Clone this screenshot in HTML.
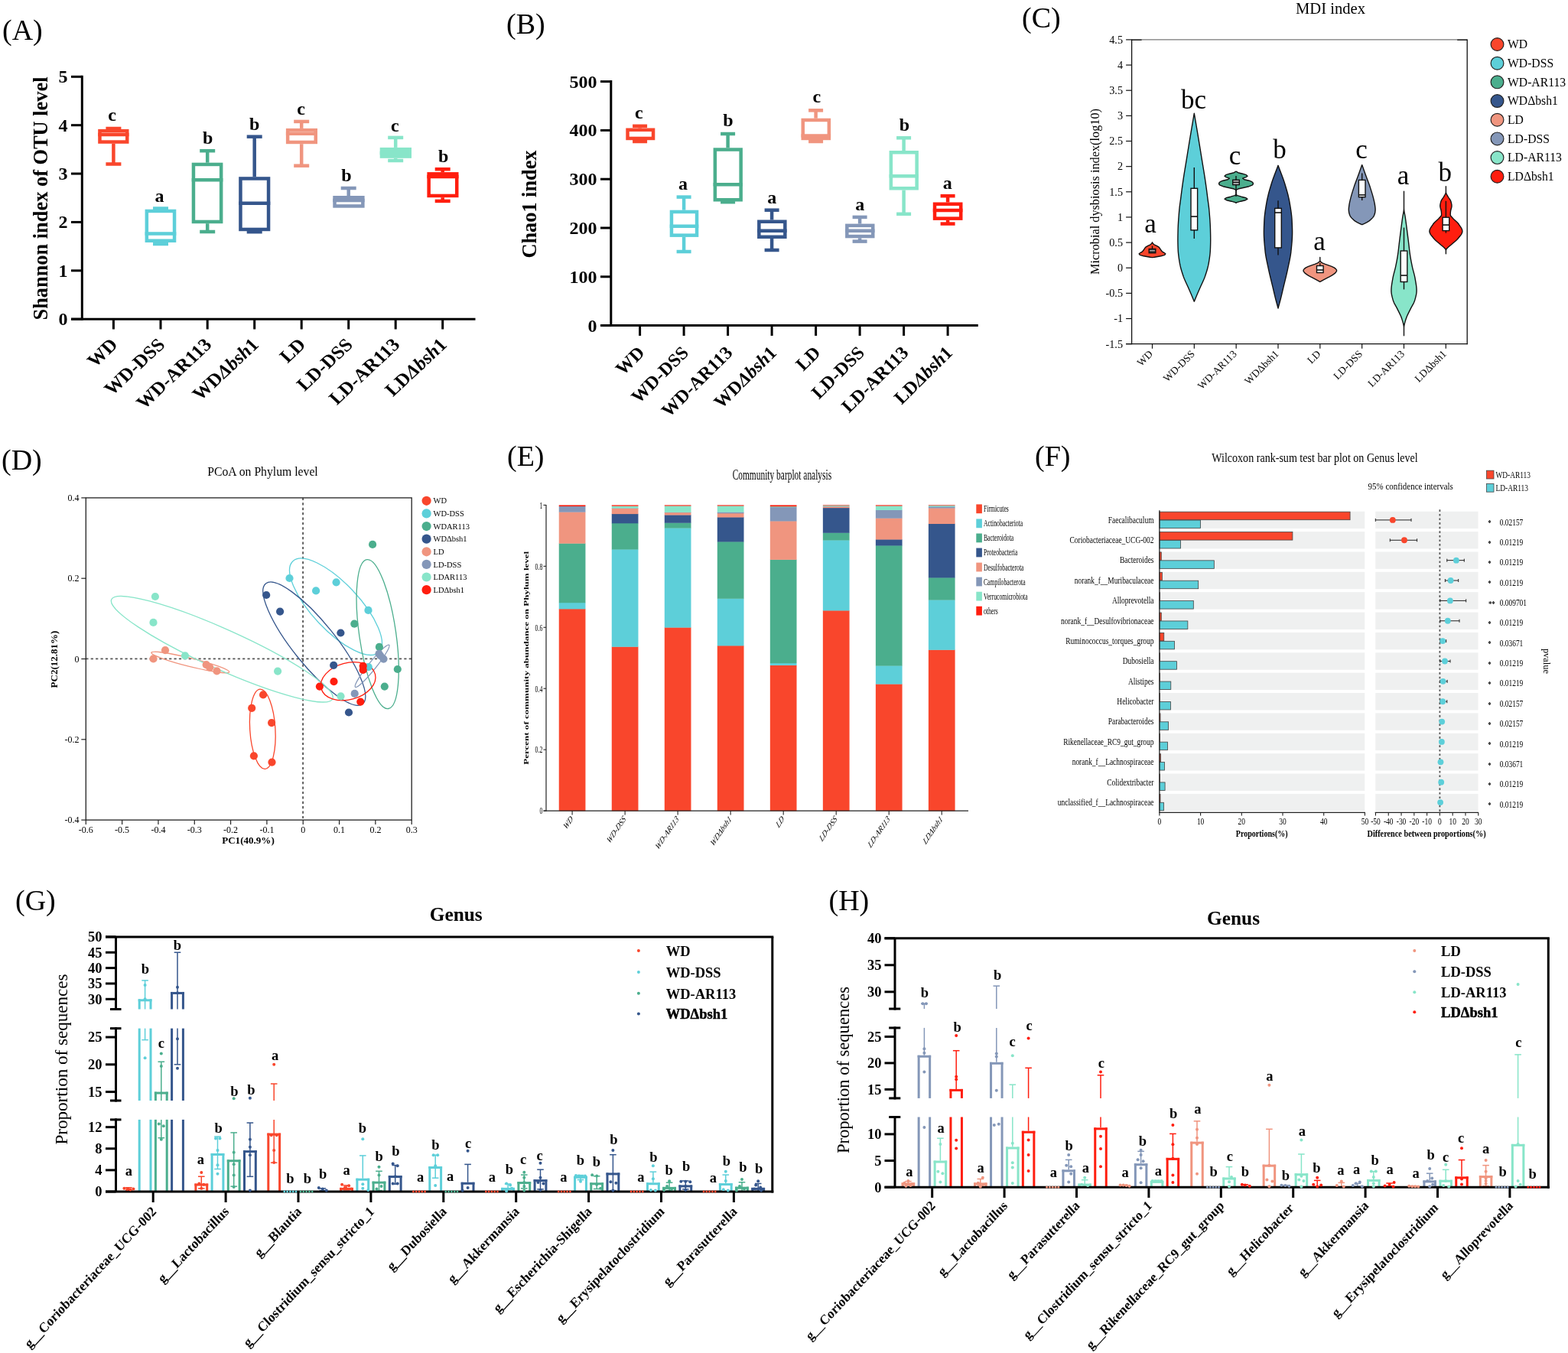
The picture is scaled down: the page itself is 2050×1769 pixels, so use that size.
<!DOCTYPE html>
<html lang="en">
<head>
<meta charset="utf-8">
<title>Figure</title>
<style>
html,body{margin:0;padding:0;background:#fff;}
body{width:2050px;height:1769px;overflow:hidden;}
svg{display:block;font-family:"Liberation Serif","DejaVu Serif",serif;}
</style>
</head>
<body>
<svg width="2050" height="1769" viewBox="0 0 2050 1769">
<rect x="0" y="0" width="2050" height="1769" fill="#ffffff"/>
<g id="pA">
<text x="3" y="52" font-size="38">(A)</text>
<line x1="107.3" y1="98.8" x2="107.3" y2="418.7" stroke="#000" stroke-width="3"/>
<line x1="93" y1="417.2" x2="621.5" y2="417.2" stroke="#000" stroke-width="3"/>
<line x1="93" y1="417.2" x2="107.3" y2="417.2" stroke="#000" stroke-width="3"/>
<text x="88.5" y="425.2" font-size="24" font-weight="bold" text-anchor="end">0</text>
<line x1="93" y1="353.82" x2="107.3" y2="353.82" stroke="#000" stroke-width="3"/>
<text x="88.5" y="361.82" font-size="24" font-weight="bold" text-anchor="end">1</text>
<line x1="93" y1="290.44" x2="107.3" y2="290.44" stroke="#000" stroke-width="3"/>
<text x="88.5" y="298.44" font-size="24" font-weight="bold" text-anchor="end">2</text>
<line x1="93" y1="227.06" x2="107.3" y2="227.06" stroke="#000" stroke-width="3"/>
<text x="88.5" y="235.06" font-size="24" font-weight="bold" text-anchor="end">3</text>
<line x1="93" y1="163.68" x2="107.3" y2="163.68" stroke="#000" stroke-width="3"/>
<text x="88.5" y="171.68" font-size="24" font-weight="bold" text-anchor="end">4</text>
<line x1="93" y1="100.3" x2="107.3" y2="100.3" stroke="#000" stroke-width="3"/>
<text x="88.5" y="108.3" font-size="24" font-weight="bold" text-anchor="end">5</text>
<line x1="148.4" y1="417.2" x2="148.4" y2="430.5" stroke="#000" stroke-width="3"/>
<line x1="210" y1="417.2" x2="210" y2="430.5" stroke="#000" stroke-width="3"/>
<line x1="271.2" y1="417.2" x2="271.2" y2="430.5" stroke="#000" stroke-width="3"/>
<line x1="332.7" y1="417.2" x2="332.7" y2="430.5" stroke="#000" stroke-width="3"/>
<line x1="394.2" y1="417.2" x2="394.2" y2="430.5" stroke="#000" stroke-width="3"/>
<line x1="455.7" y1="417.2" x2="455.7" y2="430.5" stroke="#000" stroke-width="3"/>
<line x1="517.2" y1="417.2" x2="517.2" y2="430.5" stroke="#000" stroke-width="3"/>
<line x1="578.7" y1="417.2" x2="578.7" y2="430.5" stroke="#000" stroke-width="3"/>
<text transform="translate(62 259.5) rotate(-90)" font-size="27" font-weight="bold" text-anchor="middle" textLength="318" lengthAdjust="spacingAndGlyphs">Shannon index of OTU level</text>
<line x1="148.4" y1="168" x2="148.4" y2="168.9" stroke="#F9462C" stroke-width="4.5"/>
<line x1="138.4" y1="168" x2="158.4" y2="168" stroke="#F9462C" stroke-width="4.5"/>
<line x1="148.4" y1="187.8" x2="148.4" y2="214.5" stroke="#F9462C" stroke-width="4.5"/>
<line x1="138.4" y1="214.5" x2="158.4" y2="214.5" stroke="#F9462C" stroke-width="4.5"/>
<rect x="130.45" y="171.15" width="35.8" height="14.4" fill="none" stroke="#F9462C" stroke-width="4.5"/>
<line x1="128.2" y1="176" x2="168.5" y2="176" stroke="#F9462C" stroke-width="4.5"/>
<line x1="210" y1="272.5" x2="210" y2="273.7" stroke="#5DCFD9" stroke-width="4.5"/>
<line x1="200" y1="272.5" x2="220" y2="272.5" stroke="#5DCFD9" stroke-width="4.5"/>
<line x1="210" y1="317" x2="210" y2="319" stroke="#5DCFD9" stroke-width="4.5"/>
<line x1="200" y1="319" x2="220" y2="319" stroke="#5DCFD9" stroke-width="4.5"/>
<rect x="191.85" y="275.95" width="36.2" height="38.8" fill="none" stroke="#5DCFD9" stroke-width="4.5"/>
<line x1="189.6" y1="305.6" x2="230.3" y2="305.6" stroke="#5DCFD9" stroke-width="4.5"/>
<line x1="271.2" y1="197.2" x2="271.2" y2="212.7" stroke="#4BAE8D" stroke-width="4.5"/>
<line x1="261.2" y1="197.2" x2="281.2" y2="197.2" stroke="#4BAE8D" stroke-width="4.5"/>
<line x1="271.2" y1="292.2" x2="271.2" y2="303" stroke="#4BAE8D" stroke-width="4.5"/>
<line x1="261.2" y1="303" x2="281.2" y2="303" stroke="#4BAE8D" stroke-width="4.5"/>
<rect x="252.95" y="214.95" width="36.2" height="75" fill="none" stroke="#4BAE8D" stroke-width="4.5"/>
<line x1="250.7" y1="235.2" x2="291.4" y2="235.2" stroke="#4BAE8D" stroke-width="4.5"/>
<line x1="332.7" y1="178.7" x2="332.7" y2="231.2" stroke="#35568C" stroke-width="4.5"/>
<line x1="322.7" y1="178.7" x2="342.7" y2="178.7" stroke="#35568C" stroke-width="4.5"/>
<line x1="332.7" y1="302.2" x2="332.7" y2="303.2" stroke="#35568C" stroke-width="4.5"/>
<line x1="322.7" y1="303.2" x2="342.7" y2="303.2" stroke="#35568C" stroke-width="4.5"/>
<rect x="314.45" y="233.45" width="36.6" height="66.5" fill="none" stroke="#35568C" stroke-width="4.5"/>
<line x1="312.2" y1="265.8" x2="353.3" y2="265.8" stroke="#35568C" stroke-width="4.5"/>
<line x1="394.2" y1="158.9" x2="394.2" y2="167.9" stroke="#F0957F" stroke-width="4.5"/>
<line x1="384.2" y1="158.9" x2="404.2" y2="158.9" stroke="#F0957F" stroke-width="4.5"/>
<line x1="394.2" y1="188.2" x2="394.2" y2="216.7" stroke="#F0957F" stroke-width="4.5"/>
<line x1="384.2" y1="216.7" x2="404.2" y2="216.7" stroke="#F0957F" stroke-width="4.5"/>
<rect x="376.15" y="170.15" width="36.6" height="15.8" fill="none" stroke="#F0957F" stroke-width="4.5"/>
<line x1="373.9" y1="174.8" x2="415" y2="174.8" stroke="#F0957F" stroke-width="4.5"/>
<line x1="455.7" y1="246" x2="455.7" y2="256" stroke="#8497B8" stroke-width="4.5"/>
<line x1="445.7" y1="246" x2="465.7" y2="246" stroke="#8497B8" stroke-width="4.5"/>
<rect x="437.55" y="258.25" width="36.8" height="11.2" fill="none" stroke="#8497B8" stroke-width="4.5"/>
<line x1="435.3" y1="262" x2="476.6" y2="262" stroke="#8497B8" stroke-width="4.5"/>
<line x1="517.2" y1="179.9" x2="517.2" y2="192.9" stroke="#88E5C9" stroke-width="4.5"/>
<line x1="507.2" y1="179.9" x2="527.2" y2="179.9" stroke="#88E5C9" stroke-width="4.5"/>
<line x1="517.2" y1="206.8" x2="517.2" y2="210" stroke="#88E5C9" stroke-width="4.5"/>
<line x1="507.2" y1="210" x2="527.2" y2="210" stroke="#88E5C9" stroke-width="4.5"/>
<rect x="498.95" y="195.15" width="36.8" height="9.4" fill="none" stroke="#88E5C9" stroke-width="4.5"/>
<line x1="496.7" y1="200" x2="538" y2="200" stroke="#88E5C9" stroke-width="4.5"/>
<line x1="578.7" y1="221.2" x2="578.7" y2="225.1" stroke="#FF1E0F" stroke-width="4.5"/>
<line x1="568.7" y1="221.2" x2="588.7" y2="221.2" stroke="#FF1E0F" stroke-width="4.5"/>
<line x1="578.7" y1="258.2" x2="578.7" y2="262.9" stroke="#FF1E0F" stroke-width="4.5"/>
<line x1="568.7" y1="262.9" x2="588.7" y2="262.9" stroke="#FF1E0F" stroke-width="4.5"/>
<rect x="560.65" y="227.35" width="36.6" height="28.6" fill="none" stroke="#FF1E0F" stroke-width="4.5"/>
<line x1="558.4" y1="231" x2="599.5" y2="231" stroke="#FF1E0F" stroke-width="4.5"/>
<rect x="499" y="195" width="36.5" height="9.5" fill="#88E5C9"/>
<text x="146.5" y="158.3" font-size="24" font-weight="bold" text-anchor="middle">c</text>
<text x="208.5" y="264.1" font-size="24" font-weight="bold" text-anchor="middle">a</text>
<text x="271.6" y="187.8" font-size="24" font-weight="bold" text-anchor="middle">b</text>
<text x="332.6" y="169.5" font-size="24" font-weight="bold" text-anchor="middle">b</text>
<text x="393.6" y="150.2" font-size="24" font-weight="bold" text-anchor="middle">c</text>
<text x="453" y="237.3" font-size="24" font-weight="bold" text-anchor="middle">b</text>
<text x="516.3" y="171.6" font-size="24" font-weight="bold" text-anchor="middle">c</text>
<text x="579.8" y="212.2" font-size="24" font-weight="bold" text-anchor="middle">b</text>
<text transform="translate(155.4 452) scale(1.07 1) rotate(-45)" font-size="24" font-weight="bold" text-anchor="end">WD</text>
<text transform="translate(217 452) scale(1.07 1) rotate(-45)" font-size="24" font-weight="bold" text-anchor="end">WD-DSS</text>
<text transform="translate(278.2 452) scale(1.07 1) rotate(-45)" font-size="24" font-weight="bold" text-anchor="end">WD-AR113</text>
<text transform="translate(339.7 452) scale(1.07 1) rotate(-45)" font-size="24" font-weight="bold" text-anchor="end">WD<tspan font-style="italic">Δbsh</tspan>1</text>
<text transform="translate(401.2 452) scale(1.07 1) rotate(-45)" font-size="24" font-weight="bold" text-anchor="end">LD</text>
<text transform="translate(462.7 452) scale(1.07 1) rotate(-45)" font-size="24" font-weight="bold" text-anchor="end">LD-DSS</text>
<text transform="translate(524.2 452) scale(1.07 1) rotate(-45)" font-size="24" font-weight="bold" text-anchor="end">LD-AR113</text>
<text transform="translate(585.7 452) scale(1.07 1) rotate(-45)" font-size="24" font-weight="bold" text-anchor="end">LD<tspan font-style="italic">Δbsh</tspan>1</text>
</g>
<g id="pB">
<text x="662" y="44" font-size="38">(B)</text>
<line x1="798.8" y1="105.1" x2="798.8" y2="427.1" stroke="#000" stroke-width="3"/>
<line x1="785" y1="425.6" x2="1278.8" y2="425.6" stroke="#000" stroke-width="3"/>
<line x1="785" y1="425.6" x2="798.8" y2="425.6" stroke="#000" stroke-width="3"/>
<text x="780.5" y="433.6" font-size="24" font-weight="bold" text-anchor="end">0</text>
<line x1="785" y1="361.8" x2="798.8" y2="361.8" stroke="#000" stroke-width="3"/>
<text x="780.5" y="369.8" font-size="24" font-weight="bold" text-anchor="end">100</text>
<line x1="785" y1="298" x2="798.8" y2="298" stroke="#000" stroke-width="3"/>
<text x="780.5" y="306" font-size="24" font-weight="bold" text-anchor="end">200</text>
<line x1="785" y1="234.2" x2="798.8" y2="234.2" stroke="#000" stroke-width="3"/>
<text x="780.5" y="242.2" font-size="24" font-weight="bold" text-anchor="end">300</text>
<line x1="785" y1="170.4" x2="798.8" y2="170.4" stroke="#000" stroke-width="3"/>
<text x="780.5" y="178.4" font-size="24" font-weight="bold" text-anchor="end">400</text>
<line x1="785" y1="106.6" x2="798.8" y2="106.6" stroke="#000" stroke-width="3"/>
<text x="780.5" y="114.6" font-size="24" font-weight="bold" text-anchor="end">500</text>
<line x1="836.6" y1="425.6" x2="836.6" y2="439" stroke="#000" stroke-width="3"/>
<line x1="894.1" y1="425.6" x2="894.1" y2="439" stroke="#000" stroke-width="3"/>
<line x1="951.6" y1="425.6" x2="951.6" y2="439" stroke="#000" stroke-width="3"/>
<line x1="1009.1" y1="425.6" x2="1009.1" y2="439" stroke="#000" stroke-width="3"/>
<line x1="1066.6" y1="425.6" x2="1066.6" y2="439" stroke="#000" stroke-width="3"/>
<line x1="1124.1" y1="425.6" x2="1124.1" y2="439" stroke="#000" stroke-width="3"/>
<line x1="1181.6" y1="425.6" x2="1181.6" y2="439" stroke="#000" stroke-width="3"/>
<line x1="1239.1" y1="425.6" x2="1239.1" y2="439" stroke="#000" stroke-width="3"/>
<text transform="translate(700.5 267) rotate(-90)" font-size="27" font-weight="bold" text-anchor="middle" textLength="141" lengthAdjust="spacingAndGlyphs">Chao1 index</text>
<line x1="836.6" y1="164.8" x2="836.6" y2="167.5" stroke="#F9462C" stroke-width="4.5"/>
<line x1="827.1" y1="164.8" x2="846.1" y2="164.8" stroke="#F9462C" stroke-width="4.5"/>
<line x1="836.6" y1="183.2" x2="836.6" y2="185" stroke="#F9462C" stroke-width="4.5"/>
<line x1="827.1" y1="185" x2="846.1" y2="185" stroke="#F9462C" stroke-width="4.5"/>
<rect x="820.55" y="169.75" width="33.5" height="11.2" fill="none" stroke="#F9462C" stroke-width="4.5"/>
<line x1="894.1" y1="257.6" x2="894.1" y2="274.7" stroke="#5DCFD9" stroke-width="4.5"/>
<line x1="884.6" y1="257.6" x2="903.6" y2="257.6" stroke="#5DCFD9" stroke-width="4.5"/>
<line x1="894.1" y1="309.9" x2="894.1" y2="329" stroke="#5DCFD9" stroke-width="4.5"/>
<line x1="884.6" y1="329" x2="903.6" y2="329" stroke="#5DCFD9" stroke-width="4.5"/>
<rect x="877.95" y="276.95" width="33.1" height="30.7" fill="none" stroke="#5DCFD9" stroke-width="4.5"/>
<line x1="875.7" y1="295.7" x2="913.3" y2="295.7" stroke="#5DCFD9" stroke-width="4.5"/>
<line x1="951.6" y1="175" x2="951.6" y2="193.3" stroke="#4BAE8D" stroke-width="4.5"/>
<line x1="942.1" y1="175" x2="961.1" y2="175" stroke="#4BAE8D" stroke-width="4.5"/>
<line x1="951.6" y1="263.5" x2="951.6" y2="264.2" stroke="#4BAE8D" stroke-width="4.5"/>
<line x1="942.1" y1="264.2" x2="961.1" y2="264.2" stroke="#4BAE8D" stroke-width="4.5"/>
<rect x="934.85" y="195.55" width="33.8" height="65.7" fill="none" stroke="#4BAE8D" stroke-width="4.5"/>
<line x1="932.6" y1="241.3" x2="970.9" y2="241.3" stroke="#4BAE8D" stroke-width="4.5"/>
<line x1="1009.1" y1="274.7" x2="1009.1" y2="287.5" stroke="#35568C" stroke-width="4.5"/>
<line x1="999.6" y1="274.7" x2="1018.6" y2="274.7" stroke="#35568C" stroke-width="4.5"/>
<line x1="1009.1" y1="312" x2="1009.1" y2="327" stroke="#35568C" stroke-width="4.5"/>
<line x1="999.6" y1="327" x2="1018.6" y2="327" stroke="#35568C" stroke-width="4.5"/>
<rect x="992.35" y="289.75" width="34" height="20" fill="none" stroke="#35568C" stroke-width="4.5"/>
<line x1="990.1" y1="301.8" x2="1028.6" y2="301.8" stroke="#35568C" stroke-width="4.5"/>
<line x1="1066.6" y1="144.3" x2="1066.6" y2="154.7" stroke="#F0957F" stroke-width="4.5"/>
<line x1="1057.1" y1="144.3" x2="1076.1" y2="144.3" stroke="#F0957F" stroke-width="4.5"/>
<line x1="1066.6" y1="183.2" x2="1066.6" y2="185" stroke="#F0957F" stroke-width="4.5"/>
<line x1="1057.1" y1="185" x2="1076.1" y2="185" stroke="#F0957F" stroke-width="4.5"/>
<rect x="1049.75" y="156.95" width="34.1" height="24" fill="none" stroke="#F0957F" stroke-width="4.5"/>
<line x1="1047.5" y1="177.5" x2="1086.1" y2="177.5" stroke="#F0957F" stroke-width="4.5"/>
<line x1="1124.1" y1="283.9" x2="1124.1" y2="292.6" stroke="#8497B8" stroke-width="4.5"/>
<line x1="1114.6" y1="283.9" x2="1133.6" y2="283.9" stroke="#8497B8" stroke-width="4.5"/>
<line x1="1124.1" y1="311.3" x2="1124.1" y2="315.6" stroke="#8497B8" stroke-width="4.5"/>
<line x1="1114.6" y1="315.6" x2="1133.6" y2="315.6" stroke="#8497B8" stroke-width="4.5"/>
<rect x="1107.35" y="294.85" width="33.9" height="14.2" fill="none" stroke="#8497B8" stroke-width="4.5"/>
<line x1="1105.1" y1="301.8" x2="1143.5" y2="301.8" stroke="#8497B8" stroke-width="4.5"/>
<line x1="1181.6" y1="180.3" x2="1181.6" y2="197" stroke="#88E5C9" stroke-width="4.5"/>
<line x1="1172.1" y1="180.3" x2="1191.1" y2="180.3" stroke="#88E5C9" stroke-width="4.5"/>
<line x1="1181.6" y1="248.5" x2="1181.6" y2="279.8" stroke="#88E5C9" stroke-width="4.5"/>
<line x1="1172.1" y1="279.8" x2="1191.1" y2="279.8" stroke="#88E5C9" stroke-width="4.5"/>
<rect x="1164.85" y="199.25" width="33.8" height="47" fill="none" stroke="#88E5C9" stroke-width="4.5"/>
<line x1="1162.6" y1="230.2" x2="1200.9" y2="230.2" stroke="#88E5C9" stroke-width="4.5"/>
<line x1="1239.1" y1="256.2" x2="1239.1" y2="264.5" stroke="#FF1E0F" stroke-width="4.5"/>
<line x1="1229.6" y1="256.2" x2="1248.6" y2="256.2" stroke="#FF1E0F" stroke-width="4.5"/>
<line x1="1239.1" y1="287.9" x2="1239.1" y2="292.6" stroke="#FF1E0F" stroke-width="4.5"/>
<line x1="1229.6" y1="292.6" x2="1248.6" y2="292.6" stroke="#FF1E0F" stroke-width="4.5"/>
<rect x="1222.05" y="266.75" width="34.2" height="18.9" fill="none" stroke="#FF1E0F" stroke-width="4.5"/>
<line x1="1219.8" y1="274.9" x2="1258.5" y2="274.9" stroke="#FF1E0F" stroke-width="4.5"/>
<text x="835.4" y="155.3" font-size="24" font-weight="bold" text-anchor="middle">c</text>
<text x="893" y="247.9" font-size="24" font-weight="bold" text-anchor="middle">a</text>
<text x="952" y="165" font-size="24" font-weight="bold" text-anchor="middle">b</text>
<text x="1009.2" y="266.2" font-size="24" font-weight="bold" text-anchor="middle">a</text>
<text x="1067.8" y="133.9" font-size="24" font-weight="bold" text-anchor="middle">c</text>
<text x="1124.2" y="274.7" font-size="24" font-weight="bold" text-anchor="middle">a</text>
<text x="1182.4" y="171" font-size="24" font-weight="bold" text-anchor="middle">b</text>
<text x="1238.7" y="247.2" font-size="24" font-weight="bold" text-anchor="middle">a</text>
<text transform="translate(844.1 462.5) scale(1.01 1) rotate(-45)" font-size="24" font-weight="bold" text-anchor="end">WD</text>
<text transform="translate(901.6 462.5) scale(1.01 1) rotate(-45)" font-size="24" font-weight="bold" text-anchor="end">WD-DSS</text>
<text transform="translate(959.1 462.5) scale(1.01 1) rotate(-45)" font-size="24" font-weight="bold" text-anchor="end">WD-AR113</text>
<text transform="translate(1016.6 462.5) scale(1.01 1) rotate(-45)" font-size="24" font-weight="bold" text-anchor="end">WD<tspan font-style="italic">Δbsh</tspan>1</text>
<text transform="translate(1074.1 462.5) scale(1.01 1) rotate(-45)" font-size="24" font-weight="bold" text-anchor="end">LD</text>
<text transform="translate(1131.6 462.5) scale(1.01 1) rotate(-45)" font-size="24" font-weight="bold" text-anchor="end">LD-DSS</text>
<text transform="translate(1189.1 462.5) scale(1.01 1) rotate(-45)" font-size="24" font-weight="bold" text-anchor="end">LD-AR113</text>
<text transform="translate(1246.6 462.5) scale(1.01 1) rotate(-45)" font-size="24" font-weight="bold" text-anchor="end">LD<tspan font-style="italic">Δbsh</tspan>1</text>
</g>
<g id="pC">
<text x="1336" y="36.3" font-size="38">(C)</text>
<text x="1739.5" y="17.5" font-size="20" text-anchor="middle" textLength="91" lengthAdjust="spacingAndGlyphs">MDI index</text>
<line x1="1479.6" y1="51.9" x2="1918.2" y2="51.9" stroke="#555" stroke-width="1"/>
<line x1="1479.6" y1="51.4" x2="1479.6" y2="450.3" stroke="#111" stroke-width="1.3"/>
<line x1="1918.2" y1="51.4" x2="1918.2" y2="450.3" stroke="#111" stroke-width="1.3"/>
<line x1="1472.1" y1="449.7" x2="1918.8" y2="449.7" stroke="#111" stroke-width="1.3"/>
<line x1="1479.6" y1="52.2" x2="1492.6" y2="52.2" stroke="#111" stroke-width="1.2"/>
<line x1="1905.2" y1="52.2" x2="1918.2" y2="52.2" stroke="#111" stroke-width="1.2"/>
<line x1="1472.1" y1="449.7" x2="1479.6" y2="449.7" stroke="#111" stroke-width="1.2"/>
<text x="1468" y="454.5" font-size="14.2" text-anchor="end">-1.5</text>
<line x1="1472.1" y1="416.55" x2="1479.6" y2="416.55" stroke="#111" stroke-width="1.2"/>
<text x="1468" y="421.35" font-size="14.2" text-anchor="end">-1</text>
<line x1="1472.1" y1="383.4" x2="1479.6" y2="383.4" stroke="#111" stroke-width="1.2"/>
<text x="1468" y="388.2" font-size="14.2" text-anchor="end">-0.5</text>
<line x1="1472.1" y1="350.25" x2="1479.6" y2="350.25" stroke="#111" stroke-width="1.2"/>
<text x="1468" y="355.05" font-size="14.2" text-anchor="end">0</text>
<line x1="1472.1" y1="317.1" x2="1479.6" y2="317.1" stroke="#111" stroke-width="1.2"/>
<text x="1468" y="321.9" font-size="14.2" text-anchor="end">0.5</text>
<line x1="1472.1" y1="283.95" x2="1479.6" y2="283.95" stroke="#111" stroke-width="1.2"/>
<text x="1468" y="288.75" font-size="14.2" text-anchor="end">1</text>
<line x1="1472.1" y1="250.8" x2="1479.6" y2="250.8" stroke="#111" stroke-width="1.2"/>
<text x="1468" y="255.6" font-size="14.2" text-anchor="end">1.5</text>
<line x1="1472.1" y1="217.65" x2="1479.6" y2="217.65" stroke="#111" stroke-width="1.2"/>
<text x="1468" y="222.45" font-size="14.2" text-anchor="end">2</text>
<line x1="1472.1" y1="184.5" x2="1479.6" y2="184.5" stroke="#111" stroke-width="1.2"/>
<text x="1468" y="189.3" font-size="14.2" text-anchor="end">2.5</text>
<line x1="1472.1" y1="151.35" x2="1479.6" y2="151.35" stroke="#111" stroke-width="1.2"/>
<text x="1468" y="156.15" font-size="14.2" text-anchor="end">3</text>
<line x1="1472.1" y1="118.2" x2="1479.6" y2="118.2" stroke="#111" stroke-width="1.2"/>
<text x="1468" y="123" font-size="14.2" text-anchor="end">3.5</text>
<line x1="1472.1" y1="85.05" x2="1479.6" y2="85.05" stroke="#111" stroke-width="1.2"/>
<text x="1468" y="89.85" font-size="14.2" text-anchor="end">4</text>
<line x1="1472.1" y1="51.9" x2="1479.6" y2="51.9" stroke="#111" stroke-width="1.2"/>
<text x="1468" y="56.7" font-size="14.2" text-anchor="end">4.5</text>
<line x1="1506.5" y1="449.7" x2="1506.5" y2="455.8" stroke="#111" stroke-width="1.2"/>
<line x1="1561.33" y1="449.7" x2="1561.33" y2="455.8" stroke="#111" stroke-width="1.2"/>
<line x1="1616.16" y1="449.7" x2="1616.16" y2="455.8" stroke="#111" stroke-width="1.2"/>
<line x1="1670.99" y1="449.7" x2="1670.99" y2="455.8" stroke="#111" stroke-width="1.2"/>
<line x1="1725.82" y1="449.7" x2="1725.82" y2="455.8" stroke="#111" stroke-width="1.2"/>
<line x1="1780.65" y1="449.7" x2="1780.65" y2="455.8" stroke="#111" stroke-width="1.2"/>
<line x1="1835.48" y1="449.7" x2="1835.48" y2="455.8" stroke="#111" stroke-width="1.2"/>
<line x1="1890.31" y1="449.7" x2="1890.31" y2="455.8" stroke="#111" stroke-width="1.2"/>
<text transform="translate(1436.5 250.5) rotate(-90)" font-size="16.3" text-anchor="middle" textLength="217" lengthAdjust="spacingAndGlyphs">Microbial dysbiosis index(log10)</text>
<path d="M1506.5 316.8 L1507.2 318.3 L1508.9 319.8 L1512.2 321.3 L1514.74 322.8 L1516.14 324.3 L1517.15 325.8 L1518.11 327.3 L1519.29 328.8 L1521.76 330.3 L1523.8 331.8 L1522.69 333.3 L1517.77 334.8 L1509.34 336.3 L1506.5 336.6 L1506.5 336.6 L1503.66 336.3 L1495.23 334.8 L1490.31 333.3 L1489.2 331.8 L1491.24 330.3 L1493.71 328.8 L1494.89 327.3 L1495.85 325.8 L1496.86 324.3 L1498.26 322.8 L1500.8 321.3 L1504.1 319.8 L1505.8 318.3 L1506.5 316.8 Z" fill="#F9462C" stroke="#111" stroke-width="1.4" stroke-linejoin="round"/>
<path d="M1561.3 148.2 L1561.55 149.7 L1561.81 151.2 L1562.06 152.7 L1562.32 154.2 L1562.57 155.7 L1562.83 157.2 L1563.09 158.7 L1563.34 160.2 L1563.6 161.7 L1563.85 163.2 L1564.11 164.7 L1564.36 166.2 L1564.62 167.7 L1564.87 169.2 L1565.12 170.7 L1565.38 172.2 L1565.63 173.7 L1565.88 175.2 L1566.13 176.7 L1566.38 178.2 L1566.63 179.7 L1566.88 181.2 L1567.13 182.7 L1567.38 184.2 L1567.62 185.7 L1567.87 187.2 L1568.11 188.7 L1568.36 190.2 L1568.6 191.7 L1568.84 193.2 L1569.08 194.7 L1569.33 196.2 L1569.57 197.7 L1569.81 199.2 L1570.05 200.7 L1570.29 202.2 L1570.54 203.7 L1570.78 205.2 L1571.02 206.7 L1571.26 208.2 L1571.51 209.7 L1571.76 211.2 L1572 212.7 L1572.25 214.2 L1572.5 215.7 L1572.75 217.2 L1573 218.7 L1573.25 220.2 L1573.49 221.7 L1573.74 223.2 L1573.99 224.7 L1574.23 226.2 L1574.47 227.7 L1574.71 229.2 L1574.94 230.7 L1575.18 232.2 L1575.4 233.7 L1575.63 235.2 L1575.85 236.7 L1576.07 238.2 L1576.29 239.7 L1576.5 241.2 L1576.71 242.7 L1576.92 244.2 L1577.12 245.7 L1577.33 247.2 L1577.53 248.7 L1577.73 250.2 L1577.92 251.7 L1578.11 253.2 L1578.3 254.7 L1578.49 256.2 L1578.67 257.7 L1578.86 259.2 L1579.06 260.7 L1579.26 262.2 L1579.47 263.7 L1579.68 265.2 L1579.89 266.7 L1580.09 268.2 L1580.28 269.7 L1580.47 271.2 L1580.64 272.7 L1580.79 274.2 L1580.93 275.7 L1581.05 277.2 L1581.18 278.7 L1581.3 280.2 L1581.42 281.7 L1581.54 283.2 L1581.65 284.7 L1581.76 286.2 L1581.87 287.7 L1581.97 289.2 L1582.06 290.7 L1582.15 292.2 L1582.23 293.7 L1582.3 295.2 L1582.36 296.7 L1582.42 298.2 L1582.47 299.7 L1582.51 301.2 L1582.54 302.7 L1582.58 304.2 L1582.61 305.7 L1582.64 307.2 L1582.66 308.7 L1582.68 310.2 L1582.69 311.7 L1582.7 313.2 L1582.7 314.7 L1582.68 316.2 L1582.66 317.7 L1582.63 319.2 L1582.59 320.7 L1582.55 322.2 L1582.5 323.7 L1582.44 325.2 L1582.38 326.7 L1582.3 328.2 L1582.2 329.7 L1582.07 331.2 L1581.91 332.7 L1581.74 334.2 L1581.55 335.7 L1581.35 337.2 L1581.13 338.7 L1580.9 340.2 L1580.66 341.7 L1580.42 343.2 L1580.15 344.7 L1579.85 346.2 L1579.52 347.7 L1579.15 349.2 L1578.76 350.7 L1578.35 352.2 L1577.91 353.7 L1577.45 355.2 L1576.98 356.7 L1576.49 358.2 L1576 359.7 L1575.49 361.2 L1574.94 362.7 L1574.35 364.2 L1573.72 365.7 L1573.06 367.2 L1572.39 368.7 L1571.7 370.2 L1571 371.7 L1570.3 373.2 L1569.61 374.7 L1568.94 376.2 L1568.28 377.7 L1567.63 379.2 L1566.97 380.7 L1566.31 382.2 L1565.66 383.7 L1565.01 385.2 L1564.38 386.7 L1563.76 388.2 L1563.14 389.7 L1562.53 391.2 L1561.92 392.7 L1561.3 394.2 L1561.3 394.2 L1560.68 392.7 L1560.07 391.2 L1559.46 389.7 L1558.84 388.2 L1558.22 386.7 L1557.59 385.2 L1556.94 383.7 L1556.29 382.2 L1555.63 380.7 L1554.97 379.2 L1554.32 377.7 L1553.66 376.2 L1552.99 374.7 L1552.3 373.2 L1551.6 371.7 L1550.9 370.2 L1550.21 368.7 L1549.54 367.2 L1548.88 365.7 L1548.25 364.2 L1547.66 362.7 L1547.11 361.2 L1546.6 359.7 L1546.11 358.2 L1545.62 356.7 L1545.15 355.2 L1544.69 353.7 L1544.25 352.2 L1543.84 350.7 L1543.45 349.2 L1543.08 347.7 L1542.75 346.2 L1542.45 344.7 L1542.18 343.2 L1541.94 341.7 L1541.7 340.2 L1541.47 338.7 L1541.25 337.2 L1541.05 335.7 L1540.86 334.2 L1540.69 332.7 L1540.53 331.2 L1540.4 329.7 L1540.3 328.2 L1540.22 326.7 L1540.16 325.2 L1540.1 323.7 L1540.05 322.2 L1540.01 320.7 L1539.97 319.2 L1539.94 317.7 L1539.92 316.2 L1539.9 314.7 L1539.9 313.2 L1539.91 311.7 L1539.92 310.2 L1539.94 308.7 L1539.96 307.2 L1539.99 305.7 L1540.02 304.2 L1540.06 302.7 L1540.09 301.2 L1540.13 299.7 L1540.18 298.2 L1540.24 296.7 L1540.3 295.2 L1540.37 293.7 L1540.45 292.2 L1540.54 290.7 L1540.63 289.2 L1540.73 287.7 L1540.84 286.2 L1540.95 284.7 L1541.06 283.2 L1541.18 281.7 L1541.3 280.2 L1541.42 278.7 L1541.55 277.2 L1541.67 275.7 L1541.81 274.2 L1541.96 272.7 L1542.13 271.2 L1542.32 269.7 L1542.51 268.2 L1542.71 266.7 L1542.92 265.2 L1543.13 263.7 L1543.34 262.2 L1543.54 260.7 L1543.74 259.2 L1543.93 257.7 L1544.11 256.2 L1544.3 254.7 L1544.49 253.2 L1544.68 251.7 L1544.87 250.2 L1545.07 248.7 L1545.27 247.2 L1545.48 245.7 L1545.68 244.2 L1545.89 242.7 L1546.1 241.2 L1546.31 239.7 L1546.53 238.2 L1546.75 236.7 L1546.97 235.2 L1547.2 233.7 L1547.42 232.2 L1547.66 230.7 L1547.89 229.2 L1548.13 227.7 L1548.37 226.2 L1548.61 224.7 L1548.86 223.2 L1549.11 221.7 L1549.35 220.2 L1549.6 218.7 L1549.85 217.2 L1550.1 215.7 L1550.35 214.2 L1550.6 212.7 L1550.84 211.2 L1551.09 209.7 L1551.34 208.2 L1551.58 206.7 L1551.82 205.2 L1552.06 203.7 L1552.31 202.2 L1552.55 200.7 L1552.79 199.2 L1553.03 197.7 L1553.27 196.2 L1553.52 194.7 L1553.76 193.2 L1554 191.7 L1554.24 190.2 L1554.49 188.7 L1554.73 187.2 L1554.98 185.7 L1555.22 184.2 L1555.47 182.7 L1555.72 181.2 L1555.97 179.7 L1556.22 178.2 L1556.47 176.7 L1556.72 175.2 L1556.97 173.7 L1557.22 172.2 L1557.48 170.7 L1557.73 169.2 L1557.98 167.7 L1558.24 166.2 L1558.49 164.7 L1558.75 163.2 L1559 161.7 L1559.26 160.2 L1559.51 158.7 L1559.77 157.2 L1560.03 155.7 L1560.28 154.2 L1560.54 152.7 L1560.79 151.2 L1561.05 149.7 L1561.3 148.2 Z" fill="#5DCFD9" stroke="#111" stroke-width="1.4" stroke-linejoin="round"/>
<path d="M1616 224.2 L1618.66 225.7 L1624.63 227.2 L1629.33 228.7 L1631 230.2 L1628.88 231.7 L1624.67 233.2 L1626.82 234.7 L1633.14 236.2 L1636.76 237.7 L1638.29 239.2 L1638.33 240.7 L1636.92 242.2 L1633.06 243.7 L1626.45 245.2 L1619.68 246.7 L1616.52 248.2 L1616 249.7 L1616 251.2 L1616 252.7 L1616.03 254.2 L1617.74 255.7 L1622.98 257.2 L1629.01 258.7 L1630.99 260.2 L1628.34 261.7 L1622.14 263.2 L1617 264.7 L1616 265.3 L1616 265.3 L1615 264.7 L1609.86 263.2 L1603.66 261.7 L1601.01 260.2 L1602.99 258.7 L1609.02 257.2 L1614.26 255.7 L1615.97 254.2 L1616 252.7 L1616 251.2 L1616 249.7 L1615.48 248.2 L1612.32 246.7 L1605.55 245.2 L1598.94 243.7 L1595.08 242.2 L1593.67 240.7 L1593.71 239.2 L1595.24 237.7 L1598.86 236.2 L1605.18 234.7 L1607.33 233.2 L1603.12 231.7 L1601 230.2 L1602.67 228.7 L1607.37 227.2 L1613.34 225.7 L1616 224.2 Z" fill="#4BAE8D" stroke="#111" stroke-width="1.4" stroke-linejoin="round"/>
<path d="M1671 216.3 L1671.55 217.8 L1672.11 219.3 L1672.68 220.8 L1673.25 222.3 L1673.82 223.8 L1674.4 225.3 L1674.97 226.8 L1675.55 228.3 L1676.11 229.8 L1676.67 231.3 L1677.22 232.8 L1677.76 234.3 L1678.28 235.8 L1678.79 237.3 L1679.28 238.8 L1679.75 240.3 L1680.2 241.8 L1680.65 243.3 L1681.1 244.8 L1681.54 246.3 L1681.98 247.8 L1682.41 249.3 L1682.83 250.8 L1683.24 252.3 L1683.63 253.8 L1684.02 255.3 L1684.39 256.8 L1684.74 258.3 L1685.08 259.8 L1685.39 261.3 L1685.69 262.8 L1685.97 264.3 L1686.22 265.8 L1686.48 267.3 L1686.74 268.8 L1686.98 270.3 L1687.23 271.8 L1687.46 273.3 L1687.69 274.8 L1687.91 276.3 L1688.11 277.8 L1688.3 279.3 L1688.48 280.8 L1688.64 282.3 L1688.78 283.8 L1688.91 285.3 L1689.02 286.8 L1689.1 288.3 L1689.17 289.8 L1689.24 291.3 L1689.31 292.8 L1689.37 294.3 L1689.43 295.8 L1689.48 297.3 L1689.53 298.8 L1689.56 300.3 L1689.59 301.8 L1689.6 303.3 L1689.6 304.8 L1689.58 306.3 L1689.54 307.8 L1689.49 309.3 L1689.42 310.8 L1689.34 312.3 L1689.25 313.8 L1689.14 315.3 L1689.03 316.8 L1688.9 318.3 L1688.77 319.8 L1688.63 321.3 L1688.49 322.8 L1688.35 324.3 L1688.2 325.8 L1688.05 327.3 L1687.89 328.8 L1687.72 330.3 L1687.51 331.8 L1687.28 333.3 L1687.04 334.8 L1686.77 336.3 L1686.5 337.8 L1686.2 339.3 L1685.9 340.8 L1685.59 342.3 L1685.27 343.8 L1684.95 345.3 L1684.62 346.8 L1684.3 348.3 L1683.98 349.8 L1683.66 351.3 L1683.35 352.8 L1683.02 354.3 L1682.69 355.8 L1682.35 357.3 L1682 358.8 L1681.65 360.3 L1681.29 361.8 L1680.93 363.3 L1680.56 364.8 L1680.19 366.3 L1679.82 367.8 L1679.46 369.3 L1679.09 370.8 L1678.72 372.3 L1678.36 373.8 L1678 375.3 L1677.65 376.8 L1677.29 378.3 L1676.94 379.8 L1676.59 381.3 L1676.24 382.8 L1675.89 384.3 L1675.53 385.8 L1675.17 387.3 L1674.8 388.8 L1674.43 390.3 L1674.05 391.8 L1673.65 393.3 L1673.25 394.8 L1672.84 396.3 L1672.43 397.8 L1672.02 399.3 L1671.6 400.8 L1671.19 402.3 L1671 403 L1671 403 L1670.81 402.3 L1670.4 400.8 L1669.98 399.3 L1669.57 397.8 L1669.16 396.3 L1668.75 394.8 L1668.35 393.3 L1667.95 391.8 L1667.57 390.3 L1667.2 388.8 L1666.83 387.3 L1666.47 385.8 L1666.11 384.3 L1665.76 382.8 L1665.41 381.3 L1665.06 379.8 L1664.71 378.3 L1664.35 376.8 L1664 375.3 L1663.64 373.8 L1663.28 372.3 L1662.91 370.8 L1662.54 369.3 L1662.18 367.8 L1661.81 366.3 L1661.44 364.8 L1661.07 363.3 L1660.71 361.8 L1660.35 360.3 L1660 358.8 L1659.65 357.3 L1659.31 355.8 L1658.98 354.3 L1658.65 352.8 L1658.34 351.3 L1658.02 349.8 L1657.7 348.3 L1657.38 346.8 L1657.05 345.3 L1656.73 343.8 L1656.41 342.3 L1656.1 340.8 L1655.8 339.3 L1655.5 337.8 L1655.23 336.3 L1654.96 334.8 L1654.72 333.3 L1654.49 331.8 L1654.28 330.3 L1654.11 328.8 L1653.95 327.3 L1653.8 325.8 L1653.65 324.3 L1653.51 322.8 L1653.37 321.3 L1653.23 319.8 L1653.1 318.3 L1652.97 316.8 L1652.86 315.3 L1652.75 313.8 L1652.66 312.3 L1652.58 310.8 L1652.51 309.3 L1652.46 307.8 L1652.42 306.3 L1652.4 304.8 L1652.4 303.3 L1652.41 301.8 L1652.44 300.3 L1652.47 298.8 L1652.52 297.3 L1652.57 295.8 L1652.63 294.3 L1652.69 292.8 L1652.76 291.3 L1652.83 289.8 L1652.9 288.3 L1652.98 286.8 L1653.09 285.3 L1653.22 283.8 L1653.36 282.3 L1653.52 280.8 L1653.7 279.3 L1653.89 277.8 L1654.09 276.3 L1654.31 274.8 L1654.54 273.3 L1654.77 271.8 L1655.02 270.3 L1655.26 268.8 L1655.52 267.3 L1655.78 265.8 L1656.03 264.3 L1656.31 262.8 L1656.61 261.3 L1656.92 259.8 L1657.26 258.3 L1657.61 256.8 L1657.98 255.3 L1658.37 253.8 L1658.76 252.3 L1659.17 250.8 L1659.59 249.3 L1660.02 247.8 L1660.46 246.3 L1660.9 244.8 L1661.35 243.3 L1661.8 241.8 L1662.25 240.3 L1662.72 238.8 L1663.21 237.3 L1663.72 235.8 L1664.24 234.3 L1664.78 232.8 L1665.33 231.3 L1665.89 229.8 L1666.45 228.3 L1667.03 226.8 L1667.6 225.3 L1668.18 223.8 L1668.75 222.3 L1669.32 220.8 L1669.89 219.3 L1670.45 217.8 L1671 216.3 Z" fill="#35568C" stroke="#111" stroke-width="1.4" stroke-linejoin="round"/>
<path d="M1725.8 336.4 L1725.8 337.9 L1725.8 339.4 L1725.8 340.9 L1726.74 342.4 L1728.87 343.9 L1732.54 345.4 L1736.9 346.9 L1741.02 348.4 L1744.2 349.9 L1746.2 351.4 L1747.43 352.9 L1747.57 354.4 L1746.52 355.9 L1745.1 357.4 L1743.12 358.9 L1740.81 360.4 L1738.05 361.9 L1735.13 363.4 L1732.3 364.9 L1729.48 366.4 L1726.84 367.9 L1725.8 368.5 L1725.8 368.5 L1724.76 367.9 L1722.12 366.4 L1719.3 364.9 L1716.47 363.4 L1713.55 361.9 L1710.79 360.4 L1708.48 358.9 L1706.5 357.4 L1705.08 355.9 L1704.03 354.4 L1704.17 352.9 L1705.4 351.4 L1707.4 349.9 L1710.58 348.4 L1714.7 346.9 L1719.06 345.4 L1722.73 343.9 L1724.86 342.4 L1725.8 340.9 L1725.8 339.4 L1725.8 337.9 L1725.8 336.4 Z" fill="#F0957F" stroke="#111" stroke-width="1.4" stroke-linejoin="round"/>
<path d="M1780.7 215.6 L1781.24 217.1 L1781.77 218.6 L1782.3 220.1 L1782.84 221.6 L1783.37 223.1 L1783.9 224.6 L1784.44 226.1 L1784.98 227.6 L1785.52 229.1 L1786.07 230.6 L1786.62 232.1 L1787.19 233.6 L1787.76 235.1 L1788.33 236.6 L1788.9 238.1 L1789.46 239.6 L1790.01 241.1 L1790.55 242.6 L1791.07 244.1 L1791.56 245.6 L1792.05 247.1 L1792.53 248.6 L1793 250.1 L1793.46 251.6 L1793.92 253.1 L1794.36 254.6 L1794.78 256.1 L1795.19 257.6 L1795.58 259.1 L1795.96 260.6 L1796.31 262.1 L1796.66 263.6 L1796.99 265.1 L1797.28 266.6 L1797.51 268.1 L1797.72 269.6 L1797.92 271.1 L1798.06 272.6 L1798.1 274.1 L1798.01 275.6 L1797.83 277.1 L1797.59 278.6 L1797.17 280.1 L1796.59 281.6 L1795.77 283.1 L1794.63 284.6 L1793.28 286.1 L1791.62 287.6 L1789.63 289.1 L1787.21 290.6 L1784.27 292.1 L1780.92 293.6 L1780.7 293.7 L1780.7 293.7 L1780.48 293.6 L1777.13 292.1 L1774.19 290.6 L1771.77 289.1 L1769.78 287.6 L1768.12 286.1 L1766.77 284.6 L1765.63 283.1 L1764.81 281.6 L1764.23 280.1 L1763.81 278.6 L1763.57 277.1 L1763.39 275.6 L1763.3 274.1 L1763.34 272.6 L1763.48 271.1 L1763.68 269.6 L1763.89 268.1 L1764.12 266.6 L1764.41 265.1 L1764.74 263.6 L1765.09 262.1 L1765.44 260.6 L1765.82 259.1 L1766.21 257.6 L1766.62 256.1 L1767.04 254.6 L1767.48 253.1 L1767.94 251.6 L1768.4 250.1 L1768.87 248.6 L1769.35 247.1 L1769.84 245.6 L1770.33 244.1 L1770.85 242.6 L1771.39 241.1 L1771.94 239.6 L1772.5 238.1 L1773.07 236.6 L1773.64 235.1 L1774.21 233.6 L1774.78 232.1 L1775.33 230.6 L1775.88 229.1 L1776.42 227.6 L1776.96 226.1 L1777.5 224.6 L1778.03 223.1 L1778.56 221.6 L1779.1 220.1 L1779.63 218.6 L1780.16 217.1 L1780.7 215.6 Z" fill="#8497B8" stroke="#111" stroke-width="1.4" stroke-linejoin="round"/>
<path d="M1835.5 250.1 L1835.5 251.6 L1835.5 253.1 L1835.5 254.6 L1835.5 256.1 L1835.5 257.6 L1835.5 259.1 L1835.5 260.6 L1835.5 262.1 L1835.5 263.6 L1835.5 265.1 L1835.5 266.6 L1835.5 268.1 L1835.5 269.6 L1835.5 271.1 L1835.51 272.6 L1835.59 274.1 L1835.76 275.6 L1835.98 277.1 L1836.24 278.6 L1836.53 280.1 L1836.82 281.6 L1837.1 283.1 L1837.34 284.6 L1837.55 286.1 L1837.76 287.6 L1837.96 289.1 L1838.16 290.6 L1838.36 292.1 L1838.56 293.6 L1838.76 295.1 L1838.95 296.6 L1839.15 298.1 L1839.34 299.6 L1839.54 301.1 L1839.73 302.6 L1839.93 304.1 L1840.12 305.6 L1840.31 307.1 L1840.5 308.6 L1840.69 310.1 L1840.88 311.6 L1841.07 313.1 L1841.25 314.6 L1841.44 316.1 L1841.62 317.6 L1841.8 319.1 L1841.97 320.6 L1842.14 322.1 L1842.31 323.6 L1842.48 325.1 L1842.65 326.6 L1842.83 328.1 L1843.02 329.6 L1843.22 331.1 L1843.43 332.6 L1843.66 334.1 L1843.89 335.6 L1844.15 337.1 L1844.41 338.6 L1844.68 340.1 L1844.96 341.6 L1845.25 343.1 L1845.55 344.6 L1845.85 346.1 L1846.16 347.6 L1846.47 349.1 L1846.82 350.6 L1847.19 352.1 L1847.59 353.6 L1847.99 355.1 L1848.39 356.6 L1848.78 358.1 L1849.16 359.6 L1849.51 361.1 L1849.83 362.6 L1850.1 364.1 L1850.35 365.6 L1850.62 367.1 L1850.88 368.6 L1851.13 370.1 L1851.37 371.6 L1851.58 373.1 L1851.77 374.6 L1851.92 376.1 L1852.03 377.6 L1852.09 379.1 L1852.09 380.6 L1852 382.1 L1851.82 383.6 L1851.57 385.1 L1851.26 386.6 L1850.91 388.1 L1850.52 389.6 L1850.11 391.1 L1849.7 392.6 L1849.2 394.1 L1848.56 395.6 L1847.8 397.1 L1846.98 398.6 L1846.13 400.1 L1845.29 401.6 L1844.5 403.1 L1843.76 404.6 L1843.02 406.1 L1842.26 407.6 L1841.52 409.1 L1840.79 410.6 L1840.1 412.1 L1839.46 413.6 L1838.89 415.1 L1838.35 416.6 L1837.83 418.1 L1837.34 419.6 L1836.89 421.1 L1836.49 422.6 L1836.14 424.1 L1835.82 425.6 L1835.56 427.1 L1835.5 428.6 L1835.5 430.1 L1835.5 431.6 L1835.5 433.1 L1835.5 434.6 L1835.5 436.1 L1835.5 437.6 L1835.5 438.8 L1835.5 438.8 L1835.5 437.6 L1835.5 436.1 L1835.5 434.6 L1835.5 433.1 L1835.5 431.6 L1835.5 430.1 L1835.5 428.6 L1835.44 427.1 L1835.18 425.6 L1834.86 424.1 L1834.51 422.6 L1834.11 421.1 L1833.66 419.6 L1833.17 418.1 L1832.65 416.6 L1832.11 415.1 L1831.54 413.6 L1830.9 412.1 L1830.21 410.6 L1829.48 409.1 L1828.74 407.6 L1827.98 406.1 L1827.24 404.6 L1826.5 403.1 L1825.71 401.6 L1824.87 400.1 L1824.02 398.6 L1823.2 397.1 L1822.44 395.6 L1821.8 394.1 L1821.3 392.6 L1820.89 391.1 L1820.48 389.6 L1820.09 388.1 L1819.74 386.6 L1819.43 385.1 L1819.18 383.6 L1819 382.1 L1818.91 380.6 L1818.91 379.1 L1818.97 377.6 L1819.08 376.1 L1819.23 374.6 L1819.42 373.1 L1819.63 371.6 L1819.87 370.1 L1820.12 368.6 L1820.38 367.1 L1820.65 365.6 L1820.9 364.1 L1821.17 362.6 L1821.49 361.1 L1821.84 359.6 L1822.22 358.1 L1822.61 356.6 L1823.01 355.1 L1823.41 353.6 L1823.81 352.1 L1824.18 350.6 L1824.53 349.1 L1824.84 347.6 L1825.15 346.1 L1825.45 344.6 L1825.75 343.1 L1826.04 341.6 L1826.32 340.1 L1826.59 338.6 L1826.85 337.1 L1827.11 335.6 L1827.34 334.1 L1827.57 332.6 L1827.78 331.1 L1827.98 329.6 L1828.17 328.1 L1828.35 326.6 L1828.52 325.1 L1828.69 323.6 L1828.86 322.1 L1829.03 320.6 L1829.2 319.1 L1829.38 317.6 L1829.56 316.1 L1829.75 314.6 L1829.93 313.1 L1830.12 311.6 L1830.31 310.1 L1830.5 308.6 L1830.69 307.1 L1830.88 305.6 L1831.07 304.1 L1831.27 302.6 L1831.46 301.1 L1831.66 299.6 L1831.85 298.1 L1832.05 296.6 L1832.24 295.1 L1832.44 293.6 L1832.64 292.1 L1832.84 290.6 L1833.04 289.1 L1833.24 287.6 L1833.45 286.1 L1833.66 284.6 L1833.9 283.1 L1834.18 281.6 L1834.47 280.1 L1834.76 278.6 L1835.02 277.1 L1835.24 275.6 L1835.41 274.1 L1835.49 272.6 L1835.5 271.1 L1835.5 269.6 L1835.5 268.1 L1835.5 266.6 L1835.5 265.1 L1835.5 263.6 L1835.5 262.1 L1835.5 260.6 L1835.5 259.1 L1835.5 257.6 L1835.5 256.1 L1835.5 254.6 L1835.5 253.1 L1835.5 251.6 L1835.5 250.1 Z" fill="#88E5C9" stroke="#111" stroke-width="1.4" stroke-linejoin="round"/>
<path d="M1890.4 243.8 L1890.4 245.3 L1890.4 246.8 L1890.4 248.3 L1890.4 249.8 L1890.41 251.3 L1890.8 252.8 L1891.55 254.3 L1892.42 255.8 L1893.26 257.3 L1894.29 258.8 L1895.37 260.3 L1896.29 261.8 L1896.85 263.3 L1897.3 264.8 L1897.67 266.3 L1897.92 267.8 L1898 269.3 L1897.83 270.8 L1897.48 272.3 L1897.06 273.8 L1896.67 275.3 L1896.42 276.8 L1896.31 278.3 L1896.22 279.8 L1896.23 281.3 L1897.07 282.8 L1898.47 284.3 L1899.81 285.8 L1901.35 287.3 L1903.02 288.8 L1904.67 290.3 L1906.13 291.8 L1907.28 293.3 L1908.35 294.8 L1909.4 296.3 L1910.36 297.8 L1911.14 299.3 L1911.68 300.8 L1911.9 302.3 L1911.7 303.8 L1911.11 305.3 L1910.22 306.8 L1909.12 308.3 L1907.91 309.8 L1906.68 311.3 L1905.43 312.8 L1903.93 314.3 L1902.23 315.8 L1900.43 317.3 L1898.64 318.8 L1896.93 320.3 L1895.11 321.8 L1893.31 323.3 L1891.8 324.8 L1890.65 326.3 L1890.4 327.8 L1890.4 329.3 L1890.4 330.8 L1890.4 331.7 L1890.4 331.7 L1890.4 330.8 L1890.4 329.3 L1890.4 327.8 L1890.15 326.3 L1889 324.8 L1887.49 323.3 L1885.69 321.8 L1883.87 320.3 L1882.16 318.8 L1880.37 317.3 L1878.57 315.8 L1876.87 314.3 L1875.37 312.8 L1874.12 311.3 L1872.89 309.8 L1871.68 308.3 L1870.58 306.8 L1869.69 305.3 L1869.1 303.8 L1868.9 302.3 L1869.12 300.8 L1869.66 299.3 L1870.44 297.8 L1871.4 296.3 L1872.45 294.8 L1873.52 293.3 L1874.67 291.8 L1876.13 290.3 L1877.78 288.8 L1879.45 287.3 L1880.99 285.8 L1882.33 284.3 L1883.73 282.8 L1884.57 281.3 L1884.58 279.8 L1884.49 278.3 L1884.38 276.8 L1884.13 275.3 L1883.74 273.8 L1883.32 272.3 L1882.97 270.8 L1882.8 269.3 L1882.88 267.8 L1883.13 266.3 L1883.5 264.8 L1883.95 263.3 L1884.51 261.8 L1885.43 260.3 L1886.51 258.8 L1887.54 257.3 L1888.38 255.8 L1889.25 254.3 L1890 252.8 L1890.39 251.3 L1890.4 249.8 L1890.4 248.3 L1890.4 246.8 L1890.4 245.3 L1890.4 243.8 Z" fill="#FF1E0F" stroke="#111" stroke-width="1.4" stroke-linejoin="round"/>
<line x1="1506.5" y1="321.5" x2="1506.5" y2="331" stroke="#111" stroke-width="1.4"/>
<rect x="1502.2" y="325.5" width="8.6" height="5.2" fill="#333" stroke="#111" stroke-width="1.4"/>
<line x1="1503.1" y1="327.6" x2="1509.9" y2="327.6" stroke="#aaa" stroke-width="1.4"/>
<line x1="1561.3" y1="219" x2="1561.3" y2="312" stroke="#111" stroke-width="1.4"/>
<rect x="1557" y="246.3" width="8.6" height="54.6" fill="#fff" stroke="#111" stroke-width="1.4"/>
<line x1="1557" y1="283.1" x2="1565.6" y2="283.1" stroke="#111" stroke-width="1.6"/>
<line x1="1616" y1="230" x2="1616" y2="257" stroke="#111" stroke-width="1.4"/>
<rect x="1611.7" y="235.3" width="8.6" height="6.3" fill="#bbb" stroke="#111" stroke-width="1.4"/>
<line x1="1611.7" y1="238.4" x2="1620.3" y2="238.4" stroke="#111" stroke-width="1.5"/>
<line x1="1671" y1="262.2" x2="1671" y2="333.4" stroke="#111" stroke-width="1.4"/>
<rect x="1666.7" y="272.4" width="8.6" height="51.5" fill="#fff" stroke="#111" stroke-width="1.4"/>
<line x1="1666.7" y1="278" x2="1675.3" y2="278" stroke="#111" stroke-width="1.6"/>
<line x1="1725.8" y1="344" x2="1725.8" y2="357" stroke="#111" stroke-width="1.4"/>
<rect x="1721.5" y="347.5" width="8.6" height="9" fill="#fff" stroke="#111" stroke-width="1.4"/>
<line x1="1721.5" y1="353" x2="1730.1" y2="353" stroke="#111" stroke-width="1.6"/>
<line x1="1780.7" y1="226.4" x2="1780.7" y2="262" stroke="#111" stroke-width="1.4"/>
<rect x="1776.4" y="235.4" width="8.6" height="22.3" fill="#fff" stroke="#111" stroke-width="1.4"/>
<line x1="1776.4" y1="254.9" x2="1785" y2="254.9" stroke="#111" stroke-width="1.6"/>
<line x1="1835.5" y1="297.6" x2="1835.5" y2="378.4" stroke="#111" stroke-width="1.4"/>
<rect x="1831.2" y="328" width="8.6" height="40.5" fill="#fff" stroke="#111" stroke-width="1.4"/>
<line x1="1831.2" y1="360.1" x2="1839.8" y2="360.1" stroke="#111" stroke-width="1.6"/>
<line x1="1890.4" y1="262.8" x2="1890.4" y2="304.7" stroke="#111" stroke-width="1.4"/>
<rect x="1886.1" y="284.2" width="8.6" height="17.4" fill="#fff" stroke="#111" stroke-width="1.4"/>
<line x1="1886.1" y1="294.1" x2="1894.7" y2="294.1" stroke="#111" stroke-width="1.6"/>
<text x="1504" y="303.6" font-size="35" text-anchor="middle">a</text>
<text x="1560.4" y="142.4" font-size="35" text-anchor="middle">bc</text>
<text x="1614.4" y="214.6" font-size="35" text-anchor="middle">c</text>
<text x="1672.9" y="206.6" font-size="35" text-anchor="middle">b</text>
<text x="1725.1" y="327.3" font-size="35" text-anchor="middle">a</text>
<text x="1780.1" y="206.6" font-size="35" text-anchor="middle">c</text>
<text x="1834.6" y="240.9" font-size="35" text-anchor="middle">a</text>
<text x="1889.3" y="236.5" font-size="35" text-anchor="middle">b</text>
<text transform="translate(1508 463.5) rotate(-45)" font-size="13.5" text-anchor="end">WD</text>
<text transform="translate(1562.83 463.5) rotate(-45)" font-size="13.5" text-anchor="end">WD-DSS</text>
<text transform="translate(1617.66 463.5) rotate(-45)" font-size="13.5" text-anchor="end">WD-AR113</text>
<text transform="translate(1672.49 463.5) rotate(-45)" font-size="13.5" text-anchor="end">WDΔbsh1</text>
<text transform="translate(1727.32 463.5) rotate(-45)" font-size="13.5" text-anchor="end">LD</text>
<text transform="translate(1782.15 463.5) rotate(-45)" font-size="13.5" text-anchor="end">LD-DSS</text>
<text transform="translate(1836.98 463.5) rotate(-45)" font-size="13.5" text-anchor="end">LD-AR113</text>
<text transform="translate(1891.81 463.5) rotate(-45)" font-size="13.5" text-anchor="end">LDΔbsh1</text>
<circle cx="1957.5" cy="58" r="8.4" fill="#F9462C" stroke="#222" stroke-width="1.2"/>
<text x="1971" y="63.2" font-size="15.7">WD</text>
<circle cx="1957.5" cy="82.68" r="8.4" fill="#5DCFD9" stroke="#222" stroke-width="1.2"/>
<text x="1971" y="87.88" font-size="15.7">WD-DSS</text>
<circle cx="1957.5" cy="107.36" r="8.4" fill="#4BAE8D" stroke="#222" stroke-width="1.2"/>
<text x="1971" y="112.56" font-size="15.7">WD-AR113</text>
<circle cx="1957.5" cy="132.04" r="8.4" fill="#35568C" stroke="#222" stroke-width="1.2"/>
<text x="1971" y="137.24" font-size="15.7">WDΔbsh1</text>
<circle cx="1957.5" cy="156.72" r="8.4" fill="#F0957F" stroke="#222" stroke-width="1.2"/>
<text x="1971" y="161.92" font-size="15.7">LD</text>
<circle cx="1957.5" cy="181.4" r="8.4" fill="#8497B8" stroke="#222" stroke-width="1.2"/>
<text x="1971" y="186.6" font-size="15.7">LD-DSS</text>
<circle cx="1957.5" cy="206.08" r="8.4" fill="#88E5C9" stroke="#222" stroke-width="1.2"/>
<text x="1971" y="211.28" font-size="15.7">LD-AR113</text>
<circle cx="1957.5" cy="230.76" r="8.4" fill="#FF1E0F" stroke="#222" stroke-width="1.2"/>
<text x="1971" y="235.96" font-size="15.7">LDΔbsh1</text>
</g>
<g id="pD">
<text x="2" y="613.5" font-size="38">(D)</text>
<text x="343.5" y="621.6" font-size="16.5" text-anchor="middle" textLength="144.5" lengthAdjust="spacingAndGlyphs">PCoA on Phylum level</text>
<line x1="112.3" y1="861.3" x2="538.2" y2="861.3" stroke="#555" stroke-width="1.8" stroke-dasharray="3.2 3.2"/>
<line x1="396.1" y1="650.9" x2="396.1" y2="1072.1" stroke="#555" stroke-width="1.8" stroke-dasharray="3.2 3.2"/>
<ellipse cx="343.3" cy="953.2" rx="16.6" ry="52.2" fill="none" stroke="#F9462C" stroke-width="1.3" transform="rotate(-3.5 343.3 953.2)"/>
<ellipse cx="439" cy="793.2" rx="81.8" ry="30.6" fill="none" stroke="#5DCFD9" stroke-width="1.3" transform="rotate(46.7 439 793.2)"/>
<ellipse cx="493.7" cy="829.1" rx="98.4" ry="24" fill="none" stroke="#4BAE8D" stroke-width="1.3" transform="rotate(81.8 493.7 829.1)"/>
<ellipse cx="410.8" cy="841.6" rx="101" ry="27.8" fill="none" stroke="#35568C" stroke-width="1.3" transform="rotate(51.2 410.8 841.6)"/>
<ellipse cx="248.8" cy="866" rx="52.5" ry="5.5" fill="none" stroke="#F0957F" stroke-width="1.3" transform="rotate(14 248.8 866)"/>
<ellipse cx="486.6" cy="870.8" rx="35.3" ry="5" fill="none" stroke="#8497B8" stroke-width="1.3" transform="rotate(-51.3 486.6 870.8)"/>
<ellipse cx="290.3" cy="848.7" rx="158.5" ry="26.2" fill="none" stroke="#88E5C9" stroke-width="1.3" transform="rotate(24.2 290.3 848.7)"/>
<ellipse cx="455.2" cy="890.8" rx="36.5" ry="24" fill="none" stroke="#FF1E0F" stroke-width="1.3" transform="rotate(-15 455.2 890.8)"/>
<circle cx="378.5" cy="756" r="5.1" fill="#5DCFD9"/>
<circle cx="439.6" cy="761.4" r="5.1" fill="#5DCFD9"/>
<circle cx="413.1" cy="772.4" r="5.1" fill="#5DCFD9"/>
<circle cx="481.5" cy="797.9" r="5.1" fill="#5DCFD9"/>
<circle cx="481.8" cy="872.2" r="5.1" fill="#5DCFD9"/>
<circle cx="202.9" cy="780" r="5.1" fill="#88E5C9"/>
<circle cx="200.5" cy="813.9" r="5.1" fill="#88E5C9"/>
<circle cx="242" cy="857.3" r="5.1" fill="#88E5C9"/>
<circle cx="363.1" cy="877.6" r="5.1" fill="#88E5C9"/>
<circle cx="445.5" cy="910.3" r="5.1" fill="#88E5C9"/>
<circle cx="216" cy="850.2" r="5.1" fill="#F0957F"/>
<circle cx="200.5" cy="861.4" r="5.1" fill="#F0957F"/>
<circle cx="269.7" cy="869.2" r="5.1" fill="#F0957F"/>
<circle cx="274.3" cy="872.7" r="5.1" fill="#F0957F"/>
<circle cx="283.5" cy="877.4" r="5.1" fill="#F0957F"/>
<circle cx="344.1" cy="908.4" r="5.1" fill="#F9462C"/>
<circle cx="329.2" cy="925.8" r="5.1" fill="#F9462C"/>
<circle cx="355.1" cy="945.1" r="5.1" fill="#F9462C"/>
<circle cx="331.9" cy="988.3" r="5.1" fill="#F9462C"/>
<circle cx="355.5" cy="996.6" r="5.1" fill="#F9462C"/>
<circle cx="487.1" cy="711.9" r="5.1" fill="#4BAE8D"/>
<circle cx="463.3" cy="815.7" r="5.1" fill="#4BAE8D"/>
<circle cx="495.9" cy="845.9" r="5.1" fill="#4BAE8D"/>
<circle cx="519.8" cy="875" r="5.1" fill="#4BAE8D"/>
<circle cx="502.8" cy="897.6" r="5.1" fill="#4BAE8D"/>
<circle cx="348.2" cy="778" r="5.1" fill="#35568C"/>
<circle cx="366.1" cy="799.6" r="5.1" fill="#35568C"/>
<circle cx="445.4" cy="827.5" r="5.1" fill="#35568C"/>
<circle cx="436.2" cy="869.8" r="5.1" fill="#35568C"/>
<circle cx="456" cy="931.5" r="5.1" fill="#35568C"/>
<circle cx="495.5" cy="854.8" r="5.1" fill="#8497B8"/>
<circle cx="497.5" cy="857.5" r="5.1" fill="#8497B8"/>
<circle cx="501.5" cy="861.6" r="5.1" fill="#8497B8"/>
<circle cx="463.7" cy="906.9" r="5.1" fill="#8497B8"/>
<circle cx="474.7" cy="870.8" r="5.1" fill="#FF1E0F"/>
<circle cx="474.7" cy="875.9" r="5.1" fill="#FF1E0F"/>
<circle cx="436.5" cy="891.1" r="5.1" fill="#FF1E0F"/>
<circle cx="417.9" cy="897.6" r="5.1" fill="#FF1E0F"/>
<circle cx="471.3" cy="917.6" r="5.1" fill="#FF1E0F"/>
<rect x="112.3" y="650.9" width="425.9" height="421.2" fill="none" stroke="#222" stroke-width="1.3"/>
<line x1="106.3" y1="650.9" x2="112.3" y2="650.9" stroke="#222" stroke-width="1.2"/>
<text x="103.6" y="654.9" font-size="12" text-anchor="end">0.4</text>
<line x1="106.3" y1="756.2" x2="112.3" y2="756.2" stroke="#222" stroke-width="1.2"/>
<text x="103.6" y="760.2" font-size="12" text-anchor="end">0.2</text>
<line x1="106.3" y1="861.5" x2="112.3" y2="861.5" stroke="#222" stroke-width="1.2"/>
<text x="103.6" y="865.5" font-size="12" text-anchor="end">0</text>
<line x1="106.3" y1="966.8" x2="112.3" y2="966.8" stroke="#222" stroke-width="1.2"/>
<text x="103.6" y="970.8" font-size="12" text-anchor="end">-0.2</text>
<line x1="106.3" y1="1072.1" x2="112.3" y2="1072.1" stroke="#222" stroke-width="1.2"/>
<text x="103.6" y="1076.1" font-size="12" text-anchor="end">-0.4</text>
<line x1="112.3" y1="1072.1" x2="112.3" y2="1078.1" stroke="#222" stroke-width="1.2"/>
<text x="112.3" y="1088.6" font-size="12" text-anchor="middle">-0.6</text>
<line x1="159.62" y1="1072.1" x2="159.62" y2="1078.1" stroke="#222" stroke-width="1.2"/>
<text x="159.62" y="1088.6" font-size="12" text-anchor="middle">-0.5</text>
<line x1="206.94" y1="1072.1" x2="206.94" y2="1078.1" stroke="#222" stroke-width="1.2"/>
<text x="206.94" y="1088.6" font-size="12" text-anchor="middle">-0.4</text>
<line x1="254.27" y1="1072.1" x2="254.27" y2="1078.1" stroke="#222" stroke-width="1.2"/>
<text x="254.27" y="1088.6" font-size="12" text-anchor="middle">-0.3</text>
<line x1="301.59" y1="1072.1" x2="301.59" y2="1078.1" stroke="#222" stroke-width="1.2"/>
<text x="301.59" y="1088.6" font-size="12" text-anchor="middle">-0.2</text>
<line x1="348.91" y1="1072.1" x2="348.91" y2="1078.1" stroke="#222" stroke-width="1.2"/>
<text x="348.91" y="1088.6" font-size="12" text-anchor="middle">-0.1</text>
<line x1="396.23" y1="1072.1" x2="396.23" y2="1078.1" stroke="#222" stroke-width="1.2"/>
<text x="396.23" y="1088.6" font-size="12" text-anchor="middle">0</text>
<line x1="443.56" y1="1072.1" x2="443.56" y2="1078.1" stroke="#222" stroke-width="1.2"/>
<text x="443.56" y="1088.6" font-size="12" text-anchor="middle">0.1</text>
<line x1="490.88" y1="1072.1" x2="490.88" y2="1078.1" stroke="#222" stroke-width="1.2"/>
<text x="490.88" y="1088.6" font-size="12" text-anchor="middle">0.2</text>
<line x1="538.2" y1="1072.1" x2="538.2" y2="1078.1" stroke="#222" stroke-width="1.2"/>
<text x="538.2" y="1088.6" font-size="12" text-anchor="middle">0.3</text>
<text x="324.5" y="1103.3" font-size="13" font-weight="bold" text-anchor="middle" textLength="68.6" lengthAdjust="spacingAndGlyphs">PC1(40.9%)</text>
<text transform="translate(74.6 862) rotate(-90)" font-size="13" font-weight="bold" text-anchor="middle" textLength="74.8" lengthAdjust="spacingAndGlyphs">PC2(12.81%)</text>
<circle cx="557.6" cy="654.8" r="6.1" fill="#F9462C"/>
<text x="566.5" y="658.4" font-size="10.5">WD</text>
<circle cx="557.6" cy="671.42" r="6.1" fill="#5DCFD9"/>
<text x="566.5" y="675.02" font-size="10.5">WD-DSS</text>
<circle cx="557.6" cy="688.04" r="6.1" fill="#4BAE8D"/>
<text x="566.5" y="691.64" font-size="10.5">WDAR113</text>
<circle cx="557.6" cy="704.66" r="6.1" fill="#35568C"/>
<text x="566.5" y="708.26" font-size="10.5">WDΔbsh1</text>
<circle cx="557.6" cy="721.28" r="6.1" fill="#F0957F"/>
<text x="566.5" y="724.88" font-size="10.5">LD</text>
<circle cx="557.6" cy="737.9" r="6.1" fill="#8497B8"/>
<text x="566.5" y="741.5" font-size="10.5">LD-DSS</text>
<circle cx="557.6" cy="754.52" r="6.1" fill="#88E5C9"/>
<text x="566.5" y="758.12" font-size="10.5">LDAR113</text>
<circle cx="557.6" cy="771.14" r="6.1" fill="#FF1E0F"/>
<text x="566.5" y="774.74" font-size="10.5">LDΔbsh1</text>
</g>
<g id="pE">
<text x="663" y="608.5" font-size="38">(E)</text>
<text x="1022.4" y="627" font-size="19.5" text-anchor="middle" textLength="129.5" lengthAdjust="spacingAndGlyphs">Community barplot analysis</text>
<rect x="730.75" y="796.06" width="34.7" height="264.34" fill="#F9462C"/>
<rect x="730.75" y="787.9" width="34.7" height="8.45" fill="#5DCFD9"/>
<rect x="730.75" y="710.36" width="34.7" height="77.84" fill="#4BAE8D"/>
<rect x="730.75" y="669.35" width="34.7" height="41.31" fill="#F0957F"/>
<rect x="730.75" y="661.76" width="34.7" height="7.89" fill="#8497B8"/>
<rect x="730.75" y="660.4" width="34.7" height="1.66" fill="#FF1E0F"/>
<rect x="799.77" y="845.46" width="34.7" height="214.94" fill="#F9462C"/>
<rect x="799.77" y="718.2" width="34.7" height="127.56" fill="#5DCFD9"/>
<rect x="799.77" y="683.98" width="34.7" height="34.51" fill="#4BAE8D"/>
<rect x="799.77" y="671.79" width="34.7" height="12.49" fill="#35568C"/>
<rect x="799.77" y="664.48" width="34.7" height="7.61" fill="#F0957F"/>
<rect x="799.77" y="664.2" width="34.7" height="0.58" fill="#8497B8"/>
<rect x="799.77" y="661.4" width="34.7" height="3.1" fill="#88E5C9"/>
<rect x="799.77" y="660.4" width="34.7" height="1.3" fill="#FF1E0F"/>
<rect x="868.79" y="820.28" width="34.7" height="240.12" fill="#F9462C"/>
<rect x="868.79" y="690.26" width="34.7" height="130.32" fill="#5DCFD9"/>
<rect x="868.79" y="683.46" width="34.7" height="7.09" fill="#4BAE8D"/>
<rect x="868.79" y="673.19" width="34.7" height="10.57" fill="#35568C"/>
<rect x="868.79" y="669.99" width="34.7" height="3.5" fill="#F0957F"/>
<rect x="868.79" y="669.59" width="34.7" height="0.7" fill="#8497B8"/>
<rect x="868.79" y="661.2" width="34.7" height="8.69" fill="#88E5C9"/>
<rect x="868.79" y="660.4" width="34.7" height="1.1" fill="#FF1E0F"/>
<rect x="937.81" y="844.1" width="34.7" height="216.3" fill="#F9462C"/>
<rect x="937.81" y="782.51" width="34.7" height="61.89" fill="#5DCFD9"/>
<rect x="937.81" y="708.16" width="34.7" height="74.64" fill="#4BAE8D"/>
<rect x="937.81" y="676.15" width="34.7" height="32.32" fill="#35568C"/>
<rect x="937.81" y="670.99" width="34.7" height="5.46" fill="#F0957F"/>
<rect x="937.81" y="669.35" width="34.7" height="1.94" fill="#8497B8"/>
<rect x="937.81" y="661.2" width="34.7" height="8.45" fill="#88E5C9"/>
<rect x="937.81" y="660.4" width="34.7" height="1.1" fill="#FF1E0F"/>
<rect x="1006.83" y="869.6" width="34.7" height="190.8" fill="#F9462C"/>
<rect x="1006.83" y="866.85" width="34.7" height="3.06" fill="#5DCFD9"/>
<rect x="1006.83" y="731.55" width="34.7" height="135.6" fill="#4BAE8D"/>
<rect x="1006.83" y="681.18" width="34.7" height="50.66" fill="#F0957F"/>
<rect x="1006.83" y="662.8" width="34.7" height="18.69" fill="#8497B8"/>
<rect x="1006.83" y="662" width="34.7" height="1.1" fill="#88E5C9"/>
<rect x="1006.83" y="660.4" width="34.7" height="1.9" fill="#FF1E0F"/>
<rect x="1075.85" y="798.14" width="34.7" height="262.26" fill="#F9462C"/>
<rect x="1075.85" y="706.21" width="34.7" height="92.23" fill="#5DCFD9"/>
<rect x="1075.85" y="696.49" width="34.7" height="10.01" fill="#4BAE8D"/>
<rect x="1075.85" y="663.88" width="34.7" height="32.92" fill="#35568C"/>
<rect x="1075.85" y="662.12" width="34.7" height="2.06" fill="#F0957F"/>
<rect x="1075.85" y="661.8" width="34.7" height="0.62" fill="#8497B8"/>
<rect x="1075.85" y="660.8" width="34.7" height="1.3" fill="#88E5C9"/>
<rect x="1075.85" y="660.4" width="34.7" height="0.7" fill="#FF1E0F"/>
<rect x="1144.87" y="894.26" width="34.7" height="166.14" fill="#F9462C"/>
<rect x="1144.87" y="870.32" width="34.7" height="24.24" fill="#5DCFD9"/>
<rect x="1144.87" y="713.16" width="34.7" height="157.46" fill="#4BAE8D"/>
<rect x="1144.87" y="705.17" width="34.7" height="8.29" fill="#35568C"/>
<rect x="1144.87" y="677.39" width="34.7" height="28.08" fill="#F0957F"/>
<rect x="1144.87" y="666.64" width="34.7" height="11.05" fill="#8497B8"/>
<rect x="1144.87" y="661.2" width="34.7" height="5.74" fill="#88E5C9"/>
<rect x="1144.87" y="660.4" width="34.7" height="1.1" fill="#FF1E0F"/>
<rect x="1213.89" y="849.5" width="34.7" height="210.9" fill="#F9462C"/>
<rect x="1213.89" y="784.27" width="34.7" height="65.53" fill="#5DCFD9"/>
<rect x="1213.89" y="755.13" width="34.7" height="29.44" fill="#4BAE8D"/>
<rect x="1213.89" y="684.7" width="34.7" height="70.73" fill="#35568C"/>
<rect x="1213.89" y="664.2" width="34.7" height="20.8" fill="#F0957F"/>
<rect x="1213.89" y="662.12" width="34.7" height="2.38" fill="#8497B8"/>
<rect x="1213.89" y="660.8" width="34.7" height="1.62" fill="#88E5C9"/>
<rect x="1213.89" y="660.4" width="34.7" height="0.7" fill="#FF1E0F"/>
<line x1="714" y1="659.9" x2="714" y2="1060.7" stroke="#222" stroke-width="1.2"/>
<line x1="710.5" y1="1060.1" x2="1266" y2="1060.1" stroke="#222" stroke-width="1.2"/>
<line x1="710.5" y1="1060.1" x2="714" y2="1060.1" stroke="#222" stroke-width="1.1"/>
<text transform="translate(709.3 1064.4) scale(0.6 1)" font-size="13" text-anchor="end">0</text>
<line x1="710.5" y1="980.16" x2="714" y2="980.16" stroke="#222" stroke-width="1.1"/>
<text transform="translate(709.3 984.46) scale(0.6 1)" font-size="13" text-anchor="end">0.2</text>
<line x1="710.5" y1="900.22" x2="714" y2="900.22" stroke="#222" stroke-width="1.1"/>
<text transform="translate(709.3 904.52) scale(0.6 1)" font-size="13" text-anchor="end">0.4</text>
<line x1="710.5" y1="820.28" x2="714" y2="820.28" stroke="#222" stroke-width="1.1"/>
<text transform="translate(709.3 824.58) scale(0.6 1)" font-size="13" text-anchor="end">0.6</text>
<line x1="710.5" y1="740.34" x2="714" y2="740.34" stroke="#222" stroke-width="1.1"/>
<text transform="translate(709.3 744.64) scale(0.6 1)" font-size="13" text-anchor="end">0.8</text>
<line x1="710.5" y1="660.4" x2="714" y2="660.4" stroke="#222" stroke-width="1.1"/>
<text transform="translate(709.3 664.7) scale(0.6 1)" font-size="13" text-anchor="end">1</text>
<line x1="748.1" y1="1060.1" x2="748.1" y2="1065.4" stroke="#222" stroke-width="1.1"/>
<text transform="translate(749.6 1071.6) scale(0.68 1) rotate(-45)" font-size="12.5" font-style="italic" text-anchor="end">WD</text>
<line x1="817.12" y1="1060.1" x2="817.12" y2="1065.4" stroke="#222" stroke-width="1.1"/>
<text transform="translate(818.62 1071.6) scale(0.68 1) rotate(-45)" font-size="12.5" font-style="italic" text-anchor="end">WD-DSS</text>
<line x1="886.14" y1="1060.1" x2="886.14" y2="1065.4" stroke="#222" stroke-width="1.1"/>
<text transform="translate(887.64 1071.6) scale(0.68 1) rotate(-45)" font-size="12.5" font-style="italic" text-anchor="end">WD-AR113</text>
<line x1="955.16" y1="1060.1" x2="955.16" y2="1065.4" stroke="#222" stroke-width="1.1"/>
<text transform="translate(956.66 1071.6) scale(0.68 1) rotate(-45)" font-size="12.5" font-style="italic" text-anchor="end">WDΔbsh1</text>
<line x1="1024.18" y1="1060.1" x2="1024.18" y2="1065.4" stroke="#222" stroke-width="1.1"/>
<text transform="translate(1025.68 1071.6) scale(0.68 1) rotate(-45)" font-size="12.5" font-style="italic" text-anchor="end">LD</text>
<line x1="1093.2" y1="1060.1" x2="1093.2" y2="1065.4" stroke="#222" stroke-width="1.1"/>
<text transform="translate(1094.7 1071.6) scale(0.68 1) rotate(-45)" font-size="12.5" font-style="italic" text-anchor="end">LD-DSS</text>
<line x1="1162.22" y1="1060.1" x2="1162.22" y2="1065.4" stroke="#222" stroke-width="1.1"/>
<text transform="translate(1163.72 1071.6) scale(0.68 1) rotate(-45)" font-size="12.5" font-style="italic" text-anchor="end">LD-AR113</text>
<line x1="1231.24" y1="1060.1" x2="1231.24" y2="1065.4" stroke="#222" stroke-width="1.1"/>
<text transform="translate(1232.74 1071.6) scale(0.68 1) rotate(-45)" font-size="12.5" font-style="italic" text-anchor="end">LDΔbsh1</text>
<text transform="translate(691.3 860.3) scale(0.66 1) rotate(-90)" font-size="13" font-weight="bold" text-anchor="middle" textLength="279" lengthAdjust="spacingAndGlyphs">Percent of community abundance on Phylum level</text>
<rect x="1276.3" y="659.4" width="7.6" height="11.8" fill="#F9462C"/>
<text transform="translate(1286 669.3) scale(0.615 1)" font-size="12.5">Firmicutes</text>
<rect x="1276.3" y="678.45" width="7.6" height="11.8" fill="#5DCFD9"/>
<text transform="translate(1286 688.35) scale(0.615 1)" font-size="12.5">Actinobacteriota</text>
<rect x="1276.3" y="697.5" width="7.6" height="11.8" fill="#4BAE8D"/>
<text transform="translate(1286 707.4) scale(0.615 1)" font-size="12.5">Bacteroidota</text>
<rect x="1276.3" y="716.55" width="7.6" height="11.8" fill="#35568C"/>
<text transform="translate(1286 726.45) scale(0.615 1)" font-size="12.5">Proteobacteria</text>
<rect x="1276.3" y="735.6" width="7.6" height="11.8" fill="#F0957F"/>
<text transform="translate(1286 745.5) scale(0.615 1)" font-size="12.5">Desulfobacterota</text>
<rect x="1276.3" y="754.65" width="7.6" height="11.8" fill="#8497B8"/>
<text transform="translate(1286 764.55) scale(0.615 1)" font-size="12.5">Campilobacterota</text>
<rect x="1276.3" y="773.7" width="7.6" height="11.8" fill="#88E5C9"/>
<text transform="translate(1286 783.6) scale(0.615 1)" font-size="12.5">Verrucomicrobiota</text>
<rect x="1276.3" y="792.75" width="7.6" height="11.8" fill="#FF1E0F"/>
<text transform="translate(1286 802.65) scale(0.615 1)" font-size="12.5">others</text>
</g>
<g id="pF">
<text x="1353" y="608.8" font-size="38">(F)</text>
<text x="1719" y="604" font-size="16.5" text-anchor="middle" textLength="269.5" lengthAdjust="spacingAndGlyphs">Wilcoxon rank-sum test bar plot on Genus level</text>
<text x="1788.6" y="640.2" font-size="12.5" textLength="111.2" lengthAdjust="spacingAndGlyphs">95% confidence intervals</text>
<rect x="1943.6" y="615.2" width="9.4" height="10.8" fill="#F9462C" stroke="#444" stroke-width="0.8"/>
<rect x="1943.6" y="632.4" width="9.4" height="10.8" fill="#5DCFD9" stroke="#444" stroke-width="0.8"/>
<text x="1955.5" y="624.7" font-size="12" textLength="45.4" lengthAdjust="spacingAndGlyphs">WD-AR113</text>
<text x="1955.5" y="641.7" font-size="12" textLength="42.5" lengthAdjust="spacingAndGlyphs">LD-AR113</text>
<rect x="1515.9" y="668.7" width="268.4" height="22.4" fill="#EFF0F0"/>
<rect x="1798.3" y="668.7" width="134.2" height="22.4" fill="#EFF0F0"/>
<rect x="1515.9" y="695.07" width="268.4" height="22.4" fill="#EFF0F0"/>
<rect x="1798.3" y="695.07" width="134.2" height="22.4" fill="#EFF0F0"/>
<rect x="1515.9" y="721.44" width="268.4" height="22.4" fill="#EFF0F0"/>
<rect x="1798.3" y="721.44" width="134.2" height="22.4" fill="#EFF0F0"/>
<rect x="1515.9" y="747.81" width="268.4" height="22.4" fill="#EFF0F0"/>
<rect x="1798.3" y="747.81" width="134.2" height="22.4" fill="#EFF0F0"/>
<rect x="1515.9" y="774.18" width="268.4" height="22.4" fill="#EFF0F0"/>
<rect x="1798.3" y="774.18" width="134.2" height="22.4" fill="#EFF0F0"/>
<rect x="1515.9" y="800.55" width="268.4" height="22.4" fill="#EFF0F0"/>
<rect x="1798.3" y="800.55" width="134.2" height="22.4" fill="#EFF0F0"/>
<rect x="1515.9" y="826.92" width="268.4" height="22.4" fill="#EFF0F0"/>
<rect x="1798.3" y="826.92" width="134.2" height="22.4" fill="#EFF0F0"/>
<rect x="1515.9" y="853.29" width="268.4" height="22.4" fill="#EFF0F0"/>
<rect x="1798.3" y="853.29" width="134.2" height="22.4" fill="#EFF0F0"/>
<rect x="1515.9" y="879.66" width="268.4" height="22.4" fill="#EFF0F0"/>
<rect x="1798.3" y="879.66" width="134.2" height="22.4" fill="#EFF0F0"/>
<rect x="1515.9" y="906.03" width="268.4" height="22.4" fill="#EFF0F0"/>
<rect x="1798.3" y="906.03" width="134.2" height="22.4" fill="#EFF0F0"/>
<rect x="1515.9" y="932.4" width="268.4" height="22.4" fill="#EFF0F0"/>
<rect x="1798.3" y="932.4" width="134.2" height="22.4" fill="#EFF0F0"/>
<rect x="1515.9" y="958.77" width="268.4" height="22.4" fill="#EFF0F0"/>
<rect x="1798.3" y="958.77" width="134.2" height="22.4" fill="#EFF0F0"/>
<rect x="1515.9" y="985.14" width="268.4" height="22.4" fill="#EFF0F0"/>
<rect x="1798.3" y="985.14" width="134.2" height="22.4" fill="#EFF0F0"/>
<rect x="1515.9" y="1011.51" width="268.4" height="22.4" fill="#EFF0F0"/>
<rect x="1798.3" y="1011.51" width="134.2" height="22.4" fill="#EFF0F0"/>
<rect x="1515.9" y="1037.88" width="268.4" height="22.4" fill="#EFF0F0"/>
<rect x="1798.3" y="1037.88" width="134.2" height="22.4" fill="#EFF0F0"/>
<rect x="1515.9" y="669.2" width="249.17" height="10.5" fill="#F9462C" stroke="#444" stroke-width="0.8"/>
<rect x="1515.9" y="680.1" width="53.7" height="10.5" fill="#5DCFD9" stroke="#444" stroke-width="0.8"/>
<text transform="translate(1508.5 683.7) scale(0.787 1)" font-size="12" text-anchor="end">Faecalibaculum</text>
<rect x="1515.9" y="695.57" width="173.99" height="10.5" fill="#F9462C" stroke="#444" stroke-width="0.8"/>
<rect x="1515.9" y="706.47" width="27.66" height="10.5" fill="#5DCFD9" stroke="#444" stroke-width="0.8"/>
<text transform="translate(1508.5 710.07) scale(0.787 1)" font-size="12" text-anchor="end">Coriobacteriaceae_UCG-002</text>
<rect x="1515.9" y="721.94" width="2.42" height="10.5" fill="#F9462C" stroke="#444" stroke-width="0.8"/>
<rect x="1515.9" y="732.84" width="71.42" height="10.5" fill="#5DCFD9" stroke="#444" stroke-width="0.8"/>
<text transform="translate(1508.5 736.44) scale(0.787 1)" font-size="12" text-anchor="end">Bacteroides</text>
<rect x="1515.9" y="748.31" width="3.44" height="10.5" fill="#F9462C" stroke="#444" stroke-width="0.8"/>
<rect x="1515.9" y="759.21" width="50.8" height="10.5" fill="#5DCFD9" stroke="#444" stroke-width="0.8"/>
<text transform="translate(1508.5 762.81) scale(0.787 1)" font-size="12" text-anchor="end">norank_f__Muribaculaceae</text>
<rect x="1515.9" y="774.68" width="0.54" height="10.5" fill="#F9462C" stroke="#444" stroke-width="0.8"/>
<rect x="1515.9" y="785.58" width="44.41" height="10.5" fill="#5DCFD9" stroke="#444" stroke-width="0.8"/>
<text transform="translate(1508.5 789.18) scale(0.787 1)" font-size="12" text-anchor="end">Alloprevotella</text>
<rect x="1515.9" y="801.05" width="2.42" height="10.5" fill="#F9462C" stroke="#444" stroke-width="0.8"/>
<rect x="1515.9" y="811.95" width="36.95" height="10.5" fill="#5DCFD9" stroke="#444" stroke-width="0.8"/>
<text transform="translate(1508.5 815.55) scale(0.787 1)" font-size="12" text-anchor="end">norank_f__Desulfovibrionaceae</text>
<rect x="1515.9" y="827.42" width="5.85" height="10.5" fill="#F9462C" stroke="#444" stroke-width="0.8"/>
<rect x="1515.9" y="838.32" width="19.65" height="10.5" fill="#5DCFD9" stroke="#444" stroke-width="0.8"/>
<text transform="translate(1508.5 841.92) scale(0.787 1)" font-size="12" text-anchor="end">Ruminococcus_torques_group</text>
<rect x="1515.9" y="853.79" width="0.54" height="10.5" fill="#F9462C" stroke="#444" stroke-width="0.8"/>
<rect x="1515.9" y="864.69" width="22.55" height="10.5" fill="#5DCFD9" stroke="#444" stroke-width="0.8"/>
<text transform="translate(1508.5 868.29) scale(0.787 1)" font-size="12" text-anchor="end">Dubosiella</text>
<rect x="1515.9" y="880.16" width="0.43" height="10.5" fill="#F9462C" stroke="#444" stroke-width="0.8"/>
<rect x="1515.9" y="891.06" width="14.87" height="10.5" fill="#5DCFD9" stroke="#444" stroke-width="0.8"/>
<text transform="translate(1508.5 894.66) scale(0.787 1)" font-size="12" text-anchor="end">Alistipes</text>
<rect x="1515.9" y="906.53" width="0.43" height="10.5" fill="#F9462C" stroke="#444" stroke-width="0.8"/>
<rect x="1515.9" y="917.43" width="14.61" height="10.5" fill="#5DCFD9" stroke="#444" stroke-width="0.8"/>
<text transform="translate(1508.5 921.03) scale(0.787 1)" font-size="12" text-anchor="end">Helicobacter</text>
<rect x="1515.9" y="932.9" width="1.07" height="10.5" fill="#F9462C" stroke="#444" stroke-width="0.8"/>
<rect x="1515.9" y="943.8" width="11.71" height="10.5" fill="#5DCFD9" stroke="#444" stroke-width="0.8"/>
<text transform="translate(1508.5 947.4) scale(0.787 1)" font-size="12" text-anchor="end">Parabacteroides</text>
<rect x="1515.9" y="959.27" width="0.43" height="10.5" fill="#F9462C" stroke="#444" stroke-width="0.8"/>
<rect x="1515.9" y="970.17" width="10.63" height="10.5" fill="#5DCFD9" stroke="#444" stroke-width="0.8"/>
<text transform="translate(1508.5 973.77) scale(0.787 1)" font-size="12" text-anchor="end">Rikenellaceae_RC9_gut_group</text>
<rect x="1515.9" y="985.64" width="1.61" height="10.5" fill="#F9462C" stroke="#444" stroke-width="0.8"/>
<rect x="1515.9" y="996.54" width="6.66" height="10.5" fill="#5DCFD9" stroke="#444" stroke-width="0.8"/>
<text transform="translate(1508.5 1000.14) scale(0.787 1)" font-size="12" text-anchor="end">norank_f__Lachnospiraceae</text>
<rect x="1515.9" y="1012.01" width="0.43" height="10.5" fill="#F9462C" stroke="#444" stroke-width="0.8"/>
<rect x="1515.9" y="1022.91" width="7.2" height="10.5" fill="#5DCFD9" stroke="#444" stroke-width="0.8"/>
<text transform="translate(1508.5 1026.51) scale(0.787 1)" font-size="12" text-anchor="end">Colidextribacter</text>
<rect x="1515.9" y="1038.38" width="1.07" height="10.5" fill="#F9462C" stroke="#444" stroke-width="0.8"/>
<rect x="1515.9" y="1049.28" width="5.58" height="10.5" fill="#5DCFD9" stroke="#444" stroke-width="0.8"/>
<text transform="translate(1508.5 1052.88) scale(0.787 1)" font-size="12" text-anchor="end">unclassified_f__Lachnospiraceae</text>
<line x1="1882.4" y1="666.3" x2="1882.4" y2="1062.4" stroke="#555" stroke-width="1.8" stroke-dasharray="2.6 3"/>
<line x1="1798.3" y1="679.9" x2="1845" y2="679.9" stroke="#222" stroke-width="1"/>
<line x1="1798.3" y1="677.9" x2="1798.3" y2="681.9" stroke="#222" stroke-width="1"/>
<line x1="1845" y1="677.9" x2="1845" y2="681.9" stroke="#222" stroke-width="1"/>
<circle cx="1820.8" cy="679.9" r="3.9" fill="#F9462C"/>
<text transform="translate(1947.5 687.2) scale(0.8 1)" font-size="11" font-weight="bold" text-anchor="middle">*</text>
<text transform="translate(1960.7 686.5) scale(0.755 1)" font-size="12.5">0.02157</text>
<line x1="1817.3" y1="706.27" x2="1852.6" y2="706.27" stroke="#222" stroke-width="1"/>
<line x1="1817.3" y1="704.27" x2="1817.3" y2="708.27" stroke="#222" stroke-width="1"/>
<line x1="1852.6" y1="704.27" x2="1852.6" y2="708.27" stroke="#222" stroke-width="1"/>
<circle cx="1836" cy="706.27" r="3.9" fill="#F9462C"/>
<text transform="translate(1947.5 713.57) scale(0.8 1)" font-size="11" font-weight="bold" text-anchor="middle">*</text>
<text transform="translate(1960.7 712.87) scale(0.755 1)" font-size="12.5">0.01219</text>
<line x1="1891.8" y1="732.64" x2="1914.3" y2="732.64" stroke="#222" stroke-width="1"/>
<line x1="1891.8" y1="730.64" x2="1891.8" y2="734.64" stroke="#222" stroke-width="1"/>
<line x1="1914.3" y1="730.64" x2="1914.3" y2="734.64" stroke="#222" stroke-width="1"/>
<circle cx="1903.9" cy="732.64" r="3.9" fill="#5DCFD9"/>
<text transform="translate(1947.5 739.94) scale(0.8 1)" font-size="11" font-weight="bold" text-anchor="middle">*</text>
<text transform="translate(1960.7 739.24) scale(0.755 1)" font-size="12.5">0.01219</text>
<line x1="1889.4" y1="759.01" x2="1906.7" y2="759.01" stroke="#222" stroke-width="1"/>
<line x1="1889.4" y1="757.01" x2="1889.4" y2="761.01" stroke="#222" stroke-width="1"/>
<line x1="1906.7" y1="757.01" x2="1906.7" y2="761.01" stroke="#222" stroke-width="1"/>
<circle cx="1896.6" cy="759.01" r="3.9" fill="#5DCFD9"/>
<text transform="translate(1947.5 766.31) scale(0.8 1)" font-size="11" font-weight="bold" text-anchor="middle">*</text>
<text transform="translate(1960.7 765.61) scale(0.755 1)" font-size="12.5">0.01219</text>
<line x1="1882.8" y1="785.38" x2="1916.7" y2="785.38" stroke="#222" stroke-width="1"/>
<line x1="1882.8" y1="783.38" x2="1882.8" y2="787.38" stroke="#222" stroke-width="1"/>
<line x1="1916.7" y1="783.38" x2="1916.7" y2="787.38" stroke="#222" stroke-width="1"/>
<circle cx="1895.9" cy="785.38" r="3.9" fill="#5DCFD9"/>
<text transform="translate(1950.3 792.68) scale(0.8 1)" font-size="11" font-weight="bold" text-anchor="middle">**</text>
<text transform="translate(1960.7 791.98) scale(0.755 1)" font-size="12.5">0.009701</text>
<line x1="1882.8" y1="811.75" x2="1908" y2="811.75" stroke="#222" stroke-width="1"/>
<line x1="1882.8" y1="809.75" x2="1882.8" y2="813.75" stroke="#222" stroke-width="1"/>
<line x1="1908" y1="809.75" x2="1908" y2="813.75" stroke="#222" stroke-width="1"/>
<circle cx="1892.8" cy="811.75" r="3.9" fill="#5DCFD9"/>
<text transform="translate(1947.5 819.05) scale(0.8 1)" font-size="11" font-weight="bold" text-anchor="middle">*</text>
<text transform="translate(1960.7 818.35) scale(0.755 1)" font-size="12.5">0.01219</text>
<line x1="1882.8" y1="838.12" x2="1890.7" y2="838.12" stroke="#222" stroke-width="1"/>
<line x1="1882.8" y1="836.12" x2="1882.8" y2="840.12" stroke="#222" stroke-width="1"/>
<line x1="1890.7" y1="836.12" x2="1890.7" y2="840.12" stroke="#222" stroke-width="1"/>
<circle cx="1886.2" cy="838.12" r="3.9" fill="#5DCFD9"/>
<text transform="translate(1947.5 845.42) scale(0.8 1)" font-size="11" font-weight="bold" text-anchor="middle">*</text>
<text transform="translate(1960.7 844.72) scale(0.755 1)" font-size="12.5">0.03671</text>
<line x1="1882.8" y1="864.49" x2="1896" y2="864.49" stroke="#222" stroke-width="1"/>
<line x1="1882.8" y1="862.49" x2="1882.8" y2="866.49" stroke="#222" stroke-width="1"/>
<line x1="1896" y1="862.49" x2="1896" y2="866.49" stroke="#222" stroke-width="1"/>
<circle cx="1889" cy="864.49" r="3.9" fill="#5DCFD9"/>
<text transform="translate(1947.5 871.79) scale(0.8 1)" font-size="11" font-weight="bold" text-anchor="middle">*</text>
<text transform="translate(1960.7 871.09) scale(0.755 1)" font-size="12.5">0.01219</text>
<line x1="1882.8" y1="890.86" x2="1892.1" y2="890.86" stroke="#222" stroke-width="1"/>
<line x1="1882.8" y1="888.86" x2="1882.8" y2="892.86" stroke="#222" stroke-width="1"/>
<line x1="1892.1" y1="888.86" x2="1892.1" y2="892.86" stroke="#222" stroke-width="1"/>
<circle cx="1886.6" cy="890.86" r="3.9" fill="#5DCFD9"/>
<text transform="translate(1947.5 898.16) scale(0.8 1)" font-size="11" font-weight="bold" text-anchor="middle">*</text>
<text transform="translate(1960.7 897.46) scale(0.755 1)" font-size="12.5">0.01219</text>
<line x1="1882.8" y1="917.23" x2="1891.8" y2="917.23" stroke="#222" stroke-width="1"/>
<line x1="1882.8" y1="915.23" x2="1882.8" y2="919.23" stroke="#222" stroke-width="1"/>
<line x1="1891.8" y1="915.23" x2="1891.8" y2="919.23" stroke="#222" stroke-width="1"/>
<circle cx="1886.2" cy="917.23" r="3.9" fill="#5DCFD9"/>
<text transform="translate(1947.5 924.53) scale(0.8 1)" font-size="11" font-weight="bold" text-anchor="middle">*</text>
<text transform="translate(1960.7 923.83) scale(0.755 1)" font-size="12.5">0.02157</text>
<circle cx="1885.2" cy="943.6" r="3.9" fill="#5DCFD9"/>
<text transform="translate(1947.5 950.9) scale(0.8 1)" font-size="11" font-weight="bold" text-anchor="middle">*</text>
<text transform="translate(1960.7 950.2) scale(0.755 1)" font-size="12.5">0.02157</text>
<circle cx="1884.9" cy="969.97" r="3.9" fill="#5DCFD9"/>
<text transform="translate(1947.5 977.27) scale(0.8 1)" font-size="11" font-weight="bold" text-anchor="middle">*</text>
<text transform="translate(1960.7 976.57) scale(0.755 1)" font-size="12.5">0.01219</text>
<circle cx="1883.5" cy="996.34" r="3.9" fill="#5DCFD9"/>
<text transform="translate(1947.5 1003.64) scale(0.8 1)" font-size="11" font-weight="bold" text-anchor="middle">*</text>
<text transform="translate(1960.7 1002.94) scale(0.755 1)" font-size="12.5">0.03671</text>
<circle cx="1884.2" cy="1022.71" r="3.9" fill="#5DCFD9"/>
<text transform="translate(1947.5 1030.01) scale(0.8 1)" font-size="11" font-weight="bold" text-anchor="middle">*</text>
<text transform="translate(1960.7 1029.31) scale(0.755 1)" font-size="12.5">0.01219</text>
<circle cx="1883.1" cy="1049.08" r="3.9" fill="#5DCFD9"/>
<text transform="translate(1947.5 1056.38) scale(0.8 1)" font-size="11" font-weight="bold" text-anchor="middle">*</text>
<text transform="translate(1960.7 1055.68) scale(0.755 1)" font-size="12.5">0.01219</text>
<line x1="1515.9" y1="667.3" x2="1515.9" y2="1063" stroke="#222" stroke-width="1.3"/>
<line x1="1515.3" y1="1062.4" x2="1784.9" y2="1062.4" stroke="#222" stroke-width="1.2"/>
<line x1="1797.7" y1="1062.4" x2="1933.1" y2="1062.4" stroke="#222" stroke-width="1.2"/>
<line x1="1515.9" y1="1062.4" x2="1515.9" y2="1066.4" stroke="#222" stroke-width="1.1"/>
<text transform="translate(1515.9 1078) scale(0.755 1)" font-size="12.5" text-anchor="middle">0</text>
<line x1="1569.6" y1="1062.4" x2="1569.6" y2="1066.4" stroke="#222" stroke-width="1.1"/>
<text transform="translate(1569.6 1078) scale(0.755 1)" font-size="12.5" text-anchor="middle">10</text>
<line x1="1623.3" y1="1062.4" x2="1623.3" y2="1066.4" stroke="#222" stroke-width="1.1"/>
<text transform="translate(1623.3 1078) scale(0.755 1)" font-size="12.5" text-anchor="middle">20</text>
<line x1="1677" y1="1062.4" x2="1677" y2="1066.4" stroke="#222" stroke-width="1.1"/>
<text transform="translate(1677 1078) scale(0.755 1)" font-size="12.5" text-anchor="middle">30</text>
<line x1="1730.7" y1="1062.4" x2="1730.7" y2="1066.4" stroke="#222" stroke-width="1.1"/>
<text transform="translate(1730.7 1078) scale(0.755 1)" font-size="12.5" text-anchor="middle">40</text>
<line x1="1784.4" y1="1062.4" x2="1784.4" y2="1066.4" stroke="#222" stroke-width="1.1"/>
<text transform="translate(1784.4 1078) scale(0.755 1)" font-size="12.5" text-anchor="middle">50</text>
<line x1="1798.45" y1="1062.4" x2="1798.45" y2="1066.4" stroke="#222" stroke-width="1.1"/>
<text transform="translate(1798.45 1078) scale(0.755 1)" font-size="12.5" text-anchor="middle">-50</text>
<line x1="1815.24" y1="1062.4" x2="1815.24" y2="1066.4" stroke="#222" stroke-width="1.1"/>
<text transform="translate(1815.24 1078) scale(0.755 1)" font-size="12.5" text-anchor="middle">-40</text>
<line x1="1832.03" y1="1062.4" x2="1832.03" y2="1066.4" stroke="#222" stroke-width="1.1"/>
<text transform="translate(1832.03 1078) scale(0.755 1)" font-size="12.5" text-anchor="middle">-30</text>
<line x1="1848.82" y1="1062.4" x2="1848.82" y2="1066.4" stroke="#222" stroke-width="1.1"/>
<text transform="translate(1848.82 1078) scale(0.755 1)" font-size="12.5" text-anchor="middle">-20</text>
<line x1="1865.61" y1="1062.4" x2="1865.61" y2="1066.4" stroke="#222" stroke-width="1.1"/>
<text transform="translate(1865.61 1078) scale(0.755 1)" font-size="12.5" text-anchor="middle">-10</text>
<line x1="1882.4" y1="1062.4" x2="1882.4" y2="1066.4" stroke="#222" stroke-width="1.1"/>
<text transform="translate(1882.4 1078) scale(0.755 1)" font-size="12.5" text-anchor="middle">0</text>
<line x1="1899.19" y1="1062.4" x2="1899.19" y2="1066.4" stroke="#222" stroke-width="1.1"/>
<text transform="translate(1899.19 1078) scale(0.755 1)" font-size="12.5" text-anchor="middle">10</text>
<line x1="1915.98" y1="1062.4" x2="1915.98" y2="1066.4" stroke="#222" stroke-width="1.1"/>
<text transform="translate(1915.98 1078) scale(0.755 1)" font-size="12.5" text-anchor="middle">20</text>
<line x1="1932.77" y1="1062.4" x2="1932.77" y2="1066.4" stroke="#222" stroke-width="1.1"/>
<text transform="translate(1932.77 1078) scale(0.755 1)" font-size="12.5" text-anchor="middle">30</text>
<text x="1649.7" y="1094.3" font-size="13" font-weight="bold" text-anchor="middle" textLength="67.8" lengthAdjust="spacingAndGlyphs">Proportions(%)</text>
<text x="1865.1" y="1094.3" font-size="13" font-weight="bold" text-anchor="middle" textLength="155.2" lengthAdjust="spacingAndGlyphs">Difference between proportions(%)</text>
<text transform="translate(2017.5 864.4) rotate(90)" font-size="12.5" text-anchor="middle" textLength="33" lengthAdjust="spacingAndGlyphs">pvalue</text>
</g>
<g id="pG">
<text x="20" y="1190.3" font-size="38">(G)</text>
<text x="596.2" y="1204.3" font-size="25" font-weight="bold" text-anchor="middle" textLength="69" lengthAdjust="spacingAndGlyphs">Genus</text>
<line x1="168.4" y1="1556.24" x2="168.4" y2="1552.73" stroke="#F9462C" stroke-width="1.5"/>
<line x1="164.1" y1="1552.73" x2="172.7" y2="1552.73" stroke="#F9462C" stroke-width="1.5"/>
<line x1="164.1" y1="1556.24" x2="172.7" y2="1556.24" stroke="#F9462C" stroke-width="1.5"/>
<line x1="189.6" y1="1359.62" x2="189.6" y2="1344.6" stroke="#5DCFD9" stroke-width="1.5"/>
<line x1="189.6" y1="1319.5" x2="189.6" y2="1281.89" stroke="#5DCFD9" stroke-width="1.5"/>
<line x1="185.3" y1="1281.89" x2="193.9" y2="1281.89" stroke="#5DCFD9" stroke-width="1.5"/>
<line x1="185.3" y1="1359.62" x2="193.9" y2="1359.62" stroke="#5DCFD9" stroke-width="1.5"/>
<line x1="182.2" y1="1558" x2="182.2" y2="1463.9" stroke="#5DCFD9" stroke-width="3"/>
<line x1="197" y1="1558" x2="197" y2="1463.9" stroke="#5DCFD9" stroke-width="3"/>
<line x1="182.2" y1="1439" x2="182.2" y2="1344.6" stroke="#5DCFD9" stroke-width="3"/>
<line x1="197" y1="1439" x2="197" y2="1344.6" stroke="#5DCFD9" stroke-width="3"/>
<line x1="182.2" y1="1319.5" x2="182.2" y2="1306.31" stroke="#5DCFD9" stroke-width="3"/>
<line x1="197" y1="1319.5" x2="197" y2="1306.31" stroke="#5DCFD9" stroke-width="3"/>
<line x1="180.7" y1="1307.81" x2="198.5" y2="1307.81" stroke="#5DCFD9" stroke-width="3"/>
<line x1="210.8" y1="1487.72" x2="210.8" y2="1463.9" stroke="#4BAE8D" stroke-width="1.5"/>
<line x1="210.8" y1="1439" x2="210.8" y2="1388.22" stroke="#4BAE8D" stroke-width="1.5"/>
<line x1="206.5" y1="1388.22" x2="215.1" y2="1388.22" stroke="#4BAE8D" stroke-width="1.5"/>
<line x1="206.5" y1="1487.72" x2="215.1" y2="1487.72" stroke="#4BAE8D" stroke-width="1.5"/>
<line x1="203.4" y1="1558" x2="203.4" y2="1463.9" stroke="#4BAE8D" stroke-width="3"/>
<line x1="218.2" y1="1558" x2="218.2" y2="1463.9" stroke="#4BAE8D" stroke-width="3"/>
<line x1="203.4" y1="1439" x2="203.4" y2="1427.56" stroke="#4BAE8D" stroke-width="3"/>
<line x1="218.2" y1="1439" x2="218.2" y2="1427.56" stroke="#4BAE8D" stroke-width="3"/>
<line x1="201.9" y1="1429.06" x2="219.7" y2="1429.06" stroke="#4BAE8D" stroke-width="3"/>
<line x1="232" y1="1391.8" x2="232" y2="1344.6" stroke="#35568C" stroke-width="1.5"/>
<line x1="232" y1="1319.5" x2="232" y2="1245.25" stroke="#35568C" stroke-width="1.5"/>
<line x1="227.7" y1="1245.25" x2="236.3" y2="1245.25" stroke="#35568C" stroke-width="1.5"/>
<line x1="227.7" y1="1391.8" x2="236.3" y2="1391.8" stroke="#35568C" stroke-width="1.5"/>
<line x1="224.6" y1="1558" x2="224.6" y2="1463.9" stroke="#35568C" stroke-width="3"/>
<line x1="239.4" y1="1558" x2="239.4" y2="1463.9" stroke="#35568C" stroke-width="3"/>
<line x1="224.6" y1="1439" x2="224.6" y2="1344.6" stroke="#35568C" stroke-width="3"/>
<line x1="239.4" y1="1439" x2="239.4" y2="1344.6" stroke="#35568C" stroke-width="3"/>
<line x1="224.6" y1="1319.5" x2="224.6" y2="1296.95" stroke="#35568C" stroke-width="3"/>
<line x1="239.4" y1="1319.5" x2="239.4" y2="1296.95" stroke="#35568C" stroke-width="3"/>
<line x1="223.1" y1="1298.45" x2="240.9" y2="1298.45" stroke="#35568C" stroke-width="3"/>
<line x1="263.3" y1="1553.78" x2="263.3" y2="1538.25" stroke="#F9462C" stroke-width="1.5"/>
<line x1="259" y1="1538.25" x2="267.6" y2="1538.25" stroke="#F9462C" stroke-width="1.5"/>
<line x1="259" y1="1553.78" x2="267.6" y2="1553.78" stroke="#F9462C" stroke-width="1.5"/>
<line x1="255.9" y1="1558" x2="255.9" y2="1547.53" stroke="#F9462C" stroke-width="3"/>
<line x1="270.7" y1="1558" x2="270.7" y2="1547.53" stroke="#F9462C" stroke-width="3"/>
<line x1="254.4" y1="1549.03" x2="272.2" y2="1549.03" stroke="#F9462C" stroke-width="3"/>
<line x1="284.5" y1="1528.48" x2="284.5" y2="1486.04" stroke="#5DCFD9" stroke-width="1.5"/>
<line x1="280.2" y1="1486.04" x2="288.8" y2="1486.04" stroke="#5DCFD9" stroke-width="1.5"/>
<line x1="280.2" y1="1528.48" x2="288.8" y2="1528.48" stroke="#5DCFD9" stroke-width="1.5"/>
<line x1="277.1" y1="1558" x2="277.1" y2="1507.96" stroke="#5DCFD9" stroke-width="3"/>
<line x1="291.9" y1="1558" x2="291.9" y2="1507.96" stroke="#5DCFD9" stroke-width="3"/>
<line x1="275.6" y1="1509.46" x2="293.4" y2="1509.46" stroke="#5DCFD9" stroke-width="3"/>
<line x1="305.7" y1="1551.18" x2="305.7" y2="1480.91" stroke="#4BAE8D" stroke-width="1.5"/>
<line x1="301.4" y1="1480.91" x2="310" y2="1480.91" stroke="#4BAE8D" stroke-width="1.5"/>
<line x1="301.4" y1="1551.18" x2="310" y2="1551.18" stroke="#4BAE8D" stroke-width="1.5"/>
<line x1="298.3" y1="1558" x2="298.3" y2="1516.26" stroke="#4BAE8D" stroke-width="3"/>
<line x1="313.1" y1="1558" x2="313.1" y2="1516.26" stroke="#4BAE8D" stroke-width="3"/>
<line x1="296.8" y1="1517.76" x2="314.6" y2="1517.76" stroke="#4BAE8D" stroke-width="3"/>
<line x1="326.9" y1="1538.32" x2="326.9" y2="1468.05" stroke="#35568C" stroke-width="1.5"/>
<line x1="322.6" y1="1468.05" x2="331.2" y2="1468.05" stroke="#35568C" stroke-width="1.5"/>
<line x1="322.6" y1="1538.32" x2="331.2" y2="1538.32" stroke="#35568C" stroke-width="1.5"/>
<line x1="319.5" y1="1558" x2="319.5" y2="1504.1" stroke="#35568C" stroke-width="3"/>
<line x1="334.3" y1="1558" x2="334.3" y2="1504.1" stroke="#35568C" stroke-width="3"/>
<line x1="318" y1="1505.6" x2="335.8" y2="1505.6" stroke="#35568C" stroke-width="3"/>
<line x1="358.2" y1="1520.19" x2="358.2" y2="1463.9" stroke="#F9462C" stroke-width="1.5"/>
<line x1="358.2" y1="1439" x2="358.2" y2="1417.04" stroke="#F9462C" stroke-width="1.5"/>
<line x1="353.9" y1="1417.04" x2="362.5" y2="1417.04" stroke="#F9462C" stroke-width="1.5"/>
<line x1="353.9" y1="1520.19" x2="362.5" y2="1520.19" stroke="#F9462C" stroke-width="1.5"/>
<line x1="350.8" y1="1558" x2="350.8" y2="1481.61" stroke="#F9462C" stroke-width="3"/>
<line x1="365.6" y1="1558" x2="365.6" y2="1481.61" stroke="#F9462C" stroke-width="3"/>
<line x1="349.3" y1="1483.11" x2="367.1" y2="1483.11" stroke="#F9462C" stroke-width="3"/>
<line x1="421.8" y1="1556.59" x2="421.8" y2="1553.78" stroke="#35568C" stroke-width="1.5"/>
<line x1="417.5" y1="1553.78" x2="426.1" y2="1553.78" stroke="#35568C" stroke-width="1.5"/>
<line x1="417.5" y1="1556.59" x2="426.1" y2="1556.59" stroke="#35568C" stroke-width="1.5"/>
<line x1="453.1" y1="1555.89" x2="453.1" y2="1549.92" stroke="#F9462C" stroke-width="1.5"/>
<line x1="448.8" y1="1549.92" x2="457.4" y2="1549.92" stroke="#F9462C" stroke-width="1.5"/>
<line x1="448.8" y1="1555.89" x2="457.4" y2="1555.89" stroke="#F9462C" stroke-width="1.5"/>
<line x1="445.7" y1="1558" x2="445.7" y2="1552.87" stroke="#F9462C" stroke-width="3"/>
<line x1="460.5" y1="1558" x2="460.5" y2="1552.87" stroke="#F9462C" stroke-width="3"/>
<line x1="444.2" y1="1554.37" x2="462" y2="1554.37" stroke="#F9462C" stroke-width="3"/>
<line x1="474.3" y1="1540.71" x2="474.3" y2="1510.91" stroke="#5DCFD9" stroke-width="1.5"/>
<line x1="470" y1="1510.91" x2="478.6" y2="1510.91" stroke="#5DCFD9" stroke-width="1.5"/>
<line x1="466.9" y1="1558" x2="466.9" y2="1540.71" stroke="#5DCFD9" stroke-width="3"/>
<line x1="481.7" y1="1558" x2="481.7" y2="1540.71" stroke="#5DCFD9" stroke-width="3"/>
<line x1="465.4" y1="1542.21" x2="483.2" y2="1542.21" stroke="#5DCFD9" stroke-width="3"/>
<line x1="495.5" y1="1556.59" x2="495.5" y2="1531.29" stroke="#4BAE8D" stroke-width="1.5"/>
<line x1="491.2" y1="1531.29" x2="499.8" y2="1531.29" stroke="#4BAE8D" stroke-width="1.5"/>
<line x1="491.2" y1="1556.59" x2="499.8" y2="1556.59" stroke="#4BAE8D" stroke-width="1.5"/>
<line x1="488.1" y1="1558" x2="488.1" y2="1544.65" stroke="#4BAE8D" stroke-width="3"/>
<line x1="502.9" y1="1558" x2="502.9" y2="1544.65" stroke="#4BAE8D" stroke-width="3"/>
<line x1="486.6" y1="1546.15" x2="504.4" y2="1546.15" stroke="#4BAE8D" stroke-width="3"/>
<line x1="516.7" y1="1548.16" x2="516.7" y2="1523.56" stroke="#35568C" stroke-width="1.5"/>
<line x1="512.4" y1="1523.56" x2="521" y2="1523.56" stroke="#35568C" stroke-width="1.5"/>
<line x1="512.4" y1="1548.16" x2="521" y2="1548.16" stroke="#35568C" stroke-width="1.5"/>
<line x1="509.3" y1="1558" x2="509.3" y2="1537.06" stroke="#35568C" stroke-width="3"/>
<line x1="524.1" y1="1558" x2="524.1" y2="1537.06" stroke="#35568C" stroke-width="3"/>
<line x1="507.8" y1="1538.56" x2="525.6" y2="1538.56" stroke="#35568C" stroke-width="3"/>
<line x1="569.2" y1="1540.22" x2="569.2" y2="1510.21" stroke="#5DCFD9" stroke-width="1.5"/>
<line x1="564.9" y1="1510.21" x2="573.5" y2="1510.21" stroke="#5DCFD9" stroke-width="1.5"/>
<line x1="564.9" y1="1540.22" x2="573.5" y2="1540.22" stroke="#5DCFD9" stroke-width="1.5"/>
<line x1="561.8" y1="1558" x2="561.8" y2="1525.04" stroke="#5DCFD9" stroke-width="3"/>
<line x1="576.6" y1="1558" x2="576.6" y2="1525.04" stroke="#5DCFD9" stroke-width="3"/>
<line x1="560.3" y1="1526.54" x2="578.1" y2="1526.54" stroke="#5DCFD9" stroke-width="3"/>
<line x1="611.6" y1="1545.77" x2="611.6" y2="1522.37" stroke="#35568C" stroke-width="1.5"/>
<line x1="607.3" y1="1522.37" x2="615.9" y2="1522.37" stroke="#35568C" stroke-width="1.5"/>
<line x1="604.2" y1="1558" x2="604.2" y2="1545.77" stroke="#35568C" stroke-width="3"/>
<line x1="619" y1="1558" x2="619" y2="1545.77" stroke="#35568C" stroke-width="3"/>
<line x1="602.7" y1="1547.27" x2="620.5" y2="1547.27" stroke="#35568C" stroke-width="3"/>
<line x1="664.1" y1="1557.3" x2="664.1" y2="1548.02" stroke="#5DCFD9" stroke-width="1.5"/>
<line x1="659.8" y1="1548.02" x2="668.4" y2="1548.02" stroke="#5DCFD9" stroke-width="1.5"/>
<line x1="659.8" y1="1557.3" x2="668.4" y2="1557.3" stroke="#5DCFD9" stroke-width="1.5"/>
<line x1="656.7" y1="1558" x2="656.7" y2="1552.87" stroke="#5DCFD9" stroke-width="3"/>
<line x1="671.5" y1="1558" x2="671.5" y2="1552.87" stroke="#5DCFD9" stroke-width="3"/>
<line x1="655.2" y1="1554.37" x2="673" y2="1554.37" stroke="#5DCFD9" stroke-width="3"/>
<line x1="685.3" y1="1553.78" x2="685.3" y2="1536.07" stroke="#4BAE8D" stroke-width="1.5"/>
<line x1="681" y1="1536.07" x2="689.6" y2="1536.07" stroke="#4BAE8D" stroke-width="1.5"/>
<line x1="681" y1="1553.78" x2="689.6" y2="1553.78" stroke="#4BAE8D" stroke-width="1.5"/>
<line x1="677.9" y1="1558" x2="677.9" y2="1545.07" stroke="#4BAE8D" stroke-width="3"/>
<line x1="692.7" y1="1558" x2="692.7" y2="1545.07" stroke="#4BAE8D" stroke-width="3"/>
<line x1="676.4" y1="1546.57" x2="694.2" y2="1546.57" stroke="#4BAE8D" stroke-width="3"/>
<line x1="706.5" y1="1554.84" x2="706.5" y2="1529.19" stroke="#35568C" stroke-width="1.5"/>
<line x1="702.2" y1="1529.19" x2="710.8" y2="1529.19" stroke="#35568C" stroke-width="1.5"/>
<line x1="702.2" y1="1554.84" x2="710.8" y2="1554.84" stroke="#35568C" stroke-width="1.5"/>
<line x1="699.1" y1="1558" x2="699.1" y2="1542.12" stroke="#35568C" stroke-width="3"/>
<line x1="713.9" y1="1558" x2="713.9" y2="1542.12" stroke="#35568C" stroke-width="3"/>
<line x1="697.6" y1="1543.62" x2="715.4" y2="1543.62" stroke="#35568C" stroke-width="3"/>
<line x1="759" y1="1542.54" x2="759" y2="1536.57" stroke="#5DCFD9" stroke-width="1.5"/>
<line x1="754.7" y1="1536.57" x2="763.3" y2="1536.57" stroke="#5DCFD9" stroke-width="1.5"/>
<line x1="754.7" y1="1542.54" x2="763.3" y2="1542.54" stroke="#5DCFD9" stroke-width="1.5"/>
<line x1="751.6" y1="1558" x2="751.6" y2="1537.76" stroke="#5DCFD9" stroke-width="3"/>
<line x1="766.4" y1="1558" x2="766.4" y2="1537.76" stroke="#5DCFD9" stroke-width="3"/>
<line x1="750.1" y1="1539.26" x2="767.9" y2="1539.26" stroke="#5DCFD9" stroke-width="3"/>
<line x1="780.2" y1="1554.49" x2="780.2" y2="1537.76" stroke="#4BAE8D" stroke-width="1.5"/>
<line x1="775.9" y1="1537.76" x2="784.5" y2="1537.76" stroke="#4BAE8D" stroke-width="1.5"/>
<line x1="775.9" y1="1554.49" x2="784.5" y2="1554.49" stroke="#4BAE8D" stroke-width="1.5"/>
<line x1="772.8" y1="1558" x2="772.8" y2="1546.26" stroke="#4BAE8D" stroke-width="3"/>
<line x1="787.6" y1="1558" x2="787.6" y2="1546.26" stroke="#4BAE8D" stroke-width="3"/>
<line x1="771.3" y1="1547.76" x2="789.1" y2="1547.76" stroke="#4BAE8D" stroke-width="3"/>
<line x1="801.4" y1="1556.59" x2="801.4" y2="1509.72" stroke="#35568C" stroke-width="1.5"/>
<line x1="797.1" y1="1509.72" x2="805.7" y2="1509.72" stroke="#35568C" stroke-width="1.5"/>
<line x1="797.1" y1="1556.59" x2="805.7" y2="1556.59" stroke="#35568C" stroke-width="1.5"/>
<line x1="794" y1="1558" x2="794" y2="1533.4" stroke="#35568C" stroke-width="3"/>
<line x1="808.8" y1="1558" x2="808.8" y2="1533.4" stroke="#35568C" stroke-width="3"/>
<line x1="792.5" y1="1534.9" x2="810.3" y2="1534.9" stroke="#35568C" stroke-width="3"/>
<line x1="853.9" y1="1546.26" x2="853.9" y2="1532.14" stroke="#5DCFD9" stroke-width="1.5"/>
<line x1="849.6" y1="1532.14" x2="858.2" y2="1532.14" stroke="#5DCFD9" stroke-width="1.5"/>
<line x1="846.5" y1="1558" x2="846.5" y2="1546.26" stroke="#5DCFD9" stroke-width="3"/>
<line x1="861.3" y1="1558" x2="861.3" y2="1546.26" stroke="#5DCFD9" stroke-width="3"/>
<line x1="845" y1="1547.76" x2="862.8" y2="1547.76" stroke="#5DCFD9" stroke-width="3"/>
<line x1="875.1" y1="1556.59" x2="875.1" y2="1546.26" stroke="#4BAE8D" stroke-width="1.5"/>
<line x1="870.8" y1="1546.26" x2="879.4" y2="1546.26" stroke="#4BAE8D" stroke-width="1.5"/>
<line x1="870.8" y1="1556.59" x2="879.4" y2="1556.59" stroke="#4BAE8D" stroke-width="1.5"/>
<line x1="867.7" y1="1558" x2="867.7" y2="1551.89" stroke="#4BAE8D" stroke-width="3"/>
<line x1="882.5" y1="1558" x2="882.5" y2="1551.89" stroke="#4BAE8D" stroke-width="3"/>
<line x1="866.2" y1="1553.39" x2="884" y2="1553.39" stroke="#4BAE8D" stroke-width="3"/>
<line x1="896.3" y1="1554.84" x2="896.3" y2="1543.94" stroke="#35568C" stroke-width="1.5"/>
<line x1="892" y1="1543.94" x2="900.6" y2="1543.94" stroke="#35568C" stroke-width="1.5"/>
<line x1="892" y1="1554.84" x2="900.6" y2="1554.84" stroke="#35568C" stroke-width="1.5"/>
<line x1="888.9" y1="1558" x2="888.9" y2="1549.43" stroke="#35568C" stroke-width="3"/>
<line x1="903.7" y1="1558" x2="903.7" y2="1549.43" stroke="#35568C" stroke-width="3"/>
<line x1="887.4" y1="1550.93" x2="905.2" y2="1550.93" stroke="#35568C" stroke-width="3"/>
<line x1="948.8" y1="1547.04" x2="948.8" y2="1536.07" stroke="#5DCFD9" stroke-width="1.5"/>
<line x1="944.5" y1="1536.07" x2="953.1" y2="1536.07" stroke="#5DCFD9" stroke-width="1.5"/>
<line x1="941.4" y1="1558" x2="941.4" y2="1547.04" stroke="#5DCFD9" stroke-width="3"/>
<line x1="956.2" y1="1558" x2="956.2" y2="1547.04" stroke="#5DCFD9" stroke-width="3"/>
<line x1="939.9" y1="1548.54" x2="957.7" y2="1548.54" stroke="#5DCFD9" stroke-width="3"/>
<line x1="970" y1="1557.3" x2="970" y2="1545.77" stroke="#4BAE8D" stroke-width="1.5"/>
<line x1="965.7" y1="1545.77" x2="974.3" y2="1545.77" stroke="#4BAE8D" stroke-width="1.5"/>
<line x1="965.7" y1="1557.3" x2="974.3" y2="1557.3" stroke="#4BAE8D" stroke-width="1.5"/>
<line x1="962.6" y1="1558" x2="962.6" y2="1551.68" stroke="#4BAE8D" stroke-width="3"/>
<line x1="977.4" y1="1558" x2="977.4" y2="1551.68" stroke="#4BAE8D" stroke-width="3"/>
<line x1="961.1" y1="1553.18" x2="978.9" y2="1553.18" stroke="#4BAE8D" stroke-width="3"/>
<line x1="991.2" y1="1557.3" x2="991.2" y2="1547.46" stroke="#35568C" stroke-width="1.5"/>
<line x1="986.9" y1="1547.46" x2="995.5" y2="1547.46" stroke="#35568C" stroke-width="1.5"/>
<line x1="986.9" y1="1557.3" x2="995.5" y2="1557.3" stroke="#35568C" stroke-width="1.5"/>
<line x1="983.8" y1="1558" x2="983.8" y2="1552.87" stroke="#35568C" stroke-width="3"/>
<line x1="998.6" y1="1558" x2="998.6" y2="1552.87" stroke="#35568C" stroke-width="3"/>
<line x1="982.3" y1="1554.37" x2="1000.1" y2="1554.37" stroke="#35568C" stroke-width="3"/>
<line x1="138" y1="1224.9" x2="1011.3" y2="1224.9" stroke="#000" stroke-width="3"/>
<line x1="1009.8" y1="1224.9" x2="1009.8" y2="1559.5" stroke="#000" stroke-width="3"/>
<line x1="138" y1="1558" x2="1011.3" y2="1558" stroke="#000" stroke-width="3"/>
<line x1="151.5" y1="1462.4" x2="151.5" y2="1558" stroke="#000" stroke-width="3"/>
<line x1="151.5" y1="1343.1" x2="151.5" y2="1440.5" stroke="#000" stroke-width="3"/>
<line x1="151.5" y1="1224.9" x2="151.5" y2="1321" stroke="#000" stroke-width="3"/>
<line x1="144" y1="1319.5" x2="158.5" y2="1319.5" stroke="#000" stroke-width="3"/>
<line x1="144" y1="1344.6" x2="158.5" y2="1344.6" stroke="#000" stroke-width="3"/>
<line x1="144" y1="1439" x2="158.5" y2="1439" stroke="#000" stroke-width="3"/>
<line x1="144" y1="1463.9" x2="158.5" y2="1463.9" stroke="#000" stroke-width="3"/>
<line x1="138" y1="1558" x2="151.5" y2="1558" stroke="#000" stroke-width="3"/>
<text x="133.5" y="1564.3" font-size="18.5" font-weight="bold" text-anchor="end">0</text>
<line x1="138" y1="1529.89" x2="151.5" y2="1529.89" stroke="#000" stroke-width="3"/>
<text x="133.5" y="1536.19" font-size="18.5" font-weight="bold" text-anchor="end">4</text>
<line x1="138" y1="1501.78" x2="151.5" y2="1501.78" stroke="#000" stroke-width="3"/>
<text x="133.5" y="1508.08" font-size="18.5" font-weight="bold" text-anchor="end">8</text>
<line x1="138" y1="1473.67" x2="151.5" y2="1473.67" stroke="#000" stroke-width="3"/>
<text x="133.5" y="1479.97" font-size="18.5" font-weight="bold" text-anchor="end">12</text>
<line x1="138" y1="1427.56" x2="151.5" y2="1427.56" stroke="#000" stroke-width="3"/>
<text x="133.5" y="1433.86" font-size="18.5" font-weight="bold" text-anchor="end">15</text>
<line x1="138" y1="1391.8" x2="151.5" y2="1391.8" stroke="#000" stroke-width="3"/>
<text x="133.5" y="1398.1" font-size="18.5" font-weight="bold" text-anchor="end">20</text>
<line x1="138" y1="1356.04" x2="151.5" y2="1356.04" stroke="#000" stroke-width="3"/>
<text x="133.5" y="1362.34" font-size="18.5" font-weight="bold" text-anchor="end">25</text>
<line x1="138" y1="1306.31" x2="151.5" y2="1306.31" stroke="#000" stroke-width="3"/>
<text x="133.5" y="1312.61" font-size="18.5" font-weight="bold" text-anchor="end">30</text>
<line x1="138" y1="1285.96" x2="151.5" y2="1285.96" stroke="#000" stroke-width="3"/>
<text x="133.5" y="1292.26" font-size="18.5" font-weight="bold" text-anchor="end">35</text>
<line x1="138" y1="1265.61" x2="151.5" y2="1265.61" stroke="#000" stroke-width="3"/>
<text x="133.5" y="1271.91" font-size="18.5" font-weight="bold" text-anchor="end">40</text>
<line x1="138" y1="1245.25" x2="151.5" y2="1245.25" stroke="#000" stroke-width="3"/>
<text x="133.5" y="1251.55" font-size="18.5" font-weight="bold" text-anchor="end">45</text>
<line x1="138" y1="1224.9" x2="151.5" y2="1224.9" stroke="#000" stroke-width="3"/>
<text x="133.5" y="1231.2" font-size="18.5" font-weight="bold" text-anchor="end">50</text>
<line x1="200.2" y1="1558" x2="200.2" y2="1572" stroke="#000" stroke-width="3"/>
<line x1="295.1" y1="1558" x2="295.1" y2="1572" stroke="#000" stroke-width="3"/>
<line x1="390" y1="1558" x2="390" y2="1572" stroke="#000" stroke-width="3"/>
<line x1="484.9" y1="1558" x2="484.9" y2="1572" stroke="#000" stroke-width="3"/>
<line x1="579.8" y1="1558" x2="579.8" y2="1572" stroke="#000" stroke-width="3"/>
<line x1="674.7" y1="1558" x2="674.7" y2="1572" stroke="#000" stroke-width="3"/>
<line x1="769.6" y1="1558" x2="769.6" y2="1572" stroke="#000" stroke-width="3"/>
<line x1="864.5" y1="1558" x2="864.5" y2="1572" stroke="#000" stroke-width="3"/>
<line x1="959.4" y1="1558" x2="959.4" y2="1572" stroke="#000" stroke-width="3"/>
<circle cx="162.4" cy="1553.78" r="2" fill="#F9462C"/>
<circle cx="166.4" cy="1554.84" r="2" fill="#F9462C"/>
<circle cx="170.4" cy="1555.54" r="2" fill="#F9462C"/>
<circle cx="174.4" cy="1554.49" r="2" fill="#F9462C"/>
<circle cx="189.6" cy="1287.99" r="2" fill="#5DCFD9"/>
<circle cx="189.6" cy="1306.31" r="2" fill="#5DCFD9"/>
<circle cx="189.6" cy="1383.22" r="2" fill="#5DCFD9"/>
<circle cx="210.8" cy="1377.5" r="2" fill="#4BAE8D"/>
<circle cx="210.8" cy="1393.95" r="2" fill="#4BAE8D"/>
<circle cx="207.8" cy="1469.45" r="2" fill="#4BAE8D"/>
<circle cx="213.8" cy="1472.26" r="2" fill="#4BAE8D"/>
<circle cx="210.8" cy="1489.83" r="2" fill="#4BAE8D"/>
<circle cx="232" cy="1290.84" r="2" fill="#35568C"/>
<circle cx="232" cy="1298.17" r="2" fill="#35568C"/>
<circle cx="232" cy="1358.19" r="2" fill="#35568C"/>
<circle cx="232" cy="1396.81" r="2" fill="#35568C"/>
<circle cx="263.3" cy="1532.91" r="2" fill="#F9462C"/>
<circle cx="260.3" cy="1547.46" r="2" fill="#F9462C"/>
<circle cx="266.3" cy="1548.86" r="2" fill="#F9462C"/>
<circle cx="263.3" cy="1553.78" r="2" fill="#F9462C"/>
<circle cx="282" cy="1488.43" r="2" fill="#5DCFD9"/>
<circle cx="287.5" cy="1488.43" r="2" fill="#5DCFD9"/>
<circle cx="284.5" cy="1503.89" r="2" fill="#5DCFD9"/>
<circle cx="284.5" cy="1523.14" r="2" fill="#5DCFD9"/>
<circle cx="284.5" cy="1534.81" r="2" fill="#5DCFD9"/>
<circle cx="305.7" cy="1436.14" r="2" fill="#4BAE8D"/>
<circle cx="305.7" cy="1506.7" r="2" fill="#4BAE8D"/>
<circle cx="305.7" cy="1522.16" r="2" fill="#4BAE8D"/>
<circle cx="305.7" cy="1536.57" r="2" fill="#4BAE8D"/>
<circle cx="305.7" cy="1551.89" r="2" fill="#4BAE8D"/>
<circle cx="326.9" cy="1435.78" r="2" fill="#35568C"/>
<circle cx="326.9" cy="1489.83" r="2" fill="#35568C"/>
<circle cx="326.9" cy="1499.67" r="2" fill="#35568C"/>
<circle cx="326.9" cy="1510.21" r="2" fill="#35568C"/>
<circle cx="326.9" cy="1556.59" r="2" fill="#35568C"/>
<circle cx="358.2" cy="1391.8" r="2" fill="#F9462C"/>
<circle cx="354.7" cy="1484.21" r="2" fill="#F9462C"/>
<circle cx="361.7" cy="1484.21" r="2" fill="#F9462C"/>
<circle cx="358.2" cy="1503.89" r="2" fill="#F9462C"/>
<circle cx="358.2" cy="1520.05" r="2" fill="#F9462C"/>
<circle cx="371.8" cy="1558" r="1.45" fill="#5DCFD9"/>
<circle cx="375.6" cy="1558" r="1.45" fill="#5DCFD9"/>
<circle cx="379.4" cy="1558" r="1.45" fill="#5DCFD9"/>
<circle cx="383.2" cy="1558" r="1.45" fill="#5DCFD9"/>
<circle cx="387" cy="1558" r="1.45" fill="#5DCFD9"/>
<circle cx="393" cy="1558" r="1.45" fill="#4BAE8D"/>
<circle cx="396.8" cy="1558" r="1.45" fill="#4BAE8D"/>
<circle cx="400.6" cy="1558" r="1.45" fill="#4BAE8D"/>
<circle cx="404.4" cy="1558" r="1.45" fill="#4BAE8D"/>
<circle cx="408.2" cy="1558" r="1.45" fill="#4BAE8D"/>
<circle cx="416.8" cy="1553.08" r="2" fill="#35568C"/>
<circle cx="421.8" cy="1554.49" r="2" fill="#35568C"/>
<circle cx="426.8" cy="1556.59" r="2" fill="#35568C"/>
<circle cx="447.1" cy="1548.86" r="2" fill="#F9462C"/>
<circle cx="456.1" cy="1550.27" r="2" fill="#F9462C"/>
<circle cx="451.1" cy="1552.38" r="2" fill="#F9462C"/>
<circle cx="459.1" cy="1554.49" r="2" fill="#F9462C"/>
<circle cx="474.3" cy="1489.13" r="2" fill="#5DCFD9"/>
<circle cx="474.3" cy="1548.16" r="2" fill="#5DCFD9"/>
<circle cx="474.3" cy="1553.78" r="2" fill="#5DCFD9"/>
<circle cx="481.3" cy="1555.89" r="2" fill="#5DCFD9"/>
<circle cx="495.5" cy="1525.67" r="2" fill="#4BAE8D"/>
<circle cx="495.5" cy="1536.57" r="2" fill="#4BAE8D"/>
<circle cx="498.5" cy="1550.97" r="2" fill="#4BAE8D"/>
<circle cx="492.5" cy="1554.49" r="2" fill="#4BAE8D"/>
<circle cx="513.7" cy="1521.46" r="2" fill="#35568C"/>
<circle cx="519.7" cy="1524.27" r="2" fill="#35568C"/>
<circle cx="516.7" cy="1538.32" r="2" fill="#35568C"/>
<circle cx="513.7" cy="1547.46" r="2" fill="#35568C"/>
<circle cx="519.7" cy="1547.46" r="2" fill="#35568C"/>
<circle cx="540.4" cy="1558" r="1.45" fill="#F9462C"/>
<circle cx="544.2" cy="1558" r="1.45" fill="#F9462C"/>
<circle cx="548" cy="1558" r="1.45" fill="#F9462C"/>
<circle cx="551.8" cy="1558" r="1.45" fill="#F9462C"/>
<circle cx="555.6" cy="1558" r="1.45" fill="#F9462C"/>
<circle cx="566.7" cy="1510.21" r="2" fill="#5DCFD9"/>
<circle cx="572.2" cy="1510.21" r="2" fill="#5DCFD9"/>
<circle cx="569.2" cy="1524.27" r="2" fill="#5DCFD9"/>
<circle cx="569.2" cy="1549.92" r="2" fill="#5DCFD9"/>
<circle cx="582.8" cy="1558" r="1.45" fill="#4BAE8D"/>
<circle cx="586.6" cy="1558" r="1.45" fill="#4BAE8D"/>
<circle cx="590.4" cy="1558" r="1.45" fill="#4BAE8D"/>
<circle cx="594.2" cy="1558" r="1.45" fill="#4BAE8D"/>
<circle cx="598" cy="1558" r="1.45" fill="#4BAE8D"/>
<circle cx="611.6" cy="1504.8" r="2" fill="#35568C"/>
<circle cx="611.6" cy="1553.08" r="2" fill="#35568C"/>
<circle cx="604.6" cy="1556.59" r="2" fill="#35568C"/>
<circle cx="635.3" cy="1558" r="1.45" fill="#F9462C"/>
<circle cx="639.1" cy="1558" r="1.45" fill="#F9462C"/>
<circle cx="642.9" cy="1558" r="1.45" fill="#F9462C"/>
<circle cx="646.7" cy="1558" r="1.45" fill="#F9462C"/>
<circle cx="650.5" cy="1558" r="1.45" fill="#F9462C"/>
<circle cx="662.1" cy="1547.46" r="2" fill="#5DCFD9"/>
<circle cx="667.1" cy="1549.57" r="2" fill="#5DCFD9"/>
<circle cx="669.1" cy="1553.78" r="2" fill="#5DCFD9"/>
<circle cx="662.1" cy="1557.3" r="2" fill="#5DCFD9"/>
<circle cx="685.3" cy="1532.7" r="2" fill="#4BAE8D"/>
<circle cx="685.3" cy="1539.73" r="2" fill="#4BAE8D"/>
<circle cx="685.3" cy="1546.05" r="2" fill="#4BAE8D"/>
<circle cx="685.3" cy="1550.97" r="2" fill="#4BAE8D"/>
<circle cx="685.3" cy="1556.59" r="2" fill="#4BAE8D"/>
<circle cx="706.5" cy="1520.75" r="2" fill="#35568C"/>
<circle cx="706.5" cy="1539.73" r="2" fill="#35568C"/>
<circle cx="703.5" cy="1546.05" r="2" fill="#35568C"/>
<circle cx="710.5" cy="1547.46" r="2" fill="#35568C"/>
<circle cx="706.5" cy="1555.89" r="2" fill="#35568C"/>
<circle cx="730.2" cy="1558" r="1.45" fill="#F9462C"/>
<circle cx="734" cy="1558" r="1.45" fill="#F9462C"/>
<circle cx="737.8" cy="1558" r="1.45" fill="#F9462C"/>
<circle cx="741.6" cy="1558" r="1.45" fill="#F9462C"/>
<circle cx="745.4" cy="1558" r="1.45" fill="#F9462C"/>
<circle cx="753" cy="1536.92" r="2" fill="#5DCFD9"/>
<circle cx="757" cy="1537.62" r="2" fill="#5DCFD9"/>
<circle cx="761" cy="1538.32" r="2" fill="#5DCFD9"/>
<circle cx="765" cy="1537.62" r="2" fill="#5DCFD9"/>
<circle cx="759" cy="1544.65" r="2" fill="#5DCFD9"/>
<circle cx="774.2" cy="1536.21" r="2" fill="#4BAE8D"/>
<circle cx="780.2" cy="1537.62" r="2" fill="#4BAE8D"/>
<circle cx="780.2" cy="1548.86" r="2" fill="#4BAE8D"/>
<circle cx="785.2" cy="1553.78" r="2" fill="#4BAE8D"/>
<circle cx="801.4" cy="1504.1" r="2" fill="#35568C"/>
<circle cx="798.4" cy="1545.35" r="2" fill="#35568C"/>
<circle cx="805.4" cy="1546.76" r="2" fill="#35568C"/>
<circle cx="801.4" cy="1556.59" r="2" fill="#35568C"/>
<circle cx="825.1" cy="1558" r="1.45" fill="#F9462C"/>
<circle cx="828.9" cy="1558" r="1.45" fill="#F9462C"/>
<circle cx="832.7" cy="1558" r="1.45" fill="#F9462C"/>
<circle cx="836.5" cy="1558" r="1.45" fill="#F9462C"/>
<circle cx="840.3" cy="1558" r="1.45" fill="#F9462C"/>
<circle cx="853.9" cy="1524.27" r="2" fill="#5DCFD9"/>
<circle cx="853.9" cy="1541.13" r="2" fill="#5DCFD9"/>
<circle cx="850.9" cy="1555.89" r="2" fill="#5DCFD9"/>
<circle cx="856.9" cy="1556.59" r="2" fill="#5DCFD9"/>
<circle cx="875.1" cy="1544.37" r="2" fill="#4BAE8D"/>
<circle cx="872.1" cy="1550.97" r="2" fill="#4BAE8D"/>
<circle cx="878.1" cy="1554.49" r="2" fill="#4BAE8D"/>
<circle cx="868.1" cy="1555.89" r="2" fill="#4BAE8D"/>
<circle cx="890.3" cy="1544.65" r="2" fill="#35568C"/>
<circle cx="896.3" cy="1544.65" r="2" fill="#35568C"/>
<circle cx="902.3" cy="1545.35" r="2" fill="#35568C"/>
<circle cx="896.3" cy="1550.97" r="2" fill="#35568C"/>
<circle cx="896.3" cy="1555.89" r="2" fill="#35568C"/>
<circle cx="920" cy="1558" r="1.45" fill="#F9462C"/>
<circle cx="923.8" cy="1558" r="1.45" fill="#F9462C"/>
<circle cx="927.6" cy="1558" r="1.45" fill="#F9462C"/>
<circle cx="931.4" cy="1558" r="1.45" fill="#F9462C"/>
<circle cx="935.2" cy="1558" r="1.45" fill="#F9462C"/>
<circle cx="948.8" cy="1531.65" r="2" fill="#5DCFD9"/>
<circle cx="948.8" cy="1543.94" r="2" fill="#5DCFD9"/>
<circle cx="945.8" cy="1555.19" r="2" fill="#5DCFD9"/>
<circle cx="951.8" cy="1556.59" r="2" fill="#5DCFD9"/>
<circle cx="970" cy="1542.12" r="2" fill="#4BAE8D"/>
<circle cx="967" cy="1550.97" r="2" fill="#4BAE8D"/>
<circle cx="973" cy="1554.49" r="2" fill="#4BAE8D"/>
<circle cx="963" cy="1556.59" r="2" fill="#4BAE8D"/>
<circle cx="991.2" cy="1544.37" r="2" fill="#35568C"/>
<circle cx="988.2" cy="1549.57" r="2" fill="#35568C"/>
<circle cx="994.2" cy="1552.38" r="2" fill="#35568C"/>
<circle cx="986.2" cy="1554.49" r="2" fill="#35568C"/>
<circle cx="995.2" cy="1556.59" r="2" fill="#35568C"/>
<text transform="translate(88.3 1385) rotate(-90)" font-size="23" text-anchor="middle" textLength="223" lengthAdjust="spacingAndGlyphs">Proportion of sequences</text>
<text x="168.3" y="1536.8" font-size="18.5" font-weight="bold" text-anchor="middle">a</text>
<text x="190" y="1272.5" font-size="18.5" font-weight="bold" text-anchor="middle">b</text>
<text x="210.8" y="1370" font-size="18.5" font-weight="bold" text-anchor="middle">c</text>
<text x="232" y="1241.5" font-size="18.5" font-weight="bold" text-anchor="middle">b</text>
<text x="262.4" y="1521.5" font-size="18.5" font-weight="bold" text-anchor="middle">a</text>
<text x="285.6" y="1480.5" font-size="18.5" font-weight="bold" text-anchor="middle">b</text>
<text x="306.3" y="1432.9" font-size="18.5" font-weight="bold" text-anchor="middle">b</text>
<text x="328.3" y="1430.5" font-size="18.5" font-weight="bold" text-anchor="middle">b</text>
<text x="359.5" y="1385.9" font-size="18.5" font-weight="bold" text-anchor="middle">a</text>
<text x="379.5" y="1546.8" font-size="18.5" font-weight="bold" text-anchor="middle">b</text>
<text x="402" y="1546.8" font-size="18.5" font-weight="bold" text-anchor="middle">b</text>
<text x="422.2" y="1541" font-size="18.5" font-weight="bold" text-anchor="middle">b</text>
<text x="453.2" y="1536.1" font-size="18.5" font-weight="bold" text-anchor="middle">a</text>
<text x="473.9" y="1480.5" font-size="18.5" font-weight="bold" text-anchor="middle">b</text>
<text x="495.6" y="1518.3" font-size="18.5" font-weight="bold" text-anchor="middle">b</text>
<text x="517.3" y="1511" font-size="18.5" font-weight="bold" text-anchor="middle">b</text>
<text x="549.5" y="1545.1" font-size="18.5" font-weight="bold" text-anchor="middle">a</text>
<text x="569.5" y="1503.2" font-size="18.5" font-weight="bold" text-anchor="middle">b</text>
<text x="588.5" y="1544.4" font-size="18.5" font-weight="bold" text-anchor="middle">a</text>
<text x="612.2" y="1500.5" font-size="18.5" font-weight="bold" text-anchor="middle">c</text>
<text x="643.4" y="1545.1" font-size="18.5" font-weight="bold" text-anchor="middle">a</text>
<text x="665.9" y="1535.4" font-size="18.5" font-weight="bold" text-anchor="middle">b</text>
<text x="684.1" y="1522.4" font-size="18.5" font-weight="bold" text-anchor="middle">c</text>
<text x="705.6" y="1517.1" font-size="18.5" font-weight="bold" text-anchor="middle">c</text>
<text x="736.8" y="1545.1" font-size="18.5" font-weight="bold" text-anchor="middle">a</text>
<text x="758.8" y="1523.2" font-size="18.5" font-weight="bold" text-anchor="middle">b</text>
<text x="780" y="1525.1" font-size="18.5" font-weight="bold" text-anchor="middle">b</text>
<text x="802.4" y="1496.3" font-size="18.5" font-weight="bold" text-anchor="middle">b</text>
<text x="837.8" y="1545.1" font-size="18.5" font-weight="bold" text-anchor="middle">a</text>
<text x="854.4" y="1519" font-size="18.5" font-weight="bold" text-anchor="middle">b</text>
<text x="874.6" y="1536.1" font-size="18.5" font-weight="bold" text-anchor="middle">b</text>
<text x="897.1" y="1530.5" font-size="18.5" font-weight="bold" text-anchor="middle">b</text>
<text x="932.4" y="1546.3" font-size="18.5" font-weight="bold" text-anchor="middle">a</text>
<text x="950" y="1523.7" font-size="18.5" font-weight="bold" text-anchor="middle">b</text>
<text x="971.5" y="1532.2" font-size="18.5" font-weight="bold" text-anchor="middle">b</text>
<text x="992.2" y="1534.1" font-size="18.5" font-weight="bold" text-anchor="middle">b</text>
<text transform="translate(205.2 1585) scale(0.93 1) rotate(-45)" font-size="18.3" font-weight="bold" text-anchor="end">g__Coriobacteriaceae_UCG-002</text>
<text transform="translate(300.1 1585) scale(0.93 1) rotate(-45)" font-size="18.3" font-weight="bold" text-anchor="end">g__Lactobacillus</text>
<text transform="translate(395 1585) scale(0.93 1) rotate(-45)" font-size="18.3" font-weight="bold" text-anchor="end">g__Blautia</text>
<text transform="translate(489.9 1585) scale(0.93 1) rotate(-45)" font-size="18.3" font-weight="bold" text-anchor="end">g__Clostridium_sensu_stricto_1</text>
<text transform="translate(584.8 1585) scale(0.93 1) rotate(-45)" font-size="18.3" font-weight="bold" text-anchor="end">g__Dubosiella</text>
<text transform="translate(679.7 1585) scale(0.93 1) rotate(-45)" font-size="18.3" font-weight="bold" text-anchor="end">g__Akkermansia</text>
<text transform="translate(774.6 1585) scale(0.93 1) rotate(-45)" font-size="18.3" font-weight="bold" text-anchor="end">g__Escherichia-Shigella</text>
<text transform="translate(869.5 1585) scale(0.93 1) rotate(-45)" font-size="18.3" font-weight="bold" text-anchor="end">g__Erysipelatoclostridium</text>
<text transform="translate(964.4 1585) scale(0.93 1) rotate(-45)" font-size="18.3" font-weight="bold" text-anchor="end">g__Parasutterella</text>
<circle cx="834.9" cy="1242.9" r="2" fill="#F9462C"/>
<text x="870.7" y="1250" font-size="18.5" font-weight="bold">WD</text>
<circle cx="834.9" cy="1271" r="2" fill="#5DCFD9"/>
<text x="870.7" y="1277.6" font-size="18.5" font-weight="bold">WD-DSS</text>
<circle cx="834.9" cy="1298.8" r="2" fill="#4BAE8D"/>
<text x="870.7" y="1305.6" font-size="18.5" font-weight="bold">WD-AR113</text>
<circle cx="834.9" cy="1325.6" r="2" fill="#35568C"/>
<text x="870.7" y="1331.7" font-size="18.5" font-weight="bold" stroke="#000" stroke-width="0.5">WDΔbsh1</text>
</g>
<g id="pH">
<text x="1083.5" y="1190.3" font-size="38">(H)</text>
<text x="1612.5" y="1208.8" font-size="25" font-weight="bold" text-anchor="middle" textLength="69" lengthAdjust="spacingAndGlyphs">Genus</text>
<line x1="1187.4" y1="1549.43" x2="1187.4" y2="1544.58" stroke="#F0957F" stroke-width="1.5"/>
<line x1="1183.1" y1="1544.58" x2="1191.7" y2="1544.58" stroke="#F0957F" stroke-width="1.5"/>
<line x1="1183.1" y1="1549.43" x2="1191.7" y2="1549.43" stroke="#F0957F" stroke-width="1.5"/>
<line x1="1180.15" y1="1552.2" x2="1180.15" y2="1546.38" stroke="#F0957F" stroke-width="3"/>
<line x1="1194.65" y1="1552.2" x2="1194.65" y2="1546.38" stroke="#F0957F" stroke-width="3"/>
<line x1="1178.65" y1="1547.88" x2="1196.15" y2="1547.88" stroke="#F0957F" stroke-width="3"/>
<line x1="1208.4" y1="1379.76" x2="1208.4" y2="1343.9" stroke="#8497B8" stroke-width="1.5"/>
<line x1="1208.4" y1="1319" x2="1208.4" y2="1312.21" stroke="#8497B8" stroke-width="1.5"/>
<line x1="1204.1" y1="1312.21" x2="1212.7" y2="1312.21" stroke="#8497B8" stroke-width="1.5"/>
<line x1="1201.15" y1="1552.2" x2="1201.15" y2="1460.5" stroke="#8497B8" stroke-width="3"/>
<line x1="1215.65" y1="1552.2" x2="1215.65" y2="1460.5" stroke="#8497B8" stroke-width="3"/>
<line x1="1201.15" y1="1435.9" x2="1201.15" y2="1379.76" stroke="#8497B8" stroke-width="3"/>
<line x1="1215.65" y1="1435.9" x2="1215.65" y2="1379.76" stroke="#8497B8" stroke-width="3"/>
<line x1="1199.65" y1="1381.26" x2="1217.15" y2="1381.26" stroke="#8497B8" stroke-width="3"/>
<line x1="1229.4" y1="1517.54" x2="1229.4" y2="1488.29" stroke="#88E5C9" stroke-width="1.5"/>
<line x1="1225.1" y1="1488.29" x2="1233.7" y2="1488.29" stroke="#88E5C9" stroke-width="1.5"/>
<line x1="1222.15" y1="1552.2" x2="1222.15" y2="1517.54" stroke="#88E5C9" stroke-width="3"/>
<line x1="1236.65" y1="1552.2" x2="1236.65" y2="1517.54" stroke="#88E5C9" stroke-width="3"/>
<line x1="1220.65" y1="1519.04" x2="1238.15" y2="1519.04" stroke="#88E5C9" stroke-width="3"/>
<line x1="1250.2" y1="1423.9" x2="1250.2" y2="1373.69" stroke="#FF1E0F" stroke-width="1.5"/>
<line x1="1245.9" y1="1373.69" x2="1254.5" y2="1373.69" stroke="#FF1E0F" stroke-width="1.5"/>
<line x1="1242.95" y1="1552.2" x2="1242.95" y2="1460.5" stroke="#FF1E0F" stroke-width="3"/>
<line x1="1257.45" y1="1552.2" x2="1257.45" y2="1460.5" stroke="#FF1E0F" stroke-width="3"/>
<line x1="1242.95" y1="1435.9" x2="1242.95" y2="1423.9" stroke="#FF1E0F" stroke-width="3"/>
<line x1="1257.45" y1="1435.9" x2="1257.45" y2="1423.9" stroke="#FF1E0F" stroke-width="3"/>
<line x1="1241.45" y1="1425.4" x2="1258.95" y2="1425.4" stroke="#FF1E0F" stroke-width="3"/>
<line x1="1281.8" y1="1550.12" x2="1281.8" y2="1541.46" stroke="#F0957F" stroke-width="1.5"/>
<line x1="1277.5" y1="1541.46" x2="1286.1" y2="1541.46" stroke="#F0957F" stroke-width="1.5"/>
<line x1="1277.5" y1="1550.12" x2="1286.1" y2="1550.12" stroke="#F0957F" stroke-width="1.5"/>
<line x1="1274.55" y1="1552.2" x2="1274.55" y2="1546.38" stroke="#F0957F" stroke-width="3"/>
<line x1="1289.05" y1="1552.2" x2="1289.05" y2="1546.38" stroke="#F0957F" stroke-width="3"/>
<line x1="1273.05" y1="1547.88" x2="1290.55" y2="1547.88" stroke="#F0957F" stroke-width="3"/>
<line x1="1302.8" y1="1388.8" x2="1302.8" y2="1343.9" stroke="#8497B8" stroke-width="1.5"/>
<line x1="1302.8" y1="1319" x2="1302.8" y2="1289.11" stroke="#8497B8" stroke-width="1.5"/>
<line x1="1298.5" y1="1289.11" x2="1307.1" y2="1289.11" stroke="#8497B8" stroke-width="1.5"/>
<line x1="1295.55" y1="1552.2" x2="1295.55" y2="1460.5" stroke="#8497B8" stroke-width="3"/>
<line x1="1310.05" y1="1552.2" x2="1310.05" y2="1460.5" stroke="#8497B8" stroke-width="3"/>
<line x1="1295.55" y1="1435.9" x2="1295.55" y2="1388.8" stroke="#8497B8" stroke-width="3"/>
<line x1="1310.05" y1="1435.9" x2="1310.05" y2="1388.8" stroke="#8497B8" stroke-width="3"/>
<line x1="1294.05" y1="1390.3" x2="1311.55" y2="1390.3" stroke="#8497B8" stroke-width="3"/>
<line x1="1323.8" y1="1499.52" x2="1323.8" y2="1460.5" stroke="#88E5C9" stroke-width="1.5"/>
<line x1="1323.8" y1="1435.9" x2="1323.8" y2="1418.18" stroke="#88E5C9" stroke-width="1.5"/>
<line x1="1319.5" y1="1418.18" x2="1328.1" y2="1418.18" stroke="#88E5C9" stroke-width="1.5"/>
<line x1="1316.55" y1="1552.2" x2="1316.55" y2="1499.52" stroke="#88E5C9" stroke-width="3"/>
<line x1="1331.05" y1="1552.2" x2="1331.05" y2="1499.52" stroke="#88E5C9" stroke-width="3"/>
<line x1="1315.05" y1="1501.02" x2="1332.55" y2="1501.02" stroke="#88E5C9" stroke-width="3"/>
<line x1="1344.6" y1="1478.73" x2="1344.6" y2="1460.5" stroke="#FF1E0F" stroke-width="1.5"/>
<line x1="1344.6" y1="1435.9" x2="1344.6" y2="1396.31" stroke="#FF1E0F" stroke-width="1.5"/>
<line x1="1340.3" y1="1396.31" x2="1348.9" y2="1396.31" stroke="#FF1E0F" stroke-width="1.5"/>
<line x1="1337.35" y1="1552.2" x2="1337.35" y2="1478.73" stroke="#FF1E0F" stroke-width="3"/>
<line x1="1351.85" y1="1552.2" x2="1351.85" y2="1478.73" stroke="#FF1E0F" stroke-width="3"/>
<line x1="1335.85" y1="1480.23" x2="1353.35" y2="1480.23" stroke="#FF1E0F" stroke-width="3"/>
<line x1="1397.2" y1="1529.33" x2="1397.2" y2="1516.37" stroke="#8497B8" stroke-width="1.5"/>
<line x1="1392.9" y1="1516.37" x2="1401.5" y2="1516.37" stroke="#8497B8" stroke-width="1.5"/>
<line x1="1389.95" y1="1552.2" x2="1389.95" y2="1529.33" stroke="#8497B8" stroke-width="3"/>
<line x1="1404.45" y1="1552.2" x2="1404.45" y2="1529.33" stroke="#8497B8" stroke-width="3"/>
<line x1="1388.45" y1="1530.83" x2="1405.95" y2="1530.83" stroke="#8497B8" stroke-width="3"/>
<line x1="1418.2" y1="1551.51" x2="1418.2" y2="1542.7" stroke="#88E5C9" stroke-width="1.5"/>
<line x1="1413.9" y1="1542.7" x2="1422.5" y2="1542.7" stroke="#88E5C9" stroke-width="1.5"/>
<line x1="1413.9" y1="1551.51" x2="1422.5" y2="1551.51" stroke="#88E5C9" stroke-width="1.5"/>
<line x1="1410.95" y1="1552.2" x2="1410.95" y2="1547.56" stroke="#88E5C9" stroke-width="3"/>
<line x1="1425.45" y1="1552.2" x2="1425.45" y2="1547.56" stroke="#88E5C9" stroke-width="3"/>
<line x1="1409.45" y1="1549.06" x2="1426.95" y2="1549.06" stroke="#88E5C9" stroke-width="3"/>
<line x1="1439" y1="1474.36" x2="1439" y2="1460.5" stroke="#FF1E0F" stroke-width="1.5"/>
<line x1="1439" y1="1435.9" x2="1439" y2="1405.76" stroke="#FF1E0F" stroke-width="1.5"/>
<line x1="1434.7" y1="1405.76" x2="1443.3" y2="1405.76" stroke="#FF1E0F" stroke-width="1.5"/>
<line x1="1431.75" y1="1552.2" x2="1431.75" y2="1474.36" stroke="#FF1E0F" stroke-width="3"/>
<line x1="1446.25" y1="1552.2" x2="1446.25" y2="1474.36" stroke="#FF1E0F" stroke-width="3"/>
<line x1="1430.25" y1="1475.86" x2="1447.75" y2="1475.86" stroke="#FF1E0F" stroke-width="3"/>
<line x1="1470.6" y1="1551.51" x2="1470.6" y2="1549.43" stroke="#F0957F" stroke-width="1.5"/>
<line x1="1466.3" y1="1549.43" x2="1474.9" y2="1549.43" stroke="#F0957F" stroke-width="1.5"/>
<line x1="1466.3" y1="1551.51" x2="1474.9" y2="1551.51" stroke="#F0957F" stroke-width="1.5"/>
<line x1="1491.6" y1="1521.22" x2="1491.6" y2="1505.34" stroke="#8497B8" stroke-width="1.5"/>
<line x1="1487.3" y1="1505.34" x2="1495.9" y2="1505.34" stroke="#8497B8" stroke-width="1.5"/>
<line x1="1484.35" y1="1552.2" x2="1484.35" y2="1521.22" stroke="#8497B8" stroke-width="3"/>
<line x1="1498.85" y1="1552.2" x2="1498.85" y2="1521.22" stroke="#8497B8" stroke-width="3"/>
<line x1="1482.85" y1="1522.72" x2="1500.35" y2="1522.72" stroke="#8497B8" stroke-width="3"/>
<line x1="1512.6" y1="1545.27" x2="1512.6" y2="1543.19" stroke="#88E5C9" stroke-width="1.5"/>
<line x1="1508.3" y1="1543.19" x2="1516.9" y2="1543.19" stroke="#88E5C9" stroke-width="1.5"/>
<line x1="1508.3" y1="1545.27" x2="1516.9" y2="1545.27" stroke="#88E5C9" stroke-width="1.5"/>
<line x1="1505.35" y1="1552.2" x2="1505.35" y2="1543.88" stroke="#88E5C9" stroke-width="3"/>
<line x1="1519.85" y1="1552.2" x2="1519.85" y2="1543.88" stroke="#88E5C9" stroke-width="3"/>
<line x1="1503.85" y1="1545.38" x2="1521.35" y2="1545.38" stroke="#88E5C9" stroke-width="3"/>
<line x1="1533.4" y1="1513.87" x2="1533.4" y2="1482.4" stroke="#FF1E0F" stroke-width="1.5"/>
<line x1="1529.1" y1="1482.4" x2="1537.7" y2="1482.4" stroke="#FF1E0F" stroke-width="1.5"/>
<line x1="1526.15" y1="1552.2" x2="1526.15" y2="1513.87" stroke="#FF1E0F" stroke-width="3"/>
<line x1="1540.65" y1="1552.2" x2="1540.65" y2="1513.87" stroke="#FF1E0F" stroke-width="3"/>
<line x1="1524.65" y1="1515.37" x2="1542.15" y2="1515.37" stroke="#FF1E0F" stroke-width="3"/>
<line x1="1565" y1="1492.66" x2="1565" y2="1465.84" stroke="#F0957F" stroke-width="1.5"/>
<line x1="1560.7" y1="1465.84" x2="1569.3" y2="1465.84" stroke="#F0957F" stroke-width="1.5"/>
<line x1="1557.75" y1="1552.2" x2="1557.75" y2="1492.66" stroke="#F0957F" stroke-width="3"/>
<line x1="1572.25" y1="1552.2" x2="1572.25" y2="1492.66" stroke="#F0957F" stroke-width="3"/>
<line x1="1556.25" y1="1494.16" x2="1573.75" y2="1494.16" stroke="#F0957F" stroke-width="3"/>
<line x1="1607" y1="1539.52" x2="1607" y2="1525.58" stroke="#88E5C9" stroke-width="1.5"/>
<line x1="1602.7" y1="1525.58" x2="1611.3" y2="1525.58" stroke="#88E5C9" stroke-width="1.5"/>
<line x1="1599.75" y1="1552.2" x2="1599.75" y2="1539.52" stroke="#88E5C9" stroke-width="3"/>
<line x1="1614.25" y1="1552.2" x2="1614.25" y2="1539.52" stroke="#88E5C9" stroke-width="3"/>
<line x1="1598.25" y1="1541.02" x2="1615.75" y2="1541.02" stroke="#88E5C9" stroke-width="3"/>
<line x1="1627.8" y1="1551.51" x2="1627.8" y2="1548.73" stroke="#FF1E0F" stroke-width="1.5"/>
<line x1="1623.5" y1="1548.73" x2="1632.1" y2="1548.73" stroke="#FF1E0F" stroke-width="1.5"/>
<line x1="1623.5" y1="1551.51" x2="1632.1" y2="1551.51" stroke="#FF1E0F" stroke-width="1.5"/>
<line x1="1659.4" y1="1522.67" x2="1659.4" y2="1476.3" stroke="#F0957F" stroke-width="1.5"/>
<line x1="1655.1" y1="1476.3" x2="1663.7" y2="1476.3" stroke="#F0957F" stroke-width="1.5"/>
<line x1="1652.15" y1="1552.2" x2="1652.15" y2="1522.67" stroke="#F0957F" stroke-width="3"/>
<line x1="1666.65" y1="1552.2" x2="1666.65" y2="1522.67" stroke="#F0957F" stroke-width="3"/>
<line x1="1650.65" y1="1524.17" x2="1668.15" y2="1524.17" stroke="#F0957F" stroke-width="3"/>
<line x1="1680.4" y1="1551.85" x2="1680.4" y2="1549.77" stroke="#8497B8" stroke-width="1.5"/>
<line x1="1676.1" y1="1549.77" x2="1684.7" y2="1549.77" stroke="#8497B8" stroke-width="1.5"/>
<line x1="1676.1" y1="1551.85" x2="1684.7" y2="1551.85" stroke="#8497B8" stroke-width="1.5"/>
<line x1="1701.4" y1="1534.18" x2="1701.4" y2="1509.02" stroke="#88E5C9" stroke-width="1.5"/>
<line x1="1697.1" y1="1509.02" x2="1705.7" y2="1509.02" stroke="#88E5C9" stroke-width="1.5"/>
<line x1="1694.15" y1="1552.2" x2="1694.15" y2="1534.18" stroke="#88E5C9" stroke-width="3"/>
<line x1="1708.65" y1="1552.2" x2="1708.65" y2="1534.18" stroke="#88E5C9" stroke-width="3"/>
<line x1="1692.65" y1="1535.68" x2="1710.15" y2="1535.68" stroke="#88E5C9" stroke-width="3"/>
<line x1="1722.2" y1="1551.51" x2="1722.2" y2="1543.4" stroke="#FF1E0F" stroke-width="1.5"/>
<line x1="1717.9" y1="1543.4" x2="1726.5" y2="1543.4" stroke="#FF1E0F" stroke-width="1.5"/>
<line x1="1717.9" y1="1551.51" x2="1726.5" y2="1551.51" stroke="#FF1E0F" stroke-width="1.5"/>
<line x1="1753.8" y1="1551.85" x2="1753.8" y2="1546.38" stroke="#F0957F" stroke-width="1.5"/>
<line x1="1749.5" y1="1546.38" x2="1758.1" y2="1546.38" stroke="#F0957F" stroke-width="1.5"/>
<line x1="1749.5" y1="1551.85" x2="1758.1" y2="1551.85" stroke="#F0957F" stroke-width="1.5"/>
<line x1="1774.8" y1="1551.16" x2="1774.8" y2="1547.35" stroke="#8497B8" stroke-width="1.5"/>
<line x1="1770.5" y1="1547.35" x2="1779.1" y2="1547.35" stroke="#8497B8" stroke-width="1.5"/>
<line x1="1770.5" y1="1551.16" x2="1779.1" y2="1551.16" stroke="#8497B8" stroke-width="1.5"/>
<line x1="1795.8" y1="1541.94" x2="1795.8" y2="1531.68" stroke="#88E5C9" stroke-width="1.5"/>
<line x1="1791.5" y1="1531.68" x2="1800.1" y2="1531.68" stroke="#88E5C9" stroke-width="1.5"/>
<line x1="1788.55" y1="1552.2" x2="1788.55" y2="1541.94" stroke="#88E5C9" stroke-width="3"/>
<line x1="1803.05" y1="1552.2" x2="1803.05" y2="1541.94" stroke="#88E5C9" stroke-width="3"/>
<line x1="1787.05" y1="1543.44" x2="1804.55" y2="1543.44" stroke="#88E5C9" stroke-width="3"/>
<line x1="1816.6" y1="1550.81" x2="1816.6" y2="1547" stroke="#FF1E0F" stroke-width="1.5"/>
<line x1="1812.3" y1="1547" x2="1820.9" y2="1547" stroke="#FF1E0F" stroke-width="1.5"/>
<line x1="1812.3" y1="1550.81" x2="1820.9" y2="1550.81" stroke="#FF1E0F" stroke-width="1.5"/>
<line x1="1848.2" y1="1551.85" x2="1848.2" y2="1550.81" stroke="#F0957F" stroke-width="1.5"/>
<line x1="1843.9" y1="1550.81" x2="1852.5" y2="1550.81" stroke="#F0957F" stroke-width="1.5"/>
<line x1="1843.9" y1="1551.85" x2="1852.5" y2="1551.85" stroke="#F0957F" stroke-width="1.5"/>
<line x1="1869.2" y1="1543.4" x2="1869.2" y2="1534.18" stroke="#8497B8" stroke-width="1.5"/>
<line x1="1864.9" y1="1534.18" x2="1873.5" y2="1534.18" stroke="#8497B8" stroke-width="1.5"/>
<line x1="1861.95" y1="1552.2" x2="1861.95" y2="1543.4" stroke="#8497B8" stroke-width="3"/>
<line x1="1876.45" y1="1552.2" x2="1876.45" y2="1543.4" stroke="#8497B8" stroke-width="3"/>
<line x1="1860.45" y1="1544.9" x2="1877.95" y2="1544.9" stroke="#8497B8" stroke-width="3"/>
<line x1="1890.2" y1="1542.7" x2="1890.2" y2="1529.33" stroke="#88E5C9" stroke-width="1.5"/>
<line x1="1885.9" y1="1529.33" x2="1894.5" y2="1529.33" stroke="#88E5C9" stroke-width="1.5"/>
<line x1="1882.95" y1="1552.2" x2="1882.95" y2="1542.7" stroke="#88E5C9" stroke-width="3"/>
<line x1="1897.45" y1="1552.2" x2="1897.45" y2="1542.7" stroke="#88E5C9" stroke-width="3"/>
<line x1="1881.45" y1="1544.2" x2="1898.95" y2="1544.2" stroke="#88E5C9" stroke-width="3"/>
<line x1="1911" y1="1538.34" x2="1911" y2="1516.57" stroke="#FF1E0F" stroke-width="1.5"/>
<line x1="1906.7" y1="1516.57" x2="1915.3" y2="1516.57" stroke="#FF1E0F" stroke-width="1.5"/>
<line x1="1903.75" y1="1552.2" x2="1903.75" y2="1538.34" stroke="#FF1E0F" stroke-width="3"/>
<line x1="1918.25" y1="1552.2" x2="1918.25" y2="1538.34" stroke="#FF1E0F" stroke-width="3"/>
<line x1="1902.25" y1="1539.84" x2="1919.75" y2="1539.84" stroke="#FF1E0F" stroke-width="3"/>
<line x1="1942.6" y1="1550.81" x2="1942.6" y2="1523.64" stroke="#F0957F" stroke-width="1.5"/>
<line x1="1938.3" y1="1523.64" x2="1946.9" y2="1523.64" stroke="#F0957F" stroke-width="1.5"/>
<line x1="1938.3" y1="1550.81" x2="1946.9" y2="1550.81" stroke="#F0957F" stroke-width="1.5"/>
<line x1="1935.35" y1="1552.2" x2="1935.35" y2="1537.09" stroke="#F0957F" stroke-width="3"/>
<line x1="1949.85" y1="1552.2" x2="1949.85" y2="1537.09" stroke="#F0957F" stroke-width="3"/>
<line x1="1933.85" y1="1538.59" x2="1951.35" y2="1538.59" stroke="#F0957F" stroke-width="3"/>
<line x1="1984.6" y1="1495.85" x2="1984.6" y2="1460.5" stroke="#88E5C9" stroke-width="1.5"/>
<line x1="1984.6" y1="1435.9" x2="1984.6" y2="1378.87" stroke="#88E5C9" stroke-width="1.5"/>
<line x1="1980.3" y1="1378.87" x2="1988.9" y2="1378.87" stroke="#88E5C9" stroke-width="1.5"/>
<line x1="1977.35" y1="1552.2" x2="1977.35" y2="1495.85" stroke="#88E5C9" stroke-width="3"/>
<line x1="1991.85" y1="1552.2" x2="1991.85" y2="1495.85" stroke="#88E5C9" stroke-width="3"/>
<line x1="1975.85" y1="1497.35" x2="1993.35" y2="1497.35" stroke="#88E5C9" stroke-width="3"/>
<line x1="1156.5" y1="1226.8" x2="2025.8" y2="1226.8" stroke="#000" stroke-width="3"/>
<line x1="2024.3" y1="1226.8" x2="2024.3" y2="1553.7" stroke="#000" stroke-width="3"/>
<line x1="1156.5" y1="1552.2" x2="2025.8" y2="1552.2" stroke="#000" stroke-width="3"/>
<line x1="1170" y1="1459" x2="1170" y2="1552.2" stroke="#000" stroke-width="3"/>
<line x1="1170" y1="1342.4" x2="1170" y2="1437.4" stroke="#000" stroke-width="3"/>
<line x1="1170" y1="1226.8" x2="1170" y2="1320.5" stroke="#000" stroke-width="3"/>
<line x1="1162.2" y1="1319" x2="1177.3" y2="1319" stroke="#000" stroke-width="3"/>
<line x1="1162.2" y1="1343.9" x2="1177.3" y2="1343.9" stroke="#000" stroke-width="3"/>
<line x1="1162.2" y1="1435.9" x2="1177.3" y2="1435.9" stroke="#000" stroke-width="3"/>
<line x1="1162.2" y1="1460.5" x2="1177.3" y2="1460.5" stroke="#000" stroke-width="3"/>
<line x1="1156.5" y1="1552.2" x2="1170" y2="1552.2" stroke="#000" stroke-width="3"/>
<text x="1152.5" y="1558.5" font-size="18.5" font-weight="bold" text-anchor="end">0</text>
<line x1="1156.5" y1="1517.54" x2="1170" y2="1517.54" stroke="#000" stroke-width="3"/>
<text x="1152.5" y="1523.84" font-size="18.5" font-weight="bold" text-anchor="end">5</text>
<line x1="1156.5" y1="1482.89" x2="1170" y2="1482.89" stroke="#000" stroke-width="3"/>
<text x="1152.5" y="1489.19" font-size="18.5" font-weight="bold" text-anchor="end">10</text>
<line x1="1156.5" y1="1424.38" x2="1170" y2="1424.38" stroke="#000" stroke-width="3"/>
<text x="1152.5" y="1430.68" font-size="18.5" font-weight="bold" text-anchor="end">15</text>
<line x1="1156.5" y1="1389.9" x2="1170" y2="1389.9" stroke="#000" stroke-width="3"/>
<text x="1152.5" y="1396.2" font-size="18.5" font-weight="bold" text-anchor="end">20</text>
<line x1="1156.5" y1="1355.42" x2="1170" y2="1355.42" stroke="#000" stroke-width="3"/>
<text x="1152.5" y="1361.72" font-size="18.5" font-weight="bold" text-anchor="end">25</text>
<line x1="1156.5" y1="1296.81" x2="1170" y2="1296.81" stroke="#000" stroke-width="3"/>
<text x="1152.5" y="1303.11" font-size="18.5" font-weight="bold" text-anchor="end">30</text>
<line x1="1156.5" y1="1261.8" x2="1170" y2="1261.8" stroke="#000" stroke-width="3"/>
<text x="1152.5" y="1268.1" font-size="18.5" font-weight="bold" text-anchor="end">35</text>
<line x1="1156.5" y1="1226.8" x2="1170" y2="1226.8" stroke="#000" stroke-width="3"/>
<text x="1152.5" y="1233.1" font-size="18.5" font-weight="bold" text-anchor="end">40</text>
<line x1="1218.7" y1="1552.2" x2="1218.7" y2="1566" stroke="#000" stroke-width="3"/>
<line x1="1313.1" y1="1552.2" x2="1313.1" y2="1566" stroke="#000" stroke-width="3"/>
<line x1="1407.5" y1="1552.2" x2="1407.5" y2="1566" stroke="#000" stroke-width="3"/>
<line x1="1501.9" y1="1552.2" x2="1501.9" y2="1566" stroke="#000" stroke-width="3"/>
<line x1="1596.3" y1="1552.2" x2="1596.3" y2="1566" stroke="#000" stroke-width="3"/>
<line x1="1690.7" y1="1552.2" x2="1690.7" y2="1566" stroke="#000" stroke-width="3"/>
<line x1="1785.1" y1="1552.2" x2="1785.1" y2="1566" stroke="#000" stroke-width="3"/>
<line x1="1879.5" y1="1552.2" x2="1879.5" y2="1566" stroke="#000" stroke-width="3"/>
<line x1="1973.9" y1="1552.2" x2="1973.9" y2="1566" stroke="#000" stroke-width="3"/>
<circle cx="1187.4" cy="1543.88" r="2" fill="#F0957F"/>
<circle cx="1182.4" cy="1546.66" r="2" fill="#F0957F"/>
<circle cx="1192.4" cy="1548.04" r="2" fill="#F0957F"/>
<circle cx="1184.4" cy="1550.81" r="2" fill="#F0957F"/>
<circle cx="1190.4" cy="1550.12" r="2" fill="#F0957F"/>
<circle cx="1206.4" cy="1312.21" r="2" fill="#8497B8"/>
<circle cx="1210.9" cy="1312.21" r="2" fill="#8497B8"/>
<circle cx="1208.4" cy="1371.28" r="2" fill="#8497B8"/>
<circle cx="1208.4" cy="1376.8" r="2" fill="#8497B8"/>
<circle cx="1208.4" cy="1401.62" r="2" fill="#8497B8"/>
<circle cx="1208.4" cy="1473.88" r="2" fill="#8497B8"/>
<circle cx="1229.4" cy="1496.06" r="2" fill="#88E5C9"/>
<circle cx="1226.4" cy="1531.68" r="2" fill="#88E5C9"/>
<circle cx="1232.4" cy="1534.18" r="2" fill="#88E5C9"/>
<circle cx="1229.4" cy="1545.62" r="2" fill="#88E5C9"/>
<circle cx="1250.2" cy="1354.04" r="2" fill="#FF1E0F"/>
<circle cx="1250.2" cy="1407.83" r="2" fill="#FF1E0F"/>
<circle cx="1250.2" cy="1411.28" r="2" fill="#FF1E0F"/>
<circle cx="1250.2" cy="1490.72" r="2" fill="#FF1E0F"/>
<circle cx="1250.2" cy="1501.6" r="2" fill="#FF1E0F"/>
<circle cx="1284.8" cy="1539.72" r="2" fill="#F0957F"/>
<circle cx="1278.8" cy="1546.66" r="2" fill="#F0957F"/>
<circle cx="1285.8" cy="1548.73" r="2" fill="#F0957F"/>
<circle cx="1281.8" cy="1551.51" r="2" fill="#F0957F"/>
<circle cx="1302.8" cy="1377.49" r="2" fill="#8497B8"/>
<circle cx="1302.8" cy="1381.62" r="2" fill="#8497B8"/>
<circle cx="1302.8" cy="1425.76" r="2" fill="#8497B8"/>
<circle cx="1305.8" cy="1469.72" r="2" fill="#8497B8"/>
<circle cx="1299.8" cy="1471.1" r="2" fill="#8497B8"/>
<circle cx="1323.8" cy="1380.24" r="2" fill="#88E5C9"/>
<circle cx="1323.8" cy="1494.67" r="2" fill="#88E5C9"/>
<circle cx="1323.8" cy="1520.32" r="2" fill="#88E5C9"/>
<circle cx="1323.8" cy="1526.55" r="2" fill="#88E5C9"/>
<circle cx="1323.8" cy="1547.07" r="2" fill="#88E5C9"/>
<circle cx="1344.6" cy="1357.49" r="2" fill="#FF1E0F"/>
<circle cx="1344.6" cy="1490.51" r="2" fill="#FF1E0F"/>
<circle cx="1344.6" cy="1509.92" r="2" fill="#FF1E0F"/>
<circle cx="1344.6" cy="1530.99" r="2" fill="#FF1E0F"/>
<circle cx="1368.6" cy="1552.2" r="1.45" fill="#F0957F"/>
<circle cx="1372.4" cy="1552.2" r="1.45" fill="#F0957F"/>
<circle cx="1376.2" cy="1552.2" r="1.45" fill="#F0957F"/>
<circle cx="1380" cy="1552.2" r="1.45" fill="#F0957F"/>
<circle cx="1383.8" cy="1552.2" r="1.45" fill="#F0957F"/>
<circle cx="1397.2" cy="1509.92" r="2" fill="#8497B8"/>
<circle cx="1394.2" cy="1523.78" r="2" fill="#8497B8"/>
<circle cx="1400.2" cy="1525.17" r="2" fill="#8497B8"/>
<circle cx="1400.2" cy="1534.87" r="2" fill="#8497B8"/>
<circle cx="1397.2" cy="1545.62" r="2" fill="#8497B8"/>
<circle cx="1418.2" cy="1539.72" r="2" fill="#88E5C9"/>
<circle cx="1414.2" cy="1548.73" r="2" fill="#88E5C9"/>
<circle cx="1422.2" cy="1550.12" r="2" fill="#88E5C9"/>
<circle cx="1439" cy="1401.62" r="2" fill="#FF1E0F"/>
<circle cx="1439" cy="1485.66" r="2" fill="#FF1E0F"/>
<circle cx="1439" cy="1501.95" r="2" fill="#FF1E0F"/>
<circle cx="1439" cy="1525.17" r="2" fill="#FF1E0F"/>
<circle cx="1464.6" cy="1549.43" r="2" fill="#F0957F"/>
<circle cx="1468.6" cy="1549.43" r="2" fill="#F0957F"/>
<circle cx="1472.6" cy="1550.12" r="2" fill="#F0957F"/>
<circle cx="1476.6" cy="1550.81" r="2" fill="#F0957F"/>
<circle cx="1491.6" cy="1503.68" r="2" fill="#8497B8"/>
<circle cx="1491.6" cy="1509.92" r="2" fill="#8497B8"/>
<circle cx="1487.6" cy="1516.16" r="2" fill="#8497B8"/>
<circle cx="1494.6" cy="1518.24" r="2" fill="#8497B8"/>
<circle cx="1491.6" cy="1527.25" r="2" fill="#8497B8"/>
<circle cx="1491.6" cy="1546.31" r="2" fill="#8497B8"/>
<circle cx="1506.6" cy="1543.88" r="2" fill="#88E5C9"/>
<circle cx="1510.6" cy="1544.58" r="2" fill="#88E5C9"/>
<circle cx="1514.6" cy="1544.58" r="2" fill="#88E5C9"/>
<circle cx="1518.6" cy="1543.88" r="2" fill="#88E5C9"/>
<circle cx="1533.4" cy="1471.1" r="2" fill="#FF1E0F"/>
<circle cx="1533.4" cy="1496.33" r="2" fill="#FF1E0F"/>
<circle cx="1533.4" cy="1514.77" r="2" fill="#FF1E0F"/>
<circle cx="1533.4" cy="1536.6" r="2" fill="#FF1E0F"/>
<circle cx="1533.4" cy="1545.96" r="2" fill="#FF1E0F"/>
<circle cx="1565" cy="1476.65" r="2" fill="#F0957F"/>
<circle cx="1565" cy="1487.74" r="2" fill="#F0957F"/>
<circle cx="1565" cy="1496.06" r="2" fill="#F0957F"/>
<circle cx="1565" cy="1534.87" r="2" fill="#F0957F"/>
<circle cx="1578.4" cy="1552.2" r="1.45" fill="#8497B8"/>
<circle cx="1582.2" cy="1552.2" r="1.45" fill="#8497B8"/>
<circle cx="1586" cy="1552.2" r="1.45" fill="#8497B8"/>
<circle cx="1589.8" cy="1552.2" r="1.45" fill="#8497B8"/>
<circle cx="1593.6" cy="1552.2" r="1.45" fill="#8497B8"/>
<circle cx="1610" cy="1539.03" r="2" fill="#88E5C9"/>
<circle cx="1607" cy="1545.27" r="2" fill="#88E5C9"/>
<circle cx="1607" cy="1551.16" r="2" fill="#88E5C9"/>
<circle cx="1623.8" cy="1548.73" r="2" fill="#FF1E0F"/>
<circle cx="1627.8" cy="1549.43" r="2" fill="#FF1E0F"/>
<circle cx="1633.8" cy="1550.81" r="2" fill="#FF1E0F"/>
<circle cx="1659.4" cy="1418.87" r="2" fill="#F0957F"/>
<circle cx="1659.4" cy="1523.78" r="2" fill="#F0957F"/>
<circle cx="1656.4" cy="1542.5" r="2" fill="#F0957F"/>
<circle cx="1663.4" cy="1544.58" r="2" fill="#F0957F"/>
<circle cx="1659.4" cy="1551.16" r="2" fill="#F0957F"/>
<circle cx="1675.4" cy="1549.77" r="2" fill="#8497B8"/>
<circle cx="1680.4" cy="1550.12" r="2" fill="#8497B8"/>
<circle cx="1685.4" cy="1550.81" r="2" fill="#8497B8"/>
<circle cx="1701.4" cy="1490.51" r="2" fill="#88E5C9"/>
<circle cx="1701.4" cy="1537.64" r="2" fill="#88E5C9"/>
<circle cx="1698.4" cy="1542.5" r="2" fill="#88E5C9"/>
<circle cx="1704.4" cy="1543.88" r="2" fill="#88E5C9"/>
<circle cx="1701.4" cy="1551.51" r="2" fill="#88E5C9"/>
<circle cx="1722.2" cy="1539.72" r="2" fill="#FF1E0F"/>
<circle cx="1717.2" cy="1548.73" r="2" fill="#FF1E0F"/>
<circle cx="1727.2" cy="1549.43" r="2" fill="#FF1E0F"/>
<circle cx="1722.2" cy="1551.51" r="2" fill="#FF1E0F"/>
<circle cx="1753.8" cy="1544.58" r="2" fill="#F0957F"/>
<circle cx="1747.8" cy="1550.12" r="2" fill="#F0957F"/>
<circle cx="1756.8" cy="1551.51" r="2" fill="#F0957F"/>
<circle cx="1777.8" cy="1545.62" r="2" fill="#8497B8"/>
<circle cx="1772.8" cy="1547.35" r="2" fill="#8497B8"/>
<circle cx="1768.8" cy="1550.12" r="2" fill="#8497B8"/>
<circle cx="1780.8" cy="1551.16" r="2" fill="#8497B8"/>
<circle cx="1792.8" cy="1531.41" r="2" fill="#88E5C9"/>
<circle cx="1798.8" cy="1531.41" r="2" fill="#88E5C9"/>
<circle cx="1795.8" cy="1539.03" r="2" fill="#88E5C9"/>
<circle cx="1795.8" cy="1547.35" r="2" fill="#88E5C9"/>
<circle cx="1795.8" cy="1551.16" r="2" fill="#88E5C9"/>
<circle cx="1822.6" cy="1545.96" r="2" fill="#FF1E0F"/>
<circle cx="1816.6" cy="1548.73" r="2" fill="#FF1E0F"/>
<circle cx="1810.6" cy="1550.47" r="2" fill="#FF1E0F"/>
<circle cx="1821.6" cy="1551.51" r="2" fill="#FF1E0F"/>
<circle cx="1842.2" cy="1550.81" r="2" fill="#F0957F"/>
<circle cx="1846.2" cy="1551.16" r="2" fill="#F0957F"/>
<circle cx="1850.2" cy="1551.16" r="2" fill="#F0957F"/>
<circle cx="1854.2" cy="1551.51" r="2" fill="#F0957F"/>
<circle cx="1869.2" cy="1527.94" r="2" fill="#8497B8"/>
<circle cx="1872.2" cy="1540.42" r="2" fill="#8497B8"/>
<circle cx="1866.2" cy="1543.88" r="2" fill="#8497B8"/>
<circle cx="1873.2" cy="1548.73" r="2" fill="#8497B8"/>
<circle cx="1869.2" cy="1551.16" r="2" fill="#8497B8"/>
<circle cx="1890.2" cy="1522.67" r="2" fill="#88E5C9"/>
<circle cx="1890.2" cy="1543.88" r="2" fill="#88E5C9"/>
<circle cx="1887.2" cy="1550.12" r="2" fill="#88E5C9"/>
<circle cx="1894.2" cy="1551.51" r="2" fill="#88E5C9"/>
<circle cx="1911" cy="1501.19" r="2" fill="#FF1E0F"/>
<circle cx="1911" cy="1541.46" r="2" fill="#FF1E0F"/>
<circle cx="1911" cy="1548.39" r="2" fill="#FF1E0F"/>
<circle cx="1942.6" cy="1517.06" r="2" fill="#F0957F"/>
<circle cx="1942.6" cy="1531.68" r="2" fill="#F0957F"/>
<circle cx="1942.6" cy="1540.42" r="2" fill="#F0957F"/>
<circle cx="1942.6" cy="1543.88" r="2" fill="#F0957F"/>
<circle cx="1942.6" cy="1547.69" r="2" fill="#F0957F"/>
<circle cx="1956" cy="1552.2" r="1.45" fill="#8497B8"/>
<circle cx="1959.8" cy="1552.2" r="1.45" fill="#8497B8"/>
<circle cx="1963.6" cy="1552.2" r="1.45" fill="#8497B8"/>
<circle cx="1967.4" cy="1552.2" r="1.45" fill="#8497B8"/>
<circle cx="1971.2" cy="1552.2" r="1.45" fill="#8497B8"/>
<circle cx="1984.6" cy="1287.01" r="2" fill="#88E5C9"/>
<circle cx="1984.6" cy="1496.06" r="2" fill="#88E5C9"/>
<circle cx="1984.6" cy="1543.88" r="2" fill="#88E5C9"/>
<circle cx="1987.6" cy="1548.73" r="2" fill="#88E5C9"/>
<circle cx="1981.6" cy="1551.51" r="2" fill="#88E5C9"/>
<circle cx="1997.8" cy="1552.2" r="1.45" fill="#FF1E0F"/>
<circle cx="2001.6" cy="1552.2" r="1.45" fill="#FF1E0F"/>
<circle cx="2005.4" cy="1552.2" r="1.45" fill="#FF1E0F"/>
<circle cx="2009.2" cy="1552.2" r="1.45" fill="#FF1E0F"/>
<circle cx="2013" cy="1552.2" r="1.45" fill="#FF1E0F"/>
<text transform="translate(1110 1399) rotate(-90)" font-size="23" text-anchor="middle" textLength="218" lengthAdjust="spacingAndGlyphs">Proportion of sequences</text>
<text x="1188.8" y="1537.8" font-size="18.5" font-weight="bold" text-anchor="middle">a</text>
<text x="1209" y="1303.7" font-size="18.5" font-weight="bold" text-anchor="middle">b</text>
<text x="1230.2" y="1480.5" font-size="18.5" font-weight="bold" text-anchor="middle">a</text>
<text x="1251.7" y="1349.3" font-size="18.5" font-weight="bold" text-anchor="middle">b</text>
<text x="1282.2" y="1532.9" font-size="18.5" font-weight="bold" text-anchor="middle">a</text>
<text x="1304.1" y="1281" font-size="18.5" font-weight="bold" text-anchor="middle">b</text>
<text x="1323.7" y="1368.3" font-size="18.5" font-weight="bold" text-anchor="middle">c</text>
<text x="1345.6" y="1346.8" font-size="18.5" font-weight="bold" text-anchor="middle">c</text>
<text x="1377.3" y="1539" font-size="18.5" font-weight="bold" text-anchor="middle">a</text>
<text x="1397.6" y="1504.1" font-size="18.5" font-weight="bold" text-anchor="middle">b</text>
<text x="1419.3" y="1532.9" font-size="18.5" font-weight="bold" text-anchor="middle">a</text>
<text x="1439.8" y="1395.9" font-size="18.5" font-weight="bold" text-anchor="middle">c</text>
<text x="1471.2" y="1539" font-size="18.5" font-weight="bold" text-anchor="middle">a</text>
<text x="1493.9" y="1497.6" font-size="18.5" font-weight="bold" text-anchor="middle">b</text>
<text x="1514.4" y="1536.6" font-size="18.5" font-weight="bold" text-anchor="middle">a</text>
<text x="1534.1" y="1462.2" font-size="18.5" font-weight="bold" text-anchor="middle">b</text>
<text x="1565.9" y="1456.1" font-size="18.5" font-weight="bold" text-anchor="middle">a</text>
<text x="1586.6" y="1537.8" font-size="18.5" font-weight="bold" text-anchor="middle">b</text>
<text x="1607.8" y="1518.3" font-size="18.5" font-weight="bold" text-anchor="middle">c</text>
<text x="1628" y="1537.8" font-size="18.5" font-weight="bold" text-anchor="middle">b</text>
<text x="1659.8" y="1413.4" font-size="18.5" font-weight="bold" text-anchor="middle">a</text>
<text x="1681" y="1543.2" font-size="18.5" font-weight="bold" text-anchor="middle">b</text>
<text x="1702.4" y="1485.4" font-size="18.5" font-weight="bold" text-anchor="middle">a</text>
<text x="1721.5" y="1532.9" font-size="18.5" font-weight="bold" text-anchor="middle">b</text>
<text x="1752.9" y="1536.1" font-size="18.5" font-weight="bold" text-anchor="middle">a</text>
<text x="1773.7" y="1535.4" font-size="18.5" font-weight="bold" text-anchor="middle">a</text>
<text x="1797.6" y="1523.2" font-size="18.5" font-weight="bold" text-anchor="middle">b</text>
<text x="1817.1" y="1534.6" font-size="18.5" font-weight="bold" text-anchor="middle">a</text>
<text x="1851.2" y="1539.5" font-size="18.5" font-weight="bold" text-anchor="middle">a</text>
<text x="1870.7" y="1516.3" font-size="18.5" font-weight="bold" text-anchor="middle">b</text>
<text x="1890.2" y="1518.8" font-size="18.5" font-weight="bold" text-anchor="middle">c</text>
<text x="1910.2" y="1494.4" font-size="18.5" font-weight="bold" text-anchor="middle">c</text>
<text x="1942.7" y="1508" font-size="18.5" font-weight="bold" text-anchor="middle">a</text>
<text x="1964.6" y="1537.8" font-size="18.5" font-weight="bold" text-anchor="middle">b</text>
<text x="1985.4" y="1369" font-size="18.5" font-weight="bold" text-anchor="middle">c</text>
<text x="2003.7" y="1540.7" font-size="18.5" font-weight="bold" text-anchor="middle">b</text>
<text transform="translate(1223.7 1577.5) scale(0.93 1) rotate(-45)" font-size="18.0" font-weight="bold" text-anchor="end">g__Coriobacteriaceae_UCG-002</text>
<text transform="translate(1318.1 1577.5) scale(0.93 1) rotate(-45)" font-size="18.0" font-weight="bold" text-anchor="end">g__Lactobacillus</text>
<text transform="translate(1412.5 1577.5) scale(0.93 1) rotate(-45)" font-size="18.0" font-weight="bold" text-anchor="end">g__Parasutterella</text>
<text transform="translate(1506.9 1577.5) scale(0.93 1) rotate(-45)" font-size="18.0" font-weight="bold" text-anchor="end">g__Clostridium_sensu_stricto_1</text>
<text transform="translate(1601.3 1577.5) scale(0.93 1) rotate(-45)" font-size="18.0" font-weight="bold" text-anchor="end">g__Rikenellaceae_RC9_gut_group</text>
<text transform="translate(1692.2 1580.5) scale(0.93 1) rotate(-45)" font-size="18.0" font-weight="bold" text-anchor="end">g__Helicobacter</text>
<text transform="translate(1790.1 1577.5) scale(0.93 1) rotate(-45)" font-size="18.0" font-weight="bold" text-anchor="end">g__Akkermansia</text>
<text transform="translate(1881.2 1580) scale(0.93 1) rotate(-45)" font-size="18.0" font-weight="bold" text-anchor="end">g__Erysipelatoclostridium</text>
<text transform="translate(1978.9 1577.5) scale(0.93 1) rotate(-45)" font-size="18.0" font-weight="bold" text-anchor="end">g__Alloprevotella</text>
<circle cx="1849.3" cy="1242.9" r="2" fill="#F0957F"/>
<text x="1884.1" y="1249.5" font-size="18.5" font-weight="bold">LD</text>
<circle cx="1849.3" cy="1270.2" r="2" fill="#8497B8"/>
<text x="1884.1" y="1276.8" font-size="18.5" font-weight="bold">LD-DSS</text>
<circle cx="1849.3" cy="1297.3" r="2" fill="#88E5C9"/>
<text x="1884.1" y="1304.1" font-size="18.5" font-weight="bold">LD-AR113</text>
<circle cx="1849.3" cy="1323.2" r="2" fill="#FF1E0F"/>
<text x="1884.1" y="1330" font-size="18.5" font-weight="bold" stroke="#000" stroke-width="0.5">LDΔbsh1</text>
</g>
</svg>
</body>
</html>
